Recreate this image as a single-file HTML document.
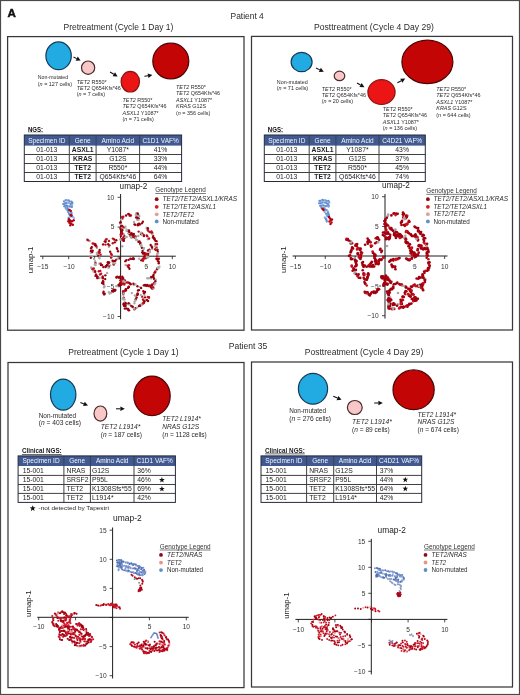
<!DOCTYPE html>
<html><head><meta charset="utf-8"><title>Figure</title>
<style>html,body{margin:0;padding:0;background:#fff;width:520px;height:695px;overflow:hidden;font-family:"Liberation Sans",sans-serif}svg{display:block;will-change:transform}</style>
</head><body>
<svg width="520" height="695" viewBox="0 0 520 695" font-family='&quot;Liberation Sans&quot;, sans-serif'><rect x="0.50" y="0.50" width="519.00" height="694.00" fill="none" stroke="#4a4a4a" stroke-width="1.20"/>
<text stroke="#111" stroke-width="0.45" x="7.60" y="17.10" font-size="11.60" fill="#111" font-weight="bold"><tspan >A</tspan></text>
<text x="230.50" y="18.60" font-size="8.50" fill="#2a2a2a" textLength="33.30" lengthAdjust="spacingAndGlyphs"><tspan >Patient 4</tspan></text>
<text x="228.80" y="349.20" font-size="8.50" fill="#2a2a2a" textLength="38.40" lengthAdjust="spacingAndGlyphs"><tspan >Patient 35</tspan></text>
<rect x="7.60" y="36.60" width="236.40" height="293.60" fill="none" stroke="#383838" stroke-width="1.25"/>
<rect x="251.50" y="36.40" width="261.00" height="293.60" fill="none" stroke="#383838" stroke-width="1.25"/>
<rect x="8.00" y="362.50" width="236.00" height="325.10" fill="none" stroke="#383838" stroke-width="1.25"/>
<rect x="251.50" y="362.00" width="261.00" height="325.00" fill="none" stroke="#383838" stroke-width="1.25"/>
<text x="63.50" y="29.80" font-size="8.60" fill="#2a2a2a" textLength="109.80" lengthAdjust="spacingAndGlyphs"><tspan >Pretreatment (Cycle 1 Day 1)</tspan></text>
<ellipse cx="58.60" cy="55.80" rx="12.70" ry="13.90" fill="#22aae2" stroke="#173b56" stroke-width="1.20"/>
<text x="37.80" y="79.30" font-size="5.45" fill="#2a2a2a" textLength="30.30" lengthAdjust="spacingAndGlyphs"><tspan >Non-mutated</tspan></text>
<text x="37.80" y="85.60" font-size="5.45" fill="#2a2a2a" textLength="34.30" lengthAdjust="spacingAndGlyphs"><tspan >(</tspan><tspan font-style="italic">n</tspan><tspan > = 127 cells)</tspan></text>
<line x1="73.50" y1="57.00" x2="76.68" y2="58.61" stroke="#111" stroke-width="1.05"/>
<polygon points="80.60,60.60 75.64,60.66 77.72,56.56" fill="#111"/>
<ellipse cx="88.10" cy="67.70" rx="6.60" ry="6.70" fill="#f8c8c8" stroke="#4a2a2a" stroke-width="1.20"/>
<text x="76.70" y="83.70" font-size="5.45" fill="#2a2a2a"><tspan font-style="italic">TET2</tspan><tspan > R550*</tspan></text>
<text x="76.70" y="90.00" font-size="5.45" fill="#2a2a2a"><tspan font-style="italic">TET2</tspan><tspan > Q654Kfs*46</tspan></text>
<text x="76.70" y="96.30" font-size="5.45" fill="#2a2a2a"><tspan >(</tspan><tspan font-style="italic">n</tspan><tspan > = 7 cells)</tspan></text>
<line x1="110.00" y1="72.00" x2="113.84" y2="74.32" stroke="#111" stroke-width="1.05"/>
<polygon points="117.60,76.60 112.64,76.29 115.03,72.35" fill="#111"/>
<ellipse cx="130.30" cy="81.70" rx="9.20" ry="10.30" fill="#eb1515" stroke="#8c1212" stroke-width="1.20"/>
<text x="122.50" y="102.10" font-size="5.45" fill="#2a2a2a"><tspan font-style="italic">TET2</tspan><tspan > R550*</tspan></text>
<text x="122.50" y="108.47" font-size="5.45" fill="#2a2a2a"><tspan font-style="italic">TET2</tspan><tspan > Q654Kfs*46</tspan></text>
<text x="122.50" y="114.84" font-size="5.45" fill="#2a2a2a"><tspan font-style="italic">ASXL1</tspan><tspan > Y1087*</tspan></text>
<text x="122.50" y="121.21" font-size="5.45" fill="#2a2a2a"><tspan >(</tspan><tspan font-style="italic">n</tspan><tspan > = 71 cells)</tspan></text>
<line x1="144.40" y1="76.30" x2="148.07" y2="75.66" stroke="#111" stroke-width="1.05"/>
<polygon points="152.40,74.90 148.46,77.92 147.67,73.39" fill="#111"/>
<ellipse cx="170.80" cy="61.10" rx="18.00" ry="17.90" fill="#c30505" stroke="#4d0505" stroke-width="1.20"/>
<text x="176.00" y="89.00" font-size="5.45" fill="#2a2a2a"><tspan font-style="italic">TET2</tspan><tspan > R550*</tspan></text>
<text x="176.00" y="95.40" font-size="5.45" fill="#2a2a2a"><tspan font-style="italic">TET2</tspan><tspan > Q654Kfs*46</tspan></text>
<text x="176.00" y="101.80" font-size="5.45" fill="#2a2a2a"><tspan font-style="italic">ASXL1</tspan><tspan > Y1087*</tspan></text>
<text x="176.00" y="108.20" font-size="5.45" fill="#2a2a2a"><tspan font-style="italic">KRAS</tspan><tspan > G12S</tspan></text>
<text x="176.00" y="114.60" font-size="5.45" fill="#2a2a2a"><tspan >(</tspan><tspan font-style="italic">n</tspan><tspan > = 356 cells)</tspan></text>
<text x="314.00" y="29.80" font-size="8.60" fill="#2a2a2a" textLength="119.80" lengthAdjust="spacingAndGlyphs"><tspan >Posttreatment (Cycle 4 Day 29)</tspan></text>
<ellipse cx="301.60" cy="62.00" rx="10.50" ry="9.70" fill="#22aae2" stroke="#173b56" stroke-width="1.20"/>
<text x="276.80" y="83.50" font-size="5.45" fill="#2a2a2a" textLength="31.00" lengthAdjust="spacingAndGlyphs"><tspan >Non-mutated</tspan></text>
<text x="276.80" y="90.00" font-size="5.45" fill="#2a2a2a" textLength="31.40" lengthAdjust="spacingAndGlyphs"><tspan >(</tspan><tspan font-style="italic">n</tspan><tspan > = 71 cells)</tspan></text>
<line x1="316.00" y1="68.00" x2="319.84" y2="69.87" stroke="#111" stroke-width="1.05"/>
<polygon points="323.80,71.80 318.84,71.94 320.85,67.81" fill="#111"/>
<ellipse cx="339.50" cy="75.90" rx="5.30" ry="4.70" fill="#f8c8c8" stroke="#4a2a2a" stroke-width="1.20"/>
<text x="321.80" y="90.70" font-size="5.45" fill="#2a2a2a"><tspan font-style="italic">TET2</tspan><tspan > R550*</tspan></text>
<text x="321.80" y="97.00" font-size="5.45" fill="#2a2a2a"><tspan font-style="italic">TET2</tspan><tspan > Q654Kfs*46</tspan></text>
<text x="321.80" y="103.30" font-size="5.45" fill="#2a2a2a"><tspan >(</tspan><tspan font-style="italic">n</tspan><tspan > = 20 cells)</tspan></text>
<line x1="357.00" y1="83.00" x2="360.57" y2="85.03" stroke="#111" stroke-width="1.05"/>
<polygon points="364.40,87.20 359.44,87.03 361.71,83.03" fill="#111"/>
<ellipse cx="381.50" cy="92.10" rx="13.60" ry="12.40" fill="#eb1515" stroke="#8c1212" stroke-width="1.20"/>
<text x="382.80" y="111.00" font-size="5.45" fill="#2a2a2a"><tspan font-style="italic">TET2</tspan><tspan > R550*</tspan></text>
<text x="382.80" y="117.40" font-size="5.45" fill="#2a2a2a"><tspan font-style="italic">TET2</tspan><tspan > Q654Kfs*46</tspan></text>
<text x="382.80" y="123.80" font-size="5.45" fill="#2a2a2a"><tspan font-style="italic">ASXL1</tspan><tspan > Y1087*</tspan></text>
<text x="382.80" y="130.20" font-size="5.45" fill="#2a2a2a"><tspan >(</tspan><tspan font-style="italic">n</tspan><tspan > = 136 cells)</tspan></text>
<line x1="397.40" y1="82.80" x2="401.33" y2="80.69" stroke="#111" stroke-width="1.05"/>
<polygon points="405.20,78.60 402.42,82.71 400.24,78.66" fill="#111"/>
<ellipse cx="427.40" cy="61.90" rx="25.50" ry="21.70" fill="#c30505" stroke="#4d0505" stroke-width="1.20"/>
<text x="436.30" y="90.60" font-size="5.45" fill="#2a2a2a"><tspan font-style="italic">TET2</tspan><tspan > R550*</tspan></text>
<text x="436.30" y="97.10" font-size="5.45" fill="#2a2a2a"><tspan font-style="italic">TET2</tspan><tspan > Q654Kfs*46</tspan></text>
<text x="436.30" y="103.60" font-size="5.45" fill="#2a2a2a"><tspan font-style="italic">ASXL1</tspan><tspan > Y1087*</tspan></text>
<text x="436.30" y="110.10" font-size="5.45" fill="#2a2a2a"><tspan font-style="italic">KRAS</tspan><tspan > G12S</tspan></text>
<text x="436.30" y="116.60" font-size="5.45" fill="#2a2a2a"><tspan >(</tspan><tspan font-style="italic">n</tspan><tspan > = 644 cells)</tspan></text>
<text x="27.90" y="131.80" font-size="6.40" fill="#0a0a0a" font-weight="bold" textLength="15.20" lengthAdjust="spacingAndGlyphs"><tspan >NGS:</tspan></text>
<line x1="27.90" y1="132.60" x2="43.10" y2="132.60" stroke="#b8b8c8" stroke-width="0.60"/>
<rect x="24.30" y="135.00" width="157.30" height="10.60" fill="#405991" stroke="none" stroke-width="1.00"/>
<text x="46.80" y="142.70" font-size="6.50" fill="#f4f6fb" text-anchor="middle"><tspan >Specimen ID</tspan></text>
<text x="82.70" y="142.70" font-size="6.50" fill="#f4f6fb" text-anchor="middle"><tspan >Gene</tspan></text>
<text x="117.85" y="142.70" font-size="6.50" fill="#f4f6fb" text-anchor="middle"><tspan >Amino Acid</tspan></text>
<text x="160.60" y="142.70" font-size="6.50" fill="#f4f6fb" text-anchor="middle"><tspan >C1D1 VAF%</tspan></text>
<text x="46.80" y="152.20" font-size="6.80" fill="#1e1e1e" text-anchor="middle"><tspan >01-013</tspan></text>
<text x="82.70" y="152.20" font-size="6.80" fill="#1e1e1e" text-anchor="middle"><tspan font-weight="bold">ASXL1</tspan></text>
<text x="117.85" y="152.20" font-size="6.80" fill="#1e1e1e" text-anchor="middle"><tspan >Y1087*</tspan></text>
<text x="160.60" y="152.20" font-size="6.80" fill="#1e1e1e" text-anchor="middle"><tspan >41%</tspan></text>
<text x="46.80" y="161.20" font-size="6.80" fill="#1e1e1e" text-anchor="middle"><tspan >01-013</tspan></text>
<text x="82.70" y="161.20" font-size="6.80" fill="#1e1e1e" text-anchor="middle"><tspan font-weight="bold">KRAS</tspan></text>
<text x="117.85" y="161.20" font-size="6.80" fill="#1e1e1e" text-anchor="middle"><tspan >G12S</tspan></text>
<text x="160.60" y="161.20" font-size="6.80" fill="#1e1e1e" text-anchor="middle"><tspan >33%</tspan></text>
<text x="46.80" y="170.20" font-size="6.80" fill="#1e1e1e" text-anchor="middle"><tspan >01-013</tspan></text>
<text x="82.70" y="170.20" font-size="6.80" fill="#1e1e1e" text-anchor="middle"><tspan font-weight="bold">TET2</tspan></text>
<text x="117.85" y="170.20" font-size="6.80" fill="#1e1e1e" text-anchor="middle"><tspan >R550*</tspan></text>
<text x="160.60" y="170.20" font-size="6.80" fill="#1e1e1e" text-anchor="middle"><tspan >44%</tspan></text>
<text x="46.80" y="179.20" font-size="6.80" fill="#1e1e1e" text-anchor="middle"><tspan >01-013</tspan></text>
<text x="82.70" y="179.20" font-size="6.80" fill="#1e1e1e" text-anchor="middle"><tspan font-weight="bold">TET2</tspan></text>
<text x="117.85" y="179.20" font-size="6.80" fill="#1e1e1e" text-anchor="middle"><tspan >Q654Kfs*46</tspan></text>
<text x="160.60" y="179.20" font-size="6.80" fill="#1e1e1e" text-anchor="middle"><tspan >64%</tspan></text>
<line x1="24.30" y1="154.50" x2="181.60" y2="154.50" stroke="#404040" stroke-width="1.00"/>
<line x1="24.30" y1="163.50" x2="181.60" y2="163.50" stroke="#404040" stroke-width="1.00"/>
<line x1="24.30" y1="172.50" x2="181.60" y2="172.50" stroke="#404040" stroke-width="1.00"/>
<line x1="69.30" y1="135.00" x2="69.30" y2="181.50" stroke="#404040" stroke-width="1.00"/>
<line x1="96.10" y1="135.00" x2="96.10" y2="181.50" stroke="#404040" stroke-width="1.00"/>
<line x1="139.60" y1="135.00" x2="139.60" y2="181.50" stroke="#404040" stroke-width="1.00"/>
<rect x="24.30" y="135.00" width="157.30" height="46.50" fill="none" stroke="#262a3a" stroke-width="1.00"/>
<text x="267.80" y="131.80" font-size="6.40" fill="#0a0a0a" font-weight="bold" textLength="15.20" lengthAdjust="spacingAndGlyphs"><tspan >NGS:</tspan></text>
<line x1="267.80" y1="132.60" x2="283.00" y2="132.60" stroke="#b8b8c8" stroke-width="0.60"/>
<rect x="264.30" y="135.00" width="161.00" height="10.60" fill="#405991" stroke="none" stroke-width="1.00"/>
<text x="286.75" y="142.70" font-size="6.50" fill="#f4f6fb" text-anchor="middle"><tspan >Specimen ID</tspan></text>
<text x="322.55" y="142.70" font-size="6.50" fill="#f4f6fb" text-anchor="middle"><tspan >Gene</tspan></text>
<text x="357.45" y="142.70" font-size="6.50" fill="#f4f6fb" text-anchor="middle"><tspan >Amino Acid</tspan></text>
<text x="402.15" y="142.70" font-size="6.50" fill="#f4f6fb" text-anchor="middle"><tspan >C4D21 VAF%</tspan></text>
<text x="286.75" y="152.20" font-size="6.80" fill="#1e1e1e" text-anchor="middle"><tspan >01-013</tspan></text>
<text x="322.55" y="152.20" font-size="6.80" fill="#1e1e1e" text-anchor="middle"><tspan font-weight="bold">ASXL1</tspan></text>
<text x="357.45" y="152.20" font-size="6.80" fill="#1e1e1e" text-anchor="middle"><tspan >Y1087*</tspan></text>
<text x="402.15" y="152.20" font-size="6.80" fill="#1e1e1e" text-anchor="middle"><tspan >43%</tspan></text>
<text x="286.75" y="161.20" font-size="6.80" fill="#1e1e1e" text-anchor="middle"><tspan >01-013</tspan></text>
<text x="322.55" y="161.20" font-size="6.80" fill="#1e1e1e" text-anchor="middle"><tspan font-weight="bold">KRAS</tspan></text>
<text x="357.45" y="161.20" font-size="6.80" fill="#1e1e1e" text-anchor="middle"><tspan >G12S</tspan></text>
<text x="402.15" y="161.20" font-size="6.80" fill="#1e1e1e" text-anchor="middle"><tspan >37%</tspan></text>
<text x="286.75" y="170.20" font-size="6.80" fill="#1e1e1e" text-anchor="middle"><tspan >01-013</tspan></text>
<text x="322.55" y="170.20" font-size="6.80" fill="#1e1e1e" text-anchor="middle"><tspan font-weight="bold">TET2</tspan></text>
<text x="357.45" y="170.20" font-size="6.80" fill="#1e1e1e" text-anchor="middle"><tspan >R550*</tspan></text>
<text x="402.15" y="170.20" font-size="6.80" fill="#1e1e1e" text-anchor="middle"><tspan >45%</tspan></text>
<text x="286.75" y="179.20" font-size="6.80" fill="#1e1e1e" text-anchor="middle"><tspan >01-013</tspan></text>
<text x="322.55" y="179.20" font-size="6.80" fill="#1e1e1e" text-anchor="middle"><tspan font-weight="bold">TET2</tspan></text>
<text x="357.45" y="179.20" font-size="6.80" fill="#1e1e1e" text-anchor="middle"><tspan >Q654Kfs*46</tspan></text>
<text x="402.15" y="179.20" font-size="6.80" fill="#1e1e1e" text-anchor="middle"><tspan >74%</tspan></text>
<line x1="264.30" y1="154.50" x2="425.30" y2="154.50" stroke="#404040" stroke-width="1.00"/>
<line x1="264.30" y1="163.50" x2="425.30" y2="163.50" stroke="#404040" stroke-width="1.00"/>
<line x1="264.30" y1="172.50" x2="425.30" y2="172.50" stroke="#404040" stroke-width="1.00"/>
<line x1="309.20" y1="135.00" x2="309.20" y2="181.50" stroke="#404040" stroke-width="1.00"/>
<line x1="335.90" y1="135.00" x2="335.90" y2="181.50" stroke="#404040" stroke-width="1.00"/>
<line x1="379.00" y1="135.00" x2="379.00" y2="181.50" stroke="#404040" stroke-width="1.00"/>
<rect x="264.30" y="135.00" width="161.00" height="46.50" fill="none" stroke="#262a3a" stroke-width="1.00"/>
<text x="68.30" y="355.20" font-size="8.60" fill="#2a2a2a" textLength="110.30" lengthAdjust="spacingAndGlyphs"><tspan >Pretreatment (Cycle 1 Day 1)</tspan></text>
<ellipse cx="63.20" cy="394.60" rx="12.70" ry="15.50" fill="#22aae2" stroke="#173b56" stroke-width="1.20"/>
<text x="38.70" y="418.00" font-size="6.40" fill="#2a2a2a" textLength="37.50" lengthAdjust="spacingAndGlyphs"><tspan >Non-mutated</tspan></text>
<text x="38.70" y="425.30" font-size="6.40" fill="#2a2a2a" textLength="42.30" lengthAdjust="spacingAndGlyphs"><tspan >(</tspan><tspan font-style="italic">n</tspan><tspan > = 403 cells)</tspan></text>
<line x1="80.40" y1="402.50" x2="83.93" y2="403.94" stroke="#111" stroke-width="1.05"/>
<polygon points="88.00,405.60 83.06,406.07 84.79,401.81" fill="#111"/>
<ellipse cx="100.40" cy="413.60" rx="6.40" ry="7.60" fill="#f8c8c8" stroke="#4a2a2a" stroke-width="1.20"/>
<text x="100.70" y="428.80" font-size="6.40" fill="#2a2a2a" textLength="39.70" lengthAdjust="spacingAndGlyphs"><tspan font-style="italic">TET2 L1914*</tspan></text>
<text x="100.70" y="437.20" font-size="6.55" fill="#2a2a2a"><tspan >(</tspan><tspan font-style="italic">n</tspan><tspan > = 187 cells)</tspan></text>
<line x1="116.00" y1="408.80" x2="120.40" y2="408.80" stroke="#111" stroke-width="1.05"/>
<polygon points="124.80,408.80 120.40,411.10 120.40,406.50" fill="#111"/>
<ellipse cx="152.00" cy="395.90" rx="18.20" ry="19.80" fill="#c30505" stroke="#4d0505" stroke-width="1.20"/>
<text x="162.30" y="420.80" font-size="6.55" fill="#2a2a2a"><tspan font-style="italic">TET2 L1914*</tspan></text>
<text x="162.30" y="428.65" font-size="6.55" fill="#2a2a2a"><tspan font-style="italic">NRAS G12S</tspan></text>
<text x="162.30" y="436.50" font-size="6.55" fill="#2a2a2a"><tspan >(</tspan><tspan font-style="italic">n</tspan><tspan > = 1128 cells)</tspan></text>
<text x="304.80" y="355.20" font-size="8.60" fill="#2a2a2a" textLength="118.50" lengthAdjust="spacingAndGlyphs"><tspan >Posttreatment (Cycle 4 Day 29)</tspan></text>
<ellipse cx="313.00" cy="388.80" rx="14.60" ry="15.40" fill="#22aae2" stroke="#173b56" stroke-width="1.20"/>
<text x="289.20" y="413.10" font-size="6.40" fill="#2a2a2a" textLength="37.00" lengthAdjust="spacingAndGlyphs"><tspan >Non-mutated</tspan></text>
<text x="289.20" y="421.00" font-size="6.40" fill="#2a2a2a" textLength="41.80" lengthAdjust="spacingAndGlyphs"><tspan >(</tspan><tspan font-style="italic">n</tspan><tspan > = 276 cells)</tspan></text>
<line x1="333.30" y1="396.20" x2="337.47" y2="398.03" stroke="#111" stroke-width="1.05"/>
<polygon points="341.50,399.80 336.55,400.14 338.40,395.93" fill="#111"/>
<ellipse cx="354.80" cy="407.50" rx="7.40" ry="7.00" fill="#f8c8c8" stroke="#4a2a2a" stroke-width="1.20"/>
<text x="352.10" y="423.80" font-size="6.40" fill="#2a2a2a" textLength="39.70" lengthAdjust="spacingAndGlyphs"><tspan font-style="italic">TET2 L1914*</tspan></text>
<text x="352.10" y="431.50" font-size="6.55" fill="#2a2a2a"><tspan >(</tspan><tspan font-style="italic">n</tspan><tspan > = 89 cells)</tspan></text>
<line x1="374.20" y1="403.00" x2="378.40" y2="403.00" stroke="#111" stroke-width="1.05"/>
<polygon points="382.80,403.00 378.40,405.30 378.40,400.70" fill="#111"/>
<ellipse cx="413.60" cy="389.80" rx="20.60" ry="19.90" fill="#c30505" stroke="#4d0505" stroke-width="1.20"/>
<text x="417.50" y="416.60" font-size="6.55" fill="#2a2a2a"><tspan font-style="italic">TET2 L1914*</tspan></text>
<text x="417.50" y="424.40" font-size="6.55" fill="#2a2a2a"><tspan font-style="italic">NRAS G12S</tspan></text>
<text x="417.50" y="432.20" font-size="6.55" fill="#2a2a2a"><tspan >(</tspan><tspan font-style="italic">n</tspan><tspan > = 674 cells)</tspan></text>
<text x="21.90" y="453.00" font-size="6.40" fill="#1a1a1a" font-weight="bold" textLength="39.80" lengthAdjust="spacingAndGlyphs" text-decoration="underline"><tspan >Clinical NGS:</tspan></text>
<rect x="18.10" y="455.90" width="157.30" height="10.10" fill="#405991" stroke="none" stroke-width="1.00"/>
<text x="41.00" y="463.10" font-size="6.50" fill="#f4f6fb" text-anchor="middle"><tspan >Specimen ID</tspan></text>
<text x="77.15" y="463.10" font-size="6.50" fill="#f4f6fb" text-anchor="middle"><tspan >Gene</tspan></text>
<text x="112.20" y="463.10" font-size="6.50" fill="#f4f6fb" text-anchor="middle"><tspan >Amino Acid</tspan></text>
<text x="154.70" y="463.10" font-size="6.50" fill="#f4f6fb" text-anchor="middle"><tspan >C1D1 VAF%</tspan></text>
<text x="22.70" y="473.10" font-size="6.80" fill="#1e1e1e"><tspan >15-001</tspan></text>
<text x="66.50" y="473.10" font-size="6.80" fill="#1e1e1e"><tspan >NRAS</tspan></text>
<text x="92.00" y="473.10" font-size="6.80" fill="#1e1e1e"><tspan >G12S</tspan></text>
<text x="137.30" y="473.10" font-size="6.80" fill="#1e1e1e"><tspan >36%</tspan></text>
<text x="22.70" y="482.20" font-size="6.80" fill="#1e1e1e"><tspan >15-001</tspan></text>
<text x="66.50" y="482.20" font-size="6.80" fill="#1e1e1e"><tspan >SRSF2</tspan></text>
<text x="92.00" y="482.20" font-size="6.80" fill="#1e1e1e"><tspan >P95L</tspan></text>
<text x="137.30" y="482.20" font-size="6.80" fill="#1e1e1e"><tspan >46%</tspan></text>
<text x="22.70" y="491.10" font-size="6.80" fill="#1e1e1e"><tspan >15-001</tspan></text>
<text x="66.50" y="491.10" font-size="6.80" fill="#1e1e1e"><tspan >TET2</tspan></text>
<text x="92.00" y="491.10" font-size="6.80" fill="#1e1e1e"><tspan >K1308Sfs*55</tspan></text>
<text x="137.30" y="491.10" font-size="6.80" fill="#1e1e1e"><tspan >69%</tspan></text>
<text x="22.70" y="500.10" font-size="6.80" fill="#1e1e1e"><tspan >15-001</tspan></text>
<text x="66.50" y="500.10" font-size="6.80" fill="#1e1e1e"><tspan >TET2</tspan></text>
<text x="92.00" y="500.10" font-size="6.80" fill="#1e1e1e"><tspan >L1914*</tspan></text>
<text x="137.30" y="500.10" font-size="6.80" fill="#1e1e1e"><tspan >42%</tspan></text>
<line x1="18.10" y1="475.40" x2="175.40" y2="475.40" stroke="#404040" stroke-width="1.00"/>
<line x1="18.10" y1="484.50" x2="175.40" y2="484.50" stroke="#404040" stroke-width="1.00"/>
<line x1="18.10" y1="493.40" x2="175.40" y2="493.40" stroke="#404040" stroke-width="1.00"/>
<line x1="63.90" y1="455.90" x2="63.90" y2="502.40" stroke="#404040" stroke-width="1.00"/>
<line x1="90.40" y1="455.90" x2="90.40" y2="502.40" stroke="#404040" stroke-width="1.00"/>
<line x1="134.00" y1="455.90" x2="134.00" y2="502.40" stroke="#404040" stroke-width="1.00"/>
<rect x="18.10" y="455.90" width="157.30" height="46.50" fill="none" stroke="#262a3a" stroke-width="1.00"/>
<text x="265.00" y="452.60" font-size="6.40" fill="#1a1a1a" font-weight="bold" textLength="39.80" lengthAdjust="spacingAndGlyphs" text-decoration="underline"><tspan >Clinical NGS:</tspan></text>
<rect x="261.00" y="455.90" width="160.70" height="10.10" fill="#405991" stroke="none" stroke-width="1.00"/>
<text x="283.80" y="463.10" font-size="6.50" fill="#f4f6fb" text-anchor="middle"><tspan >Specimen ID</tspan></text>
<text x="320.15" y="463.10" font-size="6.50" fill="#f4f6fb" text-anchor="middle"><tspan >Gene</tspan></text>
<text x="355.10" y="463.10" font-size="6.50" fill="#f4f6fb" text-anchor="middle"><tspan >Amino Acid</tspan></text>
<text x="399.10" y="463.10" font-size="6.50" fill="#f4f6fb" text-anchor="middle"><tspan >C4D21 VAF%</tspan></text>
<text x="265.60" y="473.10" font-size="6.80" fill="#1e1e1e"><tspan >15-001</tspan></text>
<text x="309.20" y="473.10" font-size="6.80" fill="#1e1e1e"><tspan >NRAS</tspan></text>
<text x="335.30" y="473.10" font-size="6.80" fill="#1e1e1e"><tspan >G12S</tspan></text>
<text x="379.80" y="473.10" font-size="6.80" fill="#1e1e1e"><tspan >37%</tspan></text>
<text x="265.60" y="482.20" font-size="6.80" fill="#1e1e1e"><tspan >15-001</tspan></text>
<text x="309.20" y="482.20" font-size="6.80" fill="#1e1e1e"><tspan >SRSF2</tspan></text>
<text x="335.30" y="482.20" font-size="6.80" fill="#1e1e1e"><tspan >P95L</tspan></text>
<text x="379.80" y="482.20" font-size="6.80" fill="#1e1e1e"><tspan >44%</tspan></text>
<text x="265.60" y="491.10" font-size="6.80" fill="#1e1e1e"><tspan >15-001</tspan></text>
<text x="309.20" y="491.10" font-size="6.80" fill="#1e1e1e"><tspan >TET2</tspan></text>
<text x="335.30" y="491.10" font-size="6.80" fill="#1e1e1e"><tspan >K1308Sfs*55</tspan></text>
<text x="379.80" y="491.10" font-size="6.80" fill="#1e1e1e"><tspan >64%</tspan></text>
<text x="265.60" y="500.10" font-size="6.80" fill="#1e1e1e"><tspan >15-001</tspan></text>
<text x="309.20" y="500.10" font-size="6.80" fill="#1e1e1e"><tspan >TET2</tspan></text>
<text x="335.30" y="500.10" font-size="6.80" fill="#1e1e1e"><tspan >L1914*</tspan></text>
<text x="379.80" y="500.10" font-size="6.80" fill="#1e1e1e"><tspan >42%</tspan></text>
<line x1="261.00" y1="475.40" x2="421.70" y2="475.40" stroke="#404040" stroke-width="1.00"/>
<line x1="261.00" y1="484.50" x2="421.70" y2="484.50" stroke="#404040" stroke-width="1.00"/>
<line x1="261.00" y1="493.40" x2="421.70" y2="493.40" stroke="#404040" stroke-width="1.00"/>
<line x1="306.60" y1="455.90" x2="306.60" y2="502.40" stroke="#404040" stroke-width="1.00"/>
<line x1="333.70" y1="455.90" x2="333.70" y2="502.40" stroke="#404040" stroke-width="1.00"/>
<line x1="376.50" y1="455.90" x2="376.50" y2="502.40" stroke="#404040" stroke-width="1.00"/>
<rect x="261.00" y="455.90" width="160.70" height="46.50" fill="none" stroke="#262a3a" stroke-width="1.00"/>
<polygon points="161.90,477.00 162.64,478.98 164.75,479.07 163.10,480.39 163.66,482.43 161.90,481.26 160.14,482.43 160.70,480.39 159.05,479.07 161.16,478.98" fill="#111"/>
<polygon points="161.90,485.90 162.64,487.88 164.75,487.97 163.10,489.29 163.66,491.33 161.90,490.16 160.14,491.33 160.70,489.29 159.05,487.97 161.16,487.88" fill="#111"/>
<polygon points="405.30,476.70 406.04,478.68 408.15,478.77 406.50,480.09 407.06,482.13 405.30,480.96 403.54,482.13 404.10,480.09 402.45,478.77 404.56,478.68" fill="#111"/>
<polygon points="405.30,485.70 406.04,487.68 408.15,487.77 406.50,489.09 407.06,491.13 405.30,489.96 403.54,491.13 404.10,489.09 402.45,487.77 404.56,487.68" fill="#111"/>
<polygon points="32.70,505.25 33.48,507.33 35.70,507.43 33.96,508.81 34.55,510.95 32.70,509.72 30.85,510.95 31.44,508.81 29.70,507.43 31.92,507.33" fill="#111"/>
<text x="38.50" y="510.20" font-size="6.10" fill="#2a2a2a" textLength="70.40" lengthAdjust="spacingAndGlyphs"><tspan >-not detected by Tapestri</tspan></text>
<line x1="120.60" y1="194.00" x2="120.60" y2="319.20" stroke="#1e1e1e" stroke-width="1.00"/>
<line x1="40.00" y1="256.20" x2="175.80" y2="256.20" stroke="#1e1e1e" stroke-width="1.00"/>
<line x1="42.80" y1="256.20" x2="42.80" y2="259.20" stroke="#1e1e1e" stroke-width="0.80"/>
<line x1="68.70" y1="256.20" x2="68.70" y2="259.20" stroke="#1e1e1e" stroke-width="0.80"/>
<line x1="94.60" y1="256.20" x2="94.60" y2="259.20" stroke="#1e1e1e" stroke-width="0.80"/>
<line x1="120.50" y1="256.20" x2="120.50" y2="259.20" stroke="#1e1e1e" stroke-width="0.80"/>
<line x1="146.40" y1="256.20" x2="146.40" y2="259.20" stroke="#1e1e1e" stroke-width="0.80"/>
<line x1="172.30" y1="256.20" x2="172.30" y2="259.20" stroke="#1e1e1e" stroke-width="0.80"/>
<line x1="117.60" y1="197.30" x2="120.60" y2="197.30" stroke="#1e1e1e" stroke-width="0.80"/>
<line x1="117.60" y1="227.10" x2="120.60" y2="227.10" stroke="#1e1e1e" stroke-width="0.80"/>
<line x1="117.60" y1="256.90" x2="120.60" y2="256.90" stroke="#1e1e1e" stroke-width="0.80"/>
<line x1="117.60" y1="286.70" x2="120.60" y2="286.70" stroke="#1e1e1e" stroke-width="0.80"/>
<line x1="117.60" y1="316.50" x2="120.60" y2="316.50" stroke="#1e1e1e" stroke-width="0.80"/>
<text x="42.80" y="268.80" font-size="6.60" fill="#333" text-anchor="middle"><tspan >−15</tspan></text>
<text x="69.00" y="268.80" font-size="6.60" fill="#333" text-anchor="middle"><tspan >−10</tspan></text>
<text x="146.30" y="268.80" font-size="6.60" fill="#333" text-anchor="middle"><tspan >5</tspan></text>
<text x="172.30" y="268.80" font-size="6.60" fill="#333" text-anchor="middle"><tspan >10</tspan></text>
<text x="114.30" y="199.70" font-size="6.60" fill="#333" text-anchor="end"><tspan >10</tspan></text>
<text x="114.30" y="229.40" font-size="6.60" fill="#333" text-anchor="end"><tspan >5</tspan></text>
<text x="114.30" y="288.90" font-size="6.60" fill="#333" text-anchor="end"><tspan >−5</tspan></text>
<text x="114.30" y="318.80" font-size="6.60" fill="#333" text-anchor="end"><tspan >−10</tspan></text>
<text x="119.60" y="188.70" font-size="8.20" fill="#222" textLength="27.70" lengthAdjust="spacingAndGlyphs"><tspan >umap-2</tspan></text>
<text transform="translate(31.40 259.90) rotate(-90)" x="0" y="2.05" font-size="7.90" text-anchor="middle" fill="#222">umap-1</text>
<line x1="385.00" y1="194.00" x2="385.00" y2="318.60" stroke="#1e1e1e" stroke-width="1.00"/>
<line x1="292.60" y1="256.00" x2="447.50" y2="256.00" stroke="#1e1e1e" stroke-width="1.00"/>
<line x1="295.40" y1="256.00" x2="295.40" y2="259.00" stroke="#1e1e1e" stroke-width="0.80"/>
<line x1="325.25" y1="256.00" x2="325.25" y2="259.00" stroke="#1e1e1e" stroke-width="0.80"/>
<line x1="355.10" y1="256.00" x2="355.10" y2="259.00" stroke="#1e1e1e" stroke-width="0.80"/>
<line x1="384.95" y1="256.00" x2="384.95" y2="259.00" stroke="#1e1e1e" stroke-width="0.80"/>
<line x1="414.80" y1="256.00" x2="414.80" y2="259.00" stroke="#1e1e1e" stroke-width="0.80"/>
<line x1="444.65" y1="256.00" x2="444.65" y2="259.00" stroke="#1e1e1e" stroke-width="0.80"/>
<line x1="382.00" y1="196.70" x2="385.00" y2="196.70" stroke="#1e1e1e" stroke-width="0.80"/>
<line x1="382.00" y1="226.45" x2="385.00" y2="226.45" stroke="#1e1e1e" stroke-width="0.80"/>
<line x1="382.00" y1="256.20" x2="385.00" y2="256.20" stroke="#1e1e1e" stroke-width="0.80"/>
<line x1="382.00" y1="285.95" x2="385.00" y2="285.95" stroke="#1e1e1e" stroke-width="0.80"/>
<line x1="382.00" y1="315.70" x2="385.00" y2="315.70" stroke="#1e1e1e" stroke-width="0.80"/>
<text x="295.60" y="268.50" font-size="6.60" fill="#333" text-anchor="middle"><tspan >−15</tspan></text>
<text x="325.60" y="268.50" font-size="6.60" fill="#333" text-anchor="middle"><tspan >−10</tspan></text>
<text x="414.90" y="268.50" font-size="6.60" fill="#333" text-anchor="middle"><tspan >5</tspan></text>
<text x="444.70" y="268.50" font-size="6.60" fill="#333" text-anchor="middle"><tspan >10</tspan></text>
<text x="378.60" y="199.10" font-size="6.60" fill="#333" text-anchor="end"><tspan >10</tspan></text>
<text x="378.60" y="228.90" font-size="6.60" fill="#333" text-anchor="end"><tspan >5</tspan></text>
<text x="378.60" y="288.60" font-size="6.60" fill="#333" text-anchor="end"><tspan >−5</tspan></text>
<text x="378.60" y="318.10" font-size="6.60" fill="#333" text-anchor="end"><tspan >−10</tspan></text>
<text x="382.10" y="188.30" font-size="8.20" fill="#222" textLength="27.70" lengthAdjust="spacingAndGlyphs"><tspan >umap-2</tspan></text>
<text transform="translate(283.60 259.70) rotate(-90)" x="0" y="2.05" font-size="7.90" text-anchor="middle" fill="#222">umap-1</text>
<line x1="112.60" y1="527.50" x2="112.60" y2="678.50" stroke="#1e1e1e" stroke-width="1.00"/>
<line x1="37.30" y1="617.30" x2="188.70" y2="617.30" stroke="#1e1e1e" stroke-width="1.00"/>
<line x1="38.70" y1="617.30" x2="38.70" y2="620.30" stroke="#1e1e1e" stroke-width="0.80"/>
<line x1="75.60" y1="617.30" x2="75.60" y2="620.30" stroke="#1e1e1e" stroke-width="0.80"/>
<line x1="112.50" y1="617.30" x2="112.50" y2="620.30" stroke="#1e1e1e" stroke-width="0.80"/>
<line x1="149.40" y1="617.30" x2="149.40" y2="620.30" stroke="#1e1e1e" stroke-width="0.80"/>
<line x1="186.30" y1="617.30" x2="186.30" y2="620.30" stroke="#1e1e1e" stroke-width="0.80"/>
<line x1="109.60" y1="530.20" x2="112.60" y2="530.20" stroke="#1e1e1e" stroke-width="0.80"/>
<line x1="109.60" y1="559.30" x2="112.60" y2="559.30" stroke="#1e1e1e" stroke-width="0.80"/>
<line x1="109.60" y1="588.40" x2="112.60" y2="588.40" stroke="#1e1e1e" stroke-width="0.80"/>
<line x1="109.60" y1="617.50" x2="112.60" y2="617.50" stroke="#1e1e1e" stroke-width="0.80"/>
<line x1="109.60" y1="646.60" x2="112.60" y2="646.60" stroke="#1e1e1e" stroke-width="0.80"/>
<line x1="109.60" y1="675.70" x2="112.60" y2="675.70" stroke="#1e1e1e" stroke-width="0.80"/>
<text x="38.90" y="629.40" font-size="6.60" fill="#333" text-anchor="middle"><tspan >−10</tspan></text>
<text x="149.60" y="629.40" font-size="6.60" fill="#333" text-anchor="middle"><tspan >5</tspan></text>
<text x="186.30" y="629.40" font-size="6.60" fill="#333" text-anchor="middle"><tspan >10</tspan></text>
<text x="106.60" y="532.60" font-size="6.60" fill="#333" text-anchor="end"><tspan >15</tspan></text>
<text x="106.60" y="561.60" font-size="6.60" fill="#333" text-anchor="end"><tspan >10</tspan></text>
<text x="106.60" y="590.70" font-size="6.60" fill="#333" text-anchor="end"><tspan >5</tspan></text>
<text x="106.60" y="648.70" font-size="6.60" fill="#333" text-anchor="end"><tspan >−5</tspan></text>
<text x="106.60" y="678.10" font-size="6.60" fill="#333" text-anchor="end"><tspan >−10</tspan></text>
<text x="113.10" y="521.40" font-size="8.20" fill="#222" textLength="28.70" lengthAdjust="spacingAndGlyphs"><tspan >umap-2</tspan></text>
<text transform="translate(28.60 603.60) rotate(-90)" x="0" y="2.04" font-size="7.85" text-anchor="middle" fill="#222">umap-1</text>
<line x1="371.30" y1="538.80" x2="371.30" y2="674.40" stroke="#1e1e1e" stroke-width="1.00"/>
<line x1="295.40" y1="619.40" x2="447.40" y2="619.40" stroke="#1e1e1e" stroke-width="1.00"/>
<line x1="298.30" y1="619.40" x2="298.30" y2="622.40" stroke="#1e1e1e" stroke-width="0.80"/>
<line x1="334.90" y1="619.40" x2="334.90" y2="622.40" stroke="#1e1e1e" stroke-width="0.80"/>
<line x1="371.50" y1="619.40" x2="371.50" y2="622.40" stroke="#1e1e1e" stroke-width="0.80"/>
<line x1="408.10" y1="619.40" x2="408.10" y2="622.40" stroke="#1e1e1e" stroke-width="0.80"/>
<line x1="444.70" y1="619.40" x2="444.70" y2="622.40" stroke="#1e1e1e" stroke-width="0.80"/>
<line x1="368.30" y1="541.30" x2="371.30" y2="541.30" stroke="#1e1e1e" stroke-width="0.80"/>
<line x1="368.30" y1="567.30" x2="371.30" y2="567.30" stroke="#1e1e1e" stroke-width="0.80"/>
<line x1="368.30" y1="593.30" x2="371.30" y2="593.30" stroke="#1e1e1e" stroke-width="0.80"/>
<line x1="368.30" y1="619.30" x2="371.30" y2="619.30" stroke="#1e1e1e" stroke-width="0.80"/>
<line x1="368.30" y1="645.30" x2="371.30" y2="645.30" stroke="#1e1e1e" stroke-width="0.80"/>
<line x1="368.30" y1="671.30" x2="371.30" y2="671.30" stroke="#1e1e1e" stroke-width="0.80"/>
<text x="298.50" y="631.50" font-size="6.60" fill="#333" text-anchor="middle"><tspan >−10</tspan></text>
<text x="408.20" y="631.50" font-size="6.60" fill="#333" text-anchor="middle"><tspan >5</tspan></text>
<text x="444.80" y="631.50" font-size="6.60" fill="#333" text-anchor="middle"><tspan >10</tspan></text>
<text x="365.30" y="543.70" font-size="6.60" fill="#333" text-anchor="end"><tspan >15</tspan></text>
<text x="365.30" y="569.80" font-size="6.60" fill="#333" text-anchor="end"><tspan >10</tspan></text>
<text x="365.30" y="595.80" font-size="6.60" fill="#333" text-anchor="end"><tspan >5</tspan></text>
<text x="365.30" y="648.30" font-size="6.60" fill="#333" text-anchor="end"><tspan >−5</tspan></text>
<text x="365.30" y="673.70" font-size="6.60" fill="#333" text-anchor="end"><tspan >−10</tspan></text>
<text x="377.60" y="532.80" font-size="8.20" fill="#222" textLength="28.30" lengthAdjust="spacingAndGlyphs"><tspan >umap-2</tspan></text>
<text transform="translate(286.50 605.60) rotate(-90)" x="0" y="2.03" font-size="7.80" text-anchor="middle" fill="#222">umap-1</text>
<text x="155.30" y="192.30" font-size="6.30" fill="#333" textLength="50.50" lengthAdjust="spacingAndGlyphs" text-decoration="underline"><tspan >Genotype Legend</tspan></text>
<circle cx="156.70" cy="199.20" r="1.9" fill="#8e0b14"/>
<text x="162.50" y="201.40" font-size="6.40" fill="#2a2a2a" textLength="74.60" lengthAdjust="spacingAndGlyphs"><tspan font-style="italic">TET2/TET2/ASXL1/KRAS</tspan></text>
<circle cx="156.70" cy="206.80" r="1.9" fill="#d11f22"/>
<text x="162.50" y="209.00" font-size="6.40" fill="#2a2a2a" textLength="53.50" lengthAdjust="spacingAndGlyphs"><tspan font-style="italic">TET2/TET2/ASXL1</tspan></text>
<circle cx="156.70" cy="214.30" r="1.9" fill="#dba39b"/>
<text x="162.50" y="216.50" font-size="6.40" fill="#2a2a2a" textLength="31.70" lengthAdjust="spacingAndGlyphs"><tspan font-style="italic">TET2/TET2</tspan></text>
<circle cx="156.70" cy="221.40" r="1.9" fill="#5d8fc9"/>
<text x="162.50" y="223.60" font-size="6.40" fill="#2a2a2a" textLength="36.30" lengthAdjust="spacingAndGlyphs"><tspan >Non-mutated</tspan></text>
<text x="426.30" y="192.90" font-size="6.30" fill="#333" textLength="50.50" lengthAdjust="spacingAndGlyphs" text-decoration="underline"><tspan >Genotype Legend</tspan></text>
<circle cx="427.90" cy="199.20" r="1.9" fill="#8e0b14"/>
<text x="433.50" y="201.40" font-size="6.40" fill="#2a2a2a" textLength="74.60" lengthAdjust="spacingAndGlyphs"><tspan font-style="italic">TET2/TET2/ASXL1/KRAS</tspan></text>
<circle cx="427.90" cy="206.80" r="1.9" fill="#d11f22"/>
<text x="433.50" y="209.00" font-size="6.40" fill="#2a2a2a" textLength="53.50" lengthAdjust="spacingAndGlyphs"><tspan font-style="italic">TET2/TET2/ASXL1</tspan></text>
<circle cx="427.90" cy="214.20" r="1.9" fill="#dba39b"/>
<text x="433.50" y="216.40" font-size="6.40" fill="#2a2a2a" textLength="31.70" lengthAdjust="spacingAndGlyphs"><tspan font-style="italic">TET2/TET2</tspan></text>
<circle cx="427.90" cy="221.40" r="1.9" fill="#5d8fc9"/>
<text x="433.50" y="223.60" font-size="6.40" fill="#2a2a2a" textLength="36.30" lengthAdjust="spacingAndGlyphs"><tspan >Non-mutated</tspan></text>
<text x="159.80" y="548.70" font-size="6.30" fill="#333" textLength="50.80" lengthAdjust="spacingAndGlyphs" text-decoration="underline"><tspan >Genotype Legend</tspan></text>
<circle cx="161.00" cy="554.90" r="1.9" fill="#8e0b14"/>
<text x="167.10" y="557.10" font-size="6.40" fill="#2a2a2a" textLength="35.30" lengthAdjust="spacingAndGlyphs"><tspan font-style="italic">TET2/NRAS</tspan></text>
<circle cx="161.00" cy="562.60" r="1.9" fill="#e5958e"/>
<text x="167.10" y="564.80" font-size="6.40" fill="#2a2a2a" textLength="14.50" lengthAdjust="spacingAndGlyphs"><tspan font-style="italic">TET2</tspan></text>
<circle cx="161.00" cy="570.10" r="1.9" fill="#5d8fc9"/>
<text x="167.10" y="572.30" font-size="6.40" fill="#2a2a2a" textLength="36.00" lengthAdjust="spacingAndGlyphs"><tspan >Non-mutated</tspan></text>
<text x="424.00" y="548.70" font-size="6.30" fill="#333" textLength="50.80" lengthAdjust="spacingAndGlyphs" text-decoration="underline"><tspan >Genotype Legend</tspan></text>
<circle cx="425.50" cy="554.90" r="1.9" fill="#8e0b14"/>
<text x="431.60" y="557.10" font-size="6.40" fill="#2a2a2a" textLength="35.30" lengthAdjust="spacingAndGlyphs"><tspan font-style="italic">TET2/NRAS</tspan></text>
<circle cx="425.50" cy="562.50" r="1.9" fill="#e5958e"/>
<text x="431.60" y="564.70" font-size="6.40" fill="#2a2a2a" textLength="14.50" lengthAdjust="spacingAndGlyphs"><tspan font-style="italic">TET2</tspan></text>
<circle cx="425.50" cy="570.00" r="1.9" fill="#5d8fc9"/>
<text x="431.60" y="572.20" font-size="6.40" fill="#2a2a2a" textLength="36.00" lengthAdjust="spacingAndGlyphs"><tspan >Non-mutated</tspan></text>
<circle cx="148.00" cy="256.28" r="1.18" fill="#98000f"/>
<circle cx="124.88" cy="302.80" r="1.18" fill="#98000f"/>
<circle cx="126.42" cy="308.46" r="1.18" fill="#98000f"/>
<circle cx="156.64" cy="249.68" r="1.18" fill="#98000f"/>
<circle cx="142.11" cy="233.37" r="1.18" fill="#98000f"/>
<circle cx="135.24" cy="224.85" r="1.18" fill="#98000f"/>
<circle cx="124.05" cy="303.14" r="1.18" fill="#98000f"/>
<circle cx="148.17" cy="254.00" r="1.18" fill="#98000f"/>
<circle cx="129.65" cy="234.36" r="1.18" fill="#98000f"/>
<circle cx="151.86" cy="288.24" r="1.18" fill="#98000f"/>
<circle cx="137.17" cy="219.81" r="1.18" fill="#adabab"/>
<circle cx="112.28" cy="290.83" r="1.18" fill="#98000f"/>
<circle cx="147.11" cy="284.85" r="1.18" fill="#98000f"/>
<circle cx="145.10" cy="253.39" r="1.18" fill="#98000f"/>
<circle cx="135.57" cy="236.48" r="1.18" fill="#98000f"/>
<circle cx="107.13" cy="273.03" r="1.18" fill="#adabab"/>
<circle cx="134.39" cy="309.27" r="1.18" fill="#98000f"/>
<circle cx="154.55" cy="284.51" r="1.18" fill="#adabab"/>
<circle cx="136.41" cy="213.30" r="1.18" fill="#adabab"/>
<circle cx="130.57" cy="234.55" r="1.18" fill="#98000f"/>
<circle cx="141.20" cy="246.81" r="1.18" fill="#adabab"/>
<circle cx="147.29" cy="278.28" r="1.18" fill="#adabab"/>
<circle cx="151.41" cy="232.47" r="1.18" fill="#98000f"/>
<circle cx="122.23" cy="225.88" r="1.18" fill="#98000f"/>
<circle cx="144.99" cy="297.34" r="1.18" fill="#98000f"/>
<circle cx="133.29" cy="258.17" r="1.18" fill="#98000f"/>
<circle cx="155.63" cy="240.88" r="1.18" fill="#98000f"/>
<circle cx="135.36" cy="308.29" r="1.18" fill="#98000f"/>
<circle cx="147.75" cy="255.32" r="1.18" fill="#98000f"/>
<circle cx="141.72" cy="303.62" r="1.18" fill="#adabab"/>
<circle cx="99.39" cy="263.76" r="1.18" fill="#adabab"/>
<circle cx="138.37" cy="214.70" r="1.18" fill="#adabab"/>
<circle cx="141.82" cy="223.36" r="1.18" fill="#98000f"/>
<circle cx="146.77" cy="235.42" r="1.18" fill="#98000f"/>
<circle cx="156.97" cy="267.92" r="1.18" fill="#adabab"/>
<circle cx="130.38" cy="258.78" r="1.18" fill="#98000f"/>
<circle cx="129.19" cy="304.60" r="1.18" fill="#adabab"/>
<circle cx="142.18" cy="296.69" r="1.18" fill="#c0101c"/>
<circle cx="146.15" cy="285.79" r="1.18" fill="#98000f"/>
<circle cx="125.55" cy="265.02" r="1.18" fill="#adabab"/>
<circle cx="116.20" cy="259.61" r="1.18" fill="#c0101c"/>
<circle cx="138.66" cy="218.31" r="1.18" fill="#98000f"/>
<circle cx="154.11" cy="279.05" r="1.18" fill="#98000f"/>
<circle cx="89.56" cy="241.01" r="1.18" fill="#adabab"/>
<circle cx="100.61" cy="254.68" r="1.18" fill="#c0101c"/>
<circle cx="150.97" cy="278.40" r="1.18" fill="#adabab"/>
<circle cx="128.67" cy="259.87" r="1.18" fill="#98000f"/>
<circle cx="122.32" cy="246.23" r="1.18" fill="#a9a7a7"/>
<circle cx="119.87" cy="284.28" r="1.18" fill="#98000f"/>
<circle cx="124.30" cy="235.92" r="1.18" fill="#98000f"/>
<circle cx="94.37" cy="271.97" r="1.18" fill="#adabab"/>
<circle cx="96.95" cy="254.02" r="1.18" fill="#adabab"/>
<circle cx="119.35" cy="258.39" r="1.18" fill="#98000f"/>
<circle cx="147.07" cy="254.80" r="1.18" fill="#98000f"/>
<circle cx="144.26" cy="256.43" r="1.18" fill="#98000f"/>
<circle cx="129.17" cy="232.60" r="1.18" fill="#adabab"/>
<circle cx="157.81" cy="251.64" r="1.18" fill="#98000f"/>
<circle cx="123.63" cy="238.18" r="1.18" fill="#98000f"/>
<circle cx="121.15" cy="239.38" r="1.18" fill="#adabab"/>
<circle cx="139.04" cy="290.06" r="1.18" fill="#98000f"/>
<circle cx="107.80" cy="262.22" r="1.18" fill="#98000f"/>
<circle cx="103.06" cy="278.94" r="1.18" fill="#98000f"/>
<circle cx="155.13" cy="272.22" r="1.18" fill="#c0101c"/>
<circle cx="140.42" cy="305.60" r="1.18" fill="#98000f"/>
<circle cx="149.88" cy="252.17" r="1.18" fill="#adabab"/>
<circle cx="122.45" cy="218.46" r="1.18" fill="#c0101c"/>
<circle cx="146.87" cy="253.66" r="1.18" fill="#c0101c"/>
<circle cx="135.74" cy="299.15" r="1.18" fill="#98000f"/>
<circle cx="129.03" cy="310.35" r="1.18" fill="#98000f"/>
<circle cx="122.29" cy="276.66" r="1.18" fill="#98000f"/>
<circle cx="137.98" cy="290.55" r="1.18" fill="#98000f"/>
<circle cx="123.67" cy="240.80" r="1.18" fill="#98000f"/>
<circle cx="113.91" cy="261.08" r="1.18" fill="#98000f"/>
<circle cx="128.57" cy="286.63" r="1.18" fill="#98000f"/>
<circle cx="129.37" cy="214.43" r="1.18" fill="#98000f"/>
<circle cx="128.05" cy="282.40" r="1.18" fill="#c0101c"/>
<circle cx="157.11" cy="256.29" r="1.18" fill="#c0101c"/>
<circle cx="145.87" cy="300.15" r="1.18" fill="#adabab"/>
<circle cx="141.52" cy="245.18" r="1.18" fill="#adabab"/>
<circle cx="142.09" cy="247.92" r="1.18" fill="#98000f"/>
<circle cx="149.57" cy="232.08" r="1.18" fill="#c0101c"/>
<circle cx="128.24" cy="213.89" r="1.18" fill="#98000f"/>
<circle cx="111.03" cy="253.80" r="1.18" fill="#c0101c"/>
<circle cx="136.14" cy="217.39" r="1.18" fill="#98000f"/>
<circle cx="94.50" cy="270.57" r="1.18" fill="#98000f"/>
<circle cx="140.00" cy="243.94" r="1.18" fill="#98000f"/>
<circle cx="146.99" cy="254.94" r="1.18" fill="#c0101c"/>
<circle cx="103.32" cy="282.05" r="1.18" fill="#98000f"/>
<circle cx="121.05" cy="284.91" r="1.18" fill="#c0101c"/>
<circle cx="95.50" cy="275.94" r="1.18" fill="#c0101c"/>
<circle cx="117.78" cy="258.70" r="1.18" fill="#adabab"/>
<circle cx="133.14" cy="236.16" r="1.18" fill="#c0101c"/>
<circle cx="130.66" cy="284.33" r="1.18" fill="#98000f"/>
<circle cx="114.82" cy="290.59" r="1.18" fill="#98000f"/>
<circle cx="124.84" cy="227.87" r="1.18" fill="#adabab"/>
<circle cx="133.58" cy="236.96" r="1.18" fill="#c0101c"/>
<circle cx="97.19" cy="253.78" r="1.18" fill="#adabab"/>
<circle cx="115.26" cy="260.84" r="1.18" fill="#98000f"/>
<circle cx="104.03" cy="287.20" r="1.18" fill="#adabab"/>
<circle cx="139.81" cy="224.54" r="1.18" fill="#98000f"/>
<circle cx="112.97" cy="262.44" r="1.18" fill="#adabab"/>
<circle cx="122.28" cy="278.97" r="1.18" fill="#98000f"/>
<circle cx="140.44" cy="243.04" r="1.18" fill="#98000f"/>
<circle cx="155.04" cy="246.27" r="1.18" fill="#adabab"/>
<circle cx="111.50" cy="256.08" r="1.18" fill="#adabab"/>
<circle cx="132.40" cy="235.34" r="1.18" fill="#98000f"/>
<circle cx="148.91" cy="297.12" r="1.18" fill="#c0101c"/>
<circle cx="120.90" cy="223.17" r="1.18" fill="#adabab"/>
<circle cx="139.49" cy="241.53" r="1.18" fill="#98000f"/>
<circle cx="124.16" cy="305.93" r="1.18" fill="#98000f"/>
<circle cx="143.92" cy="302.73" r="1.18" fill="#c0101c"/>
<circle cx="137.09" cy="307.60" r="1.18" fill="#adabab"/>
<circle cx="140.62" cy="244.99" r="1.18" fill="#adabab"/>
<circle cx="97.50" cy="277.18" r="1.18" fill="#98000f"/>
<circle cx="105.84" cy="239.59" r="1.18" fill="#c0101c"/>
<circle cx="142.68" cy="250.81" r="1.18" fill="#98000f"/>
<circle cx="124.86" cy="280.40" r="1.18" fill="#98000f"/>
<circle cx="140.73" cy="233.69" r="1.18" fill="#adabab"/>
<circle cx="138.99" cy="306.07" r="1.18" fill="#98000f"/>
<circle cx="141.38" cy="234.22" r="1.18" fill="#98000f"/>
<circle cx="100.03" cy="274.41" r="1.18" fill="#c0101c"/>
<circle cx="95.98" cy="274.48" r="1.18" fill="#c0101c"/>
<circle cx="114.21" cy="239.55" r="1.18" fill="#98000f"/>
<circle cx="156.57" cy="246.49" r="1.18" fill="#adabab"/>
<circle cx="124.85" cy="304.88" r="1.18" fill="#98000f"/>
<circle cx="99.05" cy="252.69" r="1.18" fill="#98000f"/>
<circle cx="123.35" cy="283.24" r="1.18" fill="#98000f"/>
<circle cx="144.07" cy="257.81" r="1.18" fill="#c0101c"/>
<circle cx="124.52" cy="238.03" r="1.18" fill="#98000f"/>
<circle cx="149.69" cy="285.40" r="1.18" fill="#c0101c"/>
<circle cx="111.08" cy="292.78" r="1.18" fill="#adabab"/>
<circle cx="123.80" cy="234.26" r="1.18" fill="#adabab"/>
<circle cx="126.70" cy="236.91" r="1.18" fill="#adabab"/>
<circle cx="116.25" cy="286.10" r="1.18" fill="#a9a7a7"/>
<circle cx="138.29" cy="235.97" r="1.18" fill="#a9a7a7"/>
<circle cx="157.09" cy="259.30" r="1.18" fill="#98000f"/>
<circle cx="91.12" cy="248.13" r="1.18" fill="#98000f"/>
<circle cx="112.06" cy="257.09" r="1.18" fill="#adabab"/>
<circle cx="153.57" cy="274.79" r="1.18" fill="#98000f"/>
<circle cx="114.59" cy="290.63" r="1.18" fill="#98000f"/>
<circle cx="136.13" cy="296.30" r="1.18" fill="#adabab"/>
<circle cx="141.19" cy="232.67" r="1.18" fill="#adabab"/>
<circle cx="153.43" cy="287.41" r="1.18" fill="#adabab"/>
<circle cx="123.55" cy="237.24" r="1.18" fill="#c0101c"/>
<circle cx="123.47" cy="278.24" r="1.18" fill="#adabab"/>
<circle cx="103.30" cy="267.10" r="1.18" fill="#98000f"/>
<circle cx="102.71" cy="276.34" r="1.18" fill="#c0101c"/>
<circle cx="91.78" cy="247.12" r="1.18" fill="#98000f"/>
<circle cx="106.98" cy="264.97" r="1.18" fill="#98000f"/>
<circle cx="138.41" cy="241.72" r="1.18" fill="#98000f"/>
<circle cx="116.83" cy="248.12" r="1.18" fill="#98000f"/>
<circle cx="90.98" cy="251.48" r="1.18" fill="#98000f"/>
<circle cx="149.08" cy="297.66" r="1.18" fill="#c0101c"/>
<circle cx="147.60" cy="257.86" r="1.18" fill="#adabab"/>
<circle cx="124.53" cy="283.14" r="1.18" fill="#c0101c"/>
<circle cx="146.83" cy="228.57" r="1.18" fill="#adabab"/>
<circle cx="123.07" cy="291.10" r="1.18" fill="#c0101c"/>
<circle cx="100.30" cy="270.91" r="1.18" fill="#c0101c"/>
<circle cx="121.30" cy="225.86" r="1.18" fill="#98000f"/>
<circle cx="98.96" cy="256.93" r="1.18" fill="#adabab"/>
<circle cx="125.45" cy="226.69" r="1.18" fill="#adabab"/>
<circle cx="120.88" cy="236.08" r="1.18" fill="#98000f"/>
<circle cx="108.82" cy="246.86" r="1.18" fill="#adabab"/>
<circle cx="127.21" cy="303.99" r="1.18" fill="#adabab"/>
<circle cx="152.93" cy="237.54" r="1.18" fill="#98000f"/>
<circle cx="119.25" cy="277.23" r="1.18" fill="#98000f"/>
<circle cx="96.97" cy="248.11" r="1.18" fill="#adabab"/>
<circle cx="93.90" cy="243.63" r="1.18" fill="#c0101c"/>
<circle cx="144.98" cy="255.96" r="1.18" fill="#98000f"/>
<circle cx="143.68" cy="234.84" r="1.18" fill="#c0101c"/>
<circle cx="99.67" cy="249.90" r="1.18" fill="#98000f"/>
<circle cx="99.62" cy="252.47" r="1.18" fill="#c0101c"/>
<circle cx="129.81" cy="303.93" r="1.18" fill="#adabab"/>
<circle cx="134.44" cy="284.41" r="1.18" fill="#adabab"/>
<circle cx="94.84" cy="264.46" r="1.18" fill="#adabab"/>
<circle cx="127.99" cy="287.89" r="1.18" fill="#98000f"/>
<circle cx="139.75" cy="287.10" r="1.18" fill="#adabab"/>
<circle cx="132.68" cy="306.70" r="1.18" fill="#c0101c"/>
<circle cx="110.12" cy="265.33" r="1.18" fill="#adabab"/>
<circle cx="142.97" cy="253.45" r="1.18" fill="#98000f"/>
<circle cx="148.05" cy="250.53" r="1.18" fill="#98000f"/>
<circle cx="157.84" cy="260.94" r="1.18" fill="#c0101c"/>
<circle cx="112.75" cy="243.26" r="1.18" fill="#c0101c"/>
<circle cx="120.69" cy="234.38" r="1.18" fill="#c0101c"/>
<circle cx="120.46" cy="227.79" r="1.18" fill="#98000f"/>
<circle cx="120.12" cy="276.63" r="1.18" fill="#98000f"/>
<circle cx="109.63" cy="293.48" r="1.18" fill="#adabab"/>
<circle cx="132.12" cy="237.09" r="1.18" fill="#98000f"/>
<circle cx="134.83" cy="295.43" r="1.18" fill="#adabab"/>
<circle cx="134.80" cy="237.51" r="1.18" fill="#98000f"/>
<circle cx="91.23" cy="267.54" r="1.18" fill="#adabab"/>
<circle cx="139.78" cy="305.46" r="1.18" fill="#98000f"/>
<circle cx="103.11" cy="244.40" r="1.18" fill="#98000f"/>
<circle cx="123.28" cy="292.61" r="1.18" fill="#98000f"/>
<circle cx="96.91" cy="252.81" r="1.18" fill="#adabab"/>
<circle cx="144.69" cy="285.30" r="1.18" fill="#98000f"/>
<circle cx="103.59" cy="291.78" r="1.18" fill="#98000f"/>
<circle cx="97.25" cy="276.49" r="1.18" fill="#98000f"/>
<circle cx="142.89" cy="221.78" r="1.18" fill="#98000f"/>
<circle cx="150.66" cy="244.89" r="1.18" fill="#98000f"/>
<circle cx="144.49" cy="301.41" r="1.18" fill="#98000f"/>
<circle cx="142.63" cy="259.40" r="1.18" fill="#c0101c"/>
<circle cx="123.33" cy="227.29" r="1.18" fill="#c0101c"/>
<circle cx="102.78" cy="278.01" r="1.18" fill="#98000f"/>
<circle cx="148.17" cy="256.93" r="1.18" fill="#adabab"/>
<circle cx="113.67" cy="264.53" r="1.18" fill="#98000f"/>
<circle cx="118.01" cy="251.20" r="1.18" fill="#98000f"/>
<circle cx="119.53" cy="285.09" r="1.18" fill="#98000f"/>
<circle cx="142.87" cy="258.66" r="1.18" fill="#c0101c"/>
<circle cx="131.37" cy="233.09" r="1.18" fill="#98000f"/>
<circle cx="145.95" cy="254.38" r="1.18" fill="#c0101c"/>
<circle cx="122.17" cy="233.07" r="1.18" fill="#c0101c"/>
<circle cx="152.26" cy="249.03" r="1.18" fill="#adabab"/>
<circle cx="104.81" cy="241.31" r="1.18" fill="#98000f"/>
<circle cx="123.16" cy="239.48" r="1.18" fill="#98000f"/>
<circle cx="125.11" cy="306.17" r="1.18" fill="#98000f"/>
<circle cx="112.20" cy="291.04" r="1.18" fill="#98000f"/>
<circle cx="113.85" cy="289.60" r="1.18" fill="#98000f"/>
<circle cx="121.64" cy="234.00" r="1.18" fill="#c0101c"/>
<circle cx="131.35" cy="237.75" r="1.18" fill="#adabab"/>
<circle cx="130.73" cy="236.25" r="1.18" fill="#98000f"/>
<circle cx="121.32" cy="283.13" r="1.18" fill="#c0101c"/>
<circle cx="91.87" cy="268.24" r="1.18" fill="#adabab"/>
<circle cx="102.17" cy="265.09" r="1.18" fill="#98000f"/>
<circle cx="104.70" cy="293.63" r="1.18" fill="#98000f"/>
<circle cx="130.99" cy="236.63" r="1.18" fill="#adabab"/>
<circle cx="92.68" cy="250.69" r="1.18" fill="#98000f"/>
<circle cx="134.69" cy="301.33" r="1.18" fill="#adabab"/>
<circle cx="91.85" cy="256.72" r="1.18" fill="#adabab"/>
<circle cx="92.68" cy="243.52" r="1.18" fill="#c0101c"/>
<circle cx="141.25" cy="260.31" r="1.18" fill="#98000f"/>
<circle cx="95.42" cy="263.04" r="1.18" fill="#98000f"/>
<circle cx="149.38" cy="249.70" r="1.18" fill="#98000f"/>
<circle cx="148.70" cy="278.29" r="1.18" fill="#adabab"/>
<circle cx="158.69" cy="261.77" r="1.18" fill="#98000f"/>
<circle cx="157.14" cy="254.21" r="1.18" fill="#adabab"/>
<circle cx="152.06" cy="285.07" r="1.18" fill="#98000f"/>
<circle cx="120.39" cy="280.32" r="1.18" fill="#98000f"/>
<circle cx="123.58" cy="297.78" r="1.18" fill="#98000f"/>
<circle cx="128.54" cy="267.19" r="1.18" fill="#98000f"/>
<circle cx="100.36" cy="263.69" r="1.18" fill="#adabab"/>
<circle cx="115.38" cy="289.95" r="1.18" fill="#98000f"/>
<circle cx="113.74" cy="263.31" r="1.18" fill="#adabab"/>
<circle cx="143.72" cy="300.57" r="1.18" fill="#98000f"/>
<circle cx="149.85" cy="250.92" r="1.18" fill="#adabab"/>
<circle cx="105.20" cy="279.10" r="1.18" fill="#98000f"/>
<circle cx="136.99" cy="216.05" r="1.18" fill="#98000f"/>
<circle cx="119.85" cy="284.57" r="1.18" fill="#98000f"/>
<circle cx="123.11" cy="299.37" r="1.18" fill="#adabab"/>
<circle cx="129.45" cy="268.75" r="1.18" fill="#98000f"/>
<circle cx="95.92" cy="245.82" r="1.18" fill="#c0101c"/>
<circle cx="128.38" cy="233.20" r="1.18" fill="#adabab"/>
<circle cx="130.30" cy="283.66" r="1.18" fill="#98000f"/>
<circle cx="126.09" cy="215.55" r="1.18" fill="#98000f"/>
<circle cx="109.18" cy="262.46" r="1.18" fill="#98000f"/>
<circle cx="109.19" cy="267.10" r="1.18" fill="#adabab"/>
<circle cx="121.19" cy="219.61" r="1.18" fill="#adabab"/>
<circle cx="105.51" cy="266.96" r="1.18" fill="#98000f"/>
<circle cx="99.20" cy="251.64" r="1.18" fill="#98000f"/>
<circle cx="155.73" cy="279.62" r="1.18" fill="#a9a7a7"/>
<circle cx="125.47" cy="237.35" r="1.18" fill="#adabab"/>
<circle cx="152.22" cy="233.05" r="1.18" fill="#98000f"/>
<circle cx="144.37" cy="254.03" r="1.18" fill="#98000f"/>
<circle cx="133.77" cy="259.03" r="1.18" fill="#98000f"/>
<circle cx="117.25" cy="248.98" r="1.18" fill="#98000f"/>
<circle cx="147.92" cy="239.16" r="1.18" fill="#a9a7a7"/>
<circle cx="96.47" cy="246.53" r="1.18" fill="#c0101c"/>
<circle cx="137.45" cy="218.02" r="1.18" fill="#98000f"/>
<circle cx="143.96" cy="236.00" r="1.18" fill="#98000f"/>
<circle cx="128.37" cy="310.10" r="1.18" fill="#98000f"/>
<circle cx="108.89" cy="292.13" r="1.18" fill="#adabab"/>
<circle cx="106.68" cy="239.11" r="1.18" fill="#c0101c"/>
<circle cx="102.93" cy="279.92" r="1.18" fill="#adabab"/>
<circle cx="154.59" cy="272.59" r="1.18" fill="#98000f"/>
<circle cx="95.15" cy="264.23" r="1.18" fill="#adabab"/>
<circle cx="90.76" cy="253.01" r="1.18" fill="#adabab"/>
<circle cx="154.86" cy="239.83" r="1.18" fill="#98000f"/>
<circle cx="93.51" cy="271.50" r="1.18" fill="#adabab"/>
<circle cx="141.77" cy="304.90" r="1.18" fill="#adabab"/>
<circle cx="147.74" cy="229.88" r="1.18" fill="#c0101c"/>
<circle cx="153.49" cy="277.22" r="1.18" fill="#98000f"/>
<circle cx="147.27" cy="236.21" r="1.18" fill="#c0101c"/>
<circle cx="138.94" cy="223.61" r="1.18" fill="#98000f"/>
<circle cx="151.68" cy="246.37" r="1.18" fill="#98000f"/>
<circle cx="147.84" cy="297.02" r="1.18" fill="#c0101c"/>
<circle cx="123.31" cy="294.70" r="1.18" fill="#adabab"/>
<circle cx="134.01" cy="222.03" r="1.18" fill="#adabab"/>
<circle cx="103.33" cy="293.12" r="1.18" fill="#98000f"/>
<circle cx="145.66" cy="265.97" r="1.18" fill="#a9a7a7"/>
<circle cx="123.48" cy="239.46" r="1.18" fill="#98000f"/>
<circle cx="104.16" cy="294.44" r="1.18" fill="#98000f"/>
<circle cx="148.41" cy="230.94" r="1.18" fill="#c0101c"/>
<circle cx="123.12" cy="238.41" r="1.18" fill="#c0101c"/>
<circle cx="128.07" cy="230.93" r="1.18" fill="#98000f"/>
<circle cx="105.34" cy="275.31" r="1.18" fill="#98000f"/>
<circle cx="102.63" cy="277.74" r="1.18" fill="#98000f"/>
<circle cx="152.46" cy="277.11" r="1.18" fill="#98000f"/>
<circle cx="144.47" cy="294.97" r="1.18" fill="#adabab"/>
<circle cx="98.73" cy="251.82" r="1.18" fill="#c0101c"/>
<circle cx="125.88" cy="290.26" r="1.18" fill="#98000f"/>
<circle cx="151.40" cy="231.37" r="1.18" fill="#c0101c"/>
<circle cx="91.09" cy="250.71" r="1.18" fill="#98000f"/>
<circle cx="143.87" cy="247.93" r="1.18" fill="#adabab"/>
<circle cx="127.31" cy="230.27" r="1.18" fill="#adabab"/>
<circle cx="123.43" cy="280.21" r="1.18" fill="#98000f"/>
<circle cx="124.35" cy="281.75" r="1.18" fill="#adabab"/>
<circle cx="128.99" cy="230.46" r="1.18" fill="#98000f"/>
<circle cx="139.18" cy="258.71" r="1.18" fill="#adabab"/>
<circle cx="133.83" cy="285.08" r="1.18" fill="#adabab"/>
<circle cx="144.17" cy="252.91" r="1.18" fill="#98000f"/>
<circle cx="144.00" cy="292.67" r="1.18" fill="#adabab"/>
<circle cx="117.33" cy="276.57" r="1.18" fill="#98000f"/>
<circle cx="135.96" cy="239.75" r="1.18" fill="#adabab"/>
<circle cx="87.45" cy="239.72" r="1.18" fill="#98000f"/>
<circle cx="112.88" cy="238.61" r="1.18" fill="#c0101c"/>
<circle cx="108.67" cy="266.54" r="1.18" fill="#98000f"/>
<circle cx="152.21" cy="284.31" r="1.18" fill="#98000f"/>
<circle cx="102.99" cy="281.25" r="1.18" fill="#98000f"/>
<circle cx="130.96" cy="215.47" r="1.18" fill="#c0101c"/>
<circle cx="121.59" cy="228.38" r="1.18" fill="#adabab"/>
<circle cx="143.33" cy="291.27" r="1.18" fill="#98000f"/>
<circle cx="144.49" cy="258.65" r="1.18" fill="#c0101c"/>
<circle cx="90.69" cy="256.15" r="1.18" fill="#adabab"/>
<circle cx="139.43" cy="305.89" r="1.18" fill="#98000f"/>
<circle cx="159.42" cy="266.69" r="1.18" fill="#adabab"/>
<circle cx="114.00" cy="261.05" r="1.18" fill="#98000f"/>
<circle cx="145.02" cy="284.95" r="1.18" fill="#98000f"/>
<circle cx="95.36" cy="244.28" r="1.18" fill="#98000f"/>
<circle cx="122.46" cy="230.04" r="1.18" fill="#98000f"/>
<circle cx="92.55" cy="269.25" r="1.18" fill="#c0101c"/>
<circle cx="153.15" cy="276.03" r="1.18" fill="#98000f"/>
<circle cx="150.84" cy="287.08" r="1.18" fill="#98000f"/>
<circle cx="138.64" cy="231.56" r="1.18" fill="#c0101c"/>
<circle cx="118.73" cy="277.67" r="1.18" fill="#98000f"/>
<circle cx="150.56" cy="277.61" r="1.18" fill="#adabab"/>
<circle cx="152.52" cy="288.57" r="1.18" fill="#c0101c"/>
<circle cx="101.11" cy="273.66" r="1.18" fill="#c0101c"/>
<circle cx="156.52" cy="247.82" r="1.18" fill="#c0101c"/>
<circle cx="124.62" cy="299.48" r="1.18" fill="#adabab"/>
<circle cx="136.62" cy="297.57" r="1.18" fill="#98000f"/>
<circle cx="143.65" cy="302.77" r="1.18" fill="#98000f"/>
<circle cx="94.04" cy="258.89" r="1.18" fill="#a9a7a7"/>
<circle cx="134.40" cy="308.84" r="1.18" fill="#adabab"/>
<circle cx="128.14" cy="308.97" r="1.18" fill="#98000f"/>
<circle cx="137.30" cy="294.89" r="1.18" fill="#98000f"/>
<circle cx="137.81" cy="224.50" r="1.18" fill="#98000f"/>
<circle cx="149.08" cy="238.52" r="1.18" fill="#c0101c"/>
<circle cx="154.16" cy="238.80" r="1.18" fill="#98000f"/>
<circle cx="158.53" cy="267.15" r="1.18" fill="#adabab"/>
<circle cx="122.20" cy="217.03" r="1.18" fill="#c0101c"/>
<circle cx="143.01" cy="299.44" r="1.18" fill="#c0101c"/>
<circle cx="149.16" cy="286.17" r="1.18" fill="#c0101c"/>
<circle cx="100.76" cy="263.59" r="1.18" fill="#c0101c"/>
<circle cx="153.71" cy="288.37" r="1.18" fill="#adabab"/>
<circle cx="155.99" cy="250.09" r="1.18" fill="#c0101c"/>
<circle cx="125.81" cy="303.17" r="1.18" fill="#98000f"/>
<circle cx="109.41" cy="245.36" r="1.18" fill="#c0101c"/>
<circle cx="137.72" cy="214.49" r="1.18" fill="#98000f"/>
<circle cx="125.95" cy="289.37" r="1.18" fill="#98000f"/>
<circle cx="120.69" cy="222.24" r="1.18" fill="#98000f"/>
<circle cx="144.90" cy="257.88" r="1.18" fill="#c0101c"/>
<circle cx="124.33" cy="284.47" r="1.18" fill="#c0101c"/>
<circle cx="129.01" cy="265.13" r="1.18" fill="#c0101c"/>
<circle cx="137.27" cy="215.47" r="1.18" fill="#adabab"/>
<circle cx="142.26" cy="252.34" r="1.18" fill="#98000f"/>
<circle cx="104.52" cy="286.20" r="1.18" fill="#adabab"/>
<circle cx="122.95" cy="278.05" r="1.18" fill="#98000f"/>
<circle cx="132.16" cy="258.91" r="1.18" fill="#98000f"/>
<circle cx="128.96" cy="287.04" r="1.18" fill="#98000f"/>
<circle cx="116.32" cy="240.26" r="1.18" fill="#98000f"/>
<circle cx="129.74" cy="215.69" r="1.18" fill="#98000f"/>
<circle cx="123.49" cy="280.92" r="1.18" fill="#adabab"/>
<circle cx="95.23" cy="271.80" r="1.18" fill="#98000f"/>
<circle cx="122.05" cy="233.61" r="1.18" fill="#98000f"/>
<circle cx="108.24" cy="244.24" r="1.18" fill="#98000f"/>
<circle cx="146.90" cy="300.00" r="1.18" fill="#98000f"/>
<circle cx="93.76" cy="268.37" r="1.18" fill="#c0101c"/>
<circle cx="123.38" cy="293.60" r="1.18" fill="#98000f"/>
<circle cx="120.61" cy="224.06" r="1.18" fill="#adabab"/>
<circle cx="108.33" cy="263.58" r="1.18" fill="#98000f"/>
<circle cx="143.06" cy="260.71" r="1.18" fill="#c0101c"/>
<circle cx="95.09" cy="245.18" r="1.18" fill="#98000f"/>
<circle cx="120.59" cy="277.96" r="1.18" fill="#98000f"/>
<circle cx="105.62" cy="241.71" r="1.18" fill="#98000f"/>
<circle cx="118.49" cy="285.04" r="1.18" fill="#98000f"/>
<circle cx="137.60" cy="293.42" r="1.18" fill="#98000f"/>
<circle cx="98.35" cy="255.63" r="1.18" fill="#98000f"/>
<circle cx="120.18" cy="222.56" r="1.18" fill="#98000f"/>
<circle cx="129.36" cy="231.94" r="1.18" fill="#98000f"/>
<circle cx="155.27" cy="271.37" r="1.18" fill="#c0101c"/>
<circle cx="147.91" cy="285.79" r="1.18" fill="#98000f"/>
<circle cx="137.57" cy="213.49" r="1.18" fill="#98000f"/>
<circle cx="123.80" cy="302.90" r="1.18" fill="#adabab"/>
<circle cx="137.41" cy="286.23" r="1.18" fill="#98000f"/>
<circle cx="111.81" cy="254.70" r="1.18" fill="#c0101c"/>
<circle cx="88.12" cy="240.37" r="1.18" fill="#c0101c"/>
<circle cx="131.87" cy="293.08" r="1.18" fill="#a9a7a7"/>
<circle cx="105.49" cy="244.60" r="1.18" fill="#c0101c"/>
<circle cx="153.00" cy="287.19" r="1.18" fill="#c0101c"/>
<circle cx="121.04" cy="281.22" r="1.18" fill="#c0101c"/>
<circle cx="108.36" cy="262.62" r="1.18" fill="#98000f"/>
<circle cx="135.40" cy="300.47" r="1.18" fill="#adabab"/>
<circle cx="95.61" cy="265.08" r="1.18" fill="#adabab"/>
<circle cx="125.28" cy="290.64" r="1.18" fill="#98000f"/>
<circle cx="146.69" cy="227.73" r="1.18" fill="#adabab"/>
<circle cx="126.50" cy="230.71" r="1.18" fill="#adabab"/>
<circle cx="140.78" cy="294.94" r="1.18" fill="#adabab"/>
<circle cx="105.82" cy="266.19" r="1.18" fill="#98000f"/>
<circle cx="157.07" cy="248.99" r="1.18" fill="#adabab"/>
<circle cx="145.50" cy="254.65" r="1.18" fill="#c0101c"/>
<circle cx="113.21" cy="290.69" r="1.18" fill="#98000f"/>
<circle cx="134.59" cy="224.37" r="1.18" fill="#98000f"/>
<circle cx="154.08" cy="282.90" r="1.18" fill="#c0101c"/>
<circle cx="123.46" cy="304.39" r="1.18" fill="#98000f"/>
<circle cx="137.15" cy="239.96" r="1.18" fill="#adabab"/>
<circle cx="125.37" cy="261.17" r="1.18" fill="#98000f"/>
<circle cx="121.78" cy="239.27" r="1.18" fill="#c0101c"/>
<circle cx="152.08" cy="247.62" r="1.18" fill="#98000f"/>
<circle cx="147.87" cy="228.21" r="1.18" fill="#98000f"/>
<circle cx="99.58" cy="277.96" r="1.18" fill="#adabab"/>
<circle cx="143.83" cy="285.31" r="1.18" fill="#98000f"/>
<circle cx="116.68" cy="277.12" r="1.18" fill="#c0101c"/>
<circle cx="133.69" cy="234.90" r="1.18" fill="#98000f"/>
<circle cx="121.75" cy="283.76" r="1.18" fill="#c0101c"/>
<circle cx="146.42" cy="255.42" r="1.18" fill="#c0101c"/>
<circle cx="99.48" cy="258.23" r="1.18" fill="#adabab"/>
<circle cx="157.00" cy="269.37" r="1.18" fill="#98000f"/>
<circle cx="156.52" cy="241.13" r="1.18" fill="#98000f"/>
<circle cx="113.23" cy="291.45" r="1.18" fill="#98000f"/>
<circle cx="122.45" cy="284.14" r="1.18" fill="#c0101c"/>
<circle cx="98.79" cy="271.28" r="1.18" fill="#c0101c"/>
<circle cx="127.56" cy="265.77" r="1.18" fill="#c0101c"/>
<circle cx="120.09" cy="283.13" r="1.18" fill="#98000f"/>
<circle cx="116.42" cy="277.54" r="1.18" fill="#98000f"/>
<circle cx="125.51" cy="305.50" r="1.18" fill="#98000f"/>
<circle cx="122.87" cy="298.25" r="1.18" fill="#adabab"/>
<circle cx="155.24" cy="283.32" r="1.18" fill="#adabab"/>
<circle cx="141.11" cy="288.05" r="1.18" fill="#98000f"/>
<circle cx="128.60" cy="303.19" r="1.18" fill="#98000f"/>
<circle cx="114.85" cy="242.36" r="1.18" fill="#98000f"/>
<circle cx="123.94" cy="303.72" r="1.18" fill="#98000f"/>
<circle cx="124.22" cy="291.26" r="1.18" fill="#c0101c"/>
<circle cx="133.61" cy="307.97" r="1.18" fill="#adabab"/>
<circle cx="95.08" cy="261.13" r="1.18" fill="#adabab"/>
<circle cx="139.24" cy="215.94" r="1.18" fill="#a9a7a7"/>
<circle cx="148.06" cy="301.04" r="1.18" fill="#98000f"/>
<circle cx="121.39" cy="233.62" r="1.18" fill="#98000f"/>
<circle cx="143.60" cy="249.03" r="1.18" fill="#adabab"/>
<circle cx="124.80" cy="308.59" r="1.18" fill="#98000f"/>
<circle cx="120.63" cy="229.09" r="1.18" fill="#98000f"/>
<circle cx="146.79" cy="256.78" r="1.18" fill="#adabab"/>
<circle cx="157.98" cy="253.36" r="1.18" fill="#adabab"/>
<circle cx="135.50" cy="284.43" r="1.18" fill="#adabab"/>
<circle cx="157.32" cy="258.95" r="1.18" fill="#98000f"/>
<circle cx="90.81" cy="257.75" r="1.18" fill="#98000f"/>
<circle cx="157.53" cy="249.84" r="1.18" fill="#98000f"/>
<circle cx="108.99" cy="240.89" r="1.18" fill="#c0101c"/>
<circle cx="155.17" cy="249.27" r="1.18" fill="#c0101c"/>
<circle cx="155.56" cy="244.06" r="1.18" fill="#c0101c"/>
<circle cx="123.31" cy="216.71" r="1.18" fill="#c0101c"/>
<circle cx="101.02" cy="265.12" r="1.18" fill="#98000f"/>
<circle cx="137.75" cy="294.29" r="1.18" fill="#98000f"/>
<circle cx="158.84" cy="258.75" r="1.18" fill="#98000f"/>
<circle cx="158.74" cy="263.24" r="1.18" fill="#98000f"/>
<circle cx="120.29" cy="285.17" r="1.18" fill="#98000f"/>
<circle cx="154.33" cy="238.26" r="1.18" fill="#98000f"/>
<circle cx="125.78" cy="289.14" r="1.18" fill="#98000f"/>
<circle cx="97.46" cy="278.17" r="1.18" fill="#98000f"/>
<circle cx="123.63" cy="240.69" r="1.18" fill="#98000f"/>
<circle cx="92.25" cy="252.09" r="1.18" fill="#98000f"/>
<circle cx="132.27" cy="233.97" r="1.18" fill="#98000f"/>
<circle cx="153.17" cy="236.03" r="1.18" fill="#98000f"/>
<circle cx="112.53" cy="260.75" r="1.18" fill="#98000f"/>
<circle cx="157.11" cy="243.95" r="1.18" fill="#c0101c"/>
<circle cx="155.35" cy="281.19" r="1.18" fill="#98000f"/>
<circle cx="143.20" cy="303.46" r="1.18" fill="#c0101c"/>
<circle cx="132.57" cy="306.87" r="1.18" fill="#98000f"/>
<circle cx="102.11" cy="283.00" r="1.18" fill="#98000f"/>
<circle cx="156.46" cy="258.68" r="1.18" fill="#98000f"/>
<circle cx="145.03" cy="292.05" r="1.18" fill="#98000f"/>
<circle cx="151.22" cy="276.96" r="1.18" fill="#98000f"/>
<circle cx="133.41" cy="283.78" r="1.18" fill="#98000f"/>
<circle cx="111.03" cy="257.64" r="1.18" fill="#c0101c"/>
<circle cx="133.74" cy="233.86" r="1.18" fill="#98000f"/>
<circle cx="141.98" cy="234.99" r="1.18" fill="#adabab"/>
<circle cx="126.37" cy="260.06" r="1.18" fill="#98000f"/>
<circle cx="135.78" cy="237.65" r="1.18" fill="#adabab"/>
<circle cx="134.40" cy="303.20" r="1.18" fill="#adabab"/>
<circle cx="123.73" cy="293.38" r="1.18" fill="#adabab"/>
<circle cx="120.26" cy="239.53" r="1.18" fill="#adabab"/>
<circle cx="108.38" cy="267.74" r="1.18" fill="#adabab"/>
<circle cx="135.80" cy="214.72" r="1.18" fill="#adabab"/>
<circle cx="126.91" cy="282.49" r="1.18" fill="#c0101c"/>
<circle cx="121.88" cy="234.15" r="1.18" fill="#c0101c"/>
<circle cx="115.15" cy="263.06" r="1.18" fill="#adabab"/>
<circle cx="126.79" cy="229.69" r="1.18" fill="#adabab"/>
<circle cx="103.52" cy="284.11" r="1.18" fill="#98000f"/>
<circle cx="151.32" cy="285.40" r="1.18" fill="#98000f"/>
<circle cx="96.20" cy="275.49" r="1.18" fill="#98000f"/>
<circle cx="131.23" cy="305.83" r="1.18" fill="#98000f"/>
<circle cx="138.57" cy="219.86" r="1.18" fill="#adabab"/>
<circle cx="137.87" cy="225.33" r="1.18" fill="#98000f"/>
<circle cx="121.60" cy="231.29" r="1.18" fill="#98000f"/>
<circle cx="129.29" cy="282.92" r="1.18" fill="#98000f"/>
<circle cx="152.33" cy="234.39" r="1.18" fill="#adabab"/>
<circle cx="110.17" cy="251.77" r="1.18" fill="#98000f"/>
<circle cx="158.30" cy="268.34" r="1.18" fill="#adabab"/>
<circle cx="144.06" cy="293.16" r="1.18" fill="#98000f"/>
<circle cx="64.05" cy="201.50" r="1.15" fill="#6590cf"/>
<circle cx="64.95" cy="200.58" r="1.15" fill="#8fb0dd"/>
<circle cx="66.18" cy="200.24" r="1.15" fill="#6590cf"/>
<circle cx="67.36" cy="200.69" r="1.15" fill="#8fb0dd"/>
<circle cx="68.61" cy="200.29" r="1.15" fill="#6590cf"/>
<circle cx="69.52" cy="201.28" r="1.15" fill="#6590cf"/>
<circle cx="71.33" cy="201.68" r="1.15" fill="#6590cf"/>
<circle cx="72.09" cy="202.49" r="1.15" fill="#6590cf"/>
<circle cx="72.35" cy="203.26" r="1.15" fill="#6590cf"/>
<circle cx="63.26" cy="204.11" r="1.15" fill="#6590cf"/>
<circle cx="64.60" cy="203.85" r="1.15" fill="#6590cf"/>
<circle cx="65.50" cy="203.23" r="1.15" fill="#6590cf"/>
<circle cx="66.57" cy="203.25" r="1.15" fill="#6590cf"/>
<circle cx="68.40" cy="202.74" r="1.15" fill="#8fb0dd"/>
<circle cx="69.68" cy="203.21" r="1.15" fill="#8fb0dd"/>
<circle cx="70.78" cy="204.25" r="1.15" fill="#6590cf"/>
<circle cx="71.32" cy="204.70" r="1.15" fill="#6590cf"/>
<circle cx="72.16" cy="205.50" r="1.15" fill="#8fb0dd"/>
<circle cx="64.21" cy="206.35" r="1.15" fill="#6590cf"/>
<circle cx="65.10" cy="205.88" r="1.15" fill="#6590cf"/>
<circle cx="66.18" cy="205.73" r="1.15" fill="#6590cf"/>
<circle cx="67.35" cy="205.90" r="1.15" fill="#6590cf"/>
<circle cx="69.27" cy="206.28" r="1.15" fill="#6590cf"/>
<circle cx="70.20" cy="206.56" r="1.15" fill="#6590cf"/>
<circle cx="71.88" cy="207.06" r="1.15" fill="#6590cf"/>
<circle cx="65.62" cy="208.07" r="1.15" fill="#6590cf"/>
<circle cx="66.46" cy="209.21" r="1.15" fill="#8fb0dd"/>
<circle cx="67.05" cy="209.89" r="1.15" fill="#8fb0dd"/>
<circle cx="67.89" cy="210.85" r="1.15" fill="#6590cf"/>
<circle cx="68.22" cy="212.07" r="1.15" fill="#6590cf"/>
<circle cx="69.02" cy="213.77" r="1.15" fill="#6590cf"/>
<circle cx="69.70" cy="215.05" r="1.15" fill="#6590cf"/>
<circle cx="70.40" cy="215.80" r="1.15" fill="#6590cf"/>
<circle cx="70.42" cy="216.81" r="1.15" fill="#8fb0dd"/>
<circle cx="67.49" cy="208.01" r="1.15" fill="#6590cf"/>
<circle cx="67.93" cy="209.26" r="1.15" fill="#6590cf"/>
<circle cx="68.70" cy="209.80" r="1.15" fill="#6590cf"/>
<circle cx="70.00" cy="210.53" r="1.15" fill="#6590cf"/>
<circle cx="70.82" cy="211.44" r="1.15" fill="#6590cf"/>
<circle cx="71.28" cy="212.30" r="1.15" fill="#6590cf"/>
<circle cx="71.55" cy="213.46" r="1.15" fill="#6590cf"/>
<circle cx="71.70" cy="215.06" r="1.15" fill="#6590cf"/>
<circle cx="72.31" cy="216.62" r="1.15" fill="#6590cf"/>
<circle cx="68.59" cy="217.68" r="1.15" fill="#8fb0dd"/>
<circle cx="68.70" cy="218.67" r="1.15" fill="#6590cf"/>
<circle cx="69.65" cy="219.83" r="1.15" fill="#6590cf"/>
<circle cx="69.76" cy="221.13" r="1.15" fill="#6590cf"/>
<circle cx="70.46" cy="221.98" r="1.15" fill="#6590cf"/>
<circle cx="69.39" cy="209.86" r="1.20" fill="#b5000e"/>
<circle cx="70.70" cy="210.85" r="1.20" fill="#b5000e"/>
<circle cx="70.70" cy="214.84" r="1.20" fill="#b5000e"/>
<circle cx="71.56" cy="215.84" r="1.20" fill="#b5000e"/>
<circle cx="68.96" cy="219.32" r="1.20" fill="#b5000e"/>
<circle cx="70.26" cy="220.82" r="1.20" fill="#b5000e"/>
<circle cx="72.00" cy="221.32" r="1.20" fill="#b5000e"/>
<circle cx="69.39" cy="222.81" r="1.20" fill="#b5000e"/>
<circle cx="71.13" cy="223.81" r="1.20" fill="#b5000e"/>
<circle cx="72.86" cy="224.81" r="1.20" fill="#b5000e"/>
<circle cx="70.26" cy="225.30" r="1.20" fill="#b5000e"/>
<circle cx="73.73" cy="220.32" r="1.20" fill="#b5000e"/>
<circle cx="68.35" cy="221.32" r="1.20" fill="#b5000e"/>
<circle cx="73.30" cy="217.13" r="1.10" fill="#9fb8dd"/>
<circle cx="74.17" cy="218.33" r="1.10" fill="#9fb8dd"/>
<circle cx="394.20" cy="303.97" r="1.30" fill="#a3000f"/>
<circle cx="412.17" cy="254.79" r="1.30" fill="#a3000f"/>
<circle cx="413.53" cy="253.80" r="1.30" fill="#c8101c"/>
<circle cx="428.40" cy="259.28" r="1.30" fill="#c8101c"/>
<circle cx="346.39" cy="239.71" r="1.30" fill="#a3000f"/>
<circle cx="426.87" cy="255.25" r="1.30" fill="#c8101c"/>
<circle cx="380.01" cy="249.73" r="1.30" fill="#a3000f"/>
<circle cx="424.96" cy="281.97" r="1.30" fill="#a3000f"/>
<circle cx="387.73" cy="292.76" r="1.30" fill="#a3000f"/>
<circle cx="399.21" cy="236.78" r="1.30" fill="#c8101c"/>
<circle cx="388.38" cy="307.07" r="1.30" fill="#a3000f"/>
<circle cx="376.55" cy="262.79" r="1.30" fill="#a3000f"/>
<circle cx="403.05" cy="299.96" r="1.30" fill="#c8101c"/>
<circle cx="396.43" cy="236.64" r="1.30" fill="#a3000f"/>
<circle cx="418.13" cy="231.15" r="1.30" fill="#c8101c"/>
<circle cx="386.87" cy="237.70" r="1.30" fill="#a3000f"/>
<circle cx="414.64" cy="256.06" r="1.30" fill="#a3000f"/>
<circle cx="389.78" cy="308.58" r="1.30" fill="#a3000f"/>
<circle cx="351.00" cy="251.69" r="1.30" fill="#a3000f"/>
<circle cx="376.38" cy="263.41" r="1.30" fill="#a3000f"/>
<circle cx="367.83" cy="274.34" r="1.30" fill="#a3000f"/>
<circle cx="360.62" cy="248.50" r="1.30" fill="#a3000f"/>
<circle cx="400.89" cy="307.02" r="1.30" fill="#a3000f"/>
<circle cx="353.06" cy="248.45" r="1.30" fill="#a3000f"/>
<circle cx="393.82" cy="231.17" r="1.30" fill="#a3000f"/>
<circle cx="378.33" cy="264.14" r="1.30" fill="#a3000f"/>
<circle cx="394.87" cy="234.72" r="1.30" fill="#a3000f"/>
<circle cx="417.65" cy="285.65" r="1.30" fill="#a3000f"/>
<circle cx="396.12" cy="213.64" r="1.30" fill="#a3000f"/>
<circle cx="381.56" cy="259.38" r="1.30" fill="#a3000f"/>
<circle cx="404.02" cy="214.20" r="1.30" fill="#a3000f"/>
<circle cx="394.09" cy="303.77" r="1.30" fill="#a3000f"/>
<circle cx="383.04" cy="232.51" r="1.30" fill="#a3000f"/>
<circle cx="407.22" cy="243.28" r="1.30" fill="#a3000f"/>
<circle cx="414.58" cy="226.62" r="1.30" fill="#a3000f"/>
<circle cx="395.02" cy="284.04" r="1.30" fill="#a3000f"/>
<circle cx="389.68" cy="238.16" r="1.30" fill="#a3000f"/>
<circle cx="410.92" cy="234.27" r="1.30" fill="#a3000f"/>
<circle cx="350.77" cy="243.51" r="1.30" fill="#a3000f"/>
<circle cx="370.25" cy="266.32" r="1.30" fill="#a3000f"/>
<circle cx="413.73" cy="236.05" r="1.30" fill="#a3000f"/>
<circle cx="418.05" cy="239.45" r="1.30" fill="#a3000f"/>
<circle cx="418.50" cy="286.79" r="1.30" fill="#a3000f"/>
<circle cx="391.45" cy="288.58" r="1.30" fill="#a3000f"/>
<circle cx="403.18" cy="214.66" r="1.30" fill="#a3000f"/>
<circle cx="427.78" cy="270.22" r="1.30" fill="#a3000f"/>
<circle cx="387.71" cy="293.47" r="1.30" fill="#a3000f"/>
<circle cx="354.52" cy="270.24" r="1.30" fill="#a3000f"/>
<circle cx="358.75" cy="277.73" r="1.30" fill="#a3000f"/>
<circle cx="377.52" cy="290.17" r="1.30" fill="#a3000f"/>
<circle cx="421.00" cy="286.44" r="1.30" fill="#a3000f"/>
<circle cx="403.11" cy="306.90" r="1.30" fill="#a3000f"/>
<circle cx="402.08" cy="285.76" r="1.30" fill="#a9a3a3"/>
<circle cx="376.58" cy="242.28" r="1.30" fill="#a3000f"/>
<circle cx="394.24" cy="308.89" r="1.30" fill="#a3000f"/>
<circle cx="420.60" cy="277.49" r="1.30" fill="#a3000f"/>
<circle cx="387.92" cy="232.40" r="1.30" fill="#a3000f"/>
<circle cx="427.46" cy="247.94" r="1.30" fill="#a3000f"/>
<circle cx="381.88" cy="250.86" r="1.30" fill="#a3000f"/>
<circle cx="407.23" cy="215.80" r="1.30" fill="#a3000f"/>
<circle cx="413.90" cy="265.80" r="1.30" fill="#a9a7a7"/>
<circle cx="403.22" cy="217.41" r="1.30" fill="#a3000f"/>
<circle cx="360.65" cy="255.91" r="1.30" fill="#a3000f"/>
<circle cx="426.67" cy="245.27" r="1.30" fill="#a3000f"/>
<circle cx="388.76" cy="295.17" r="1.30" fill="#a3000f"/>
<circle cx="414.64" cy="284.46" r="1.30" fill="#a3000f"/>
<circle cx="392.28" cy="229.92" r="1.30" fill="#a3000f"/>
<circle cx="413.80" cy="285.48" r="1.30" fill="#a3000f"/>
<circle cx="385.97" cy="278.25" r="1.30" fill="#a3000f"/>
<circle cx="426.67" cy="257.70" r="1.30" fill="#a3000f"/>
<circle cx="422.46" cy="288.84" r="1.30" fill="#a3000f"/>
<circle cx="375.17" cy="243.31" r="1.30" fill="#a3000f"/>
<circle cx="352.13" cy="243.29" r="1.30" fill="#a3000f"/>
<circle cx="415.76" cy="236.89" r="1.30" fill="#a3000f"/>
<circle cx="391.57" cy="264.53" r="1.30" fill="#a3000f"/>
<circle cx="364.40" cy="282.11" r="1.30" fill="#a3000f"/>
<circle cx="397.70" cy="304.21" r="1.30" fill="#a9a3a3"/>
<circle cx="423.57" cy="277.64" r="1.30" fill="#a3000f"/>
<circle cx="425.76" cy="249.21" r="1.30" fill="#a3000f"/>
<circle cx="420.38" cy="245.69" r="1.30" fill="#a3000f"/>
<circle cx="400.54" cy="299.69" r="1.30" fill="#a3000f"/>
<circle cx="422.00" cy="248.81" r="1.30" fill="#c8101c"/>
<circle cx="419.07" cy="231.40" r="1.30" fill="#c8101c"/>
<circle cx="406.49" cy="291.25" r="1.30" fill="#c8101c"/>
<circle cx="370.97" cy="263.15" r="1.30" fill="#a3000f"/>
<circle cx="391.31" cy="227.95" r="1.30" fill="#a3000f"/>
<circle cx="371.80" cy="292.27" r="1.30" fill="#a3000f"/>
<circle cx="378.72" cy="263.18" r="1.30" fill="#a3000f"/>
<circle cx="423.89" cy="237.81" r="1.30" fill="#a3000f"/>
<circle cx="391.39" cy="281.87" r="1.30" fill="#a3000f"/>
<circle cx="370.81" cy="245.56" r="1.30" fill="#c8101c"/>
<circle cx="393.50" cy="213.64" r="1.30" fill="#c8101c"/>
<circle cx="397.11" cy="305.77" r="1.30" fill="#a3000f"/>
<circle cx="389.37" cy="261.66" r="1.30" fill="#a3000f"/>
<circle cx="398.66" cy="233.88" r="1.30" fill="#a3000f"/>
<circle cx="394.15" cy="213.29" r="1.30" fill="#a3000f"/>
<circle cx="367.97" cy="242.15" r="1.30" fill="#c8101c"/>
<circle cx="424.74" cy="279.13" r="1.30" fill="#a3000f"/>
<circle cx="371.05" cy="246.72" r="1.30" fill="#a3000f"/>
<circle cx="389.80" cy="280.68" r="1.30" fill="#a3000f"/>
<circle cx="390.07" cy="260.96" r="1.30" fill="#a3000f"/>
<circle cx="421.42" cy="245.51" r="1.30" fill="#a3000f"/>
<circle cx="417.91" cy="298.79" r="1.30" fill="#a3000f"/>
<circle cx="355.75" cy="273.78" r="1.30" fill="#a3000f"/>
<circle cx="393.22" cy="259.51" r="1.30" fill="#a3000f"/>
<circle cx="371.24" cy="266.22" r="1.30" fill="#a3000f"/>
<circle cx="417.55" cy="250.29" r="1.30" fill="#a3000f"/>
<circle cx="362.90" cy="265.40" r="1.30" fill="#a3000f"/>
<circle cx="351.08" cy="242.47" r="1.30" fill="#a9a3a3"/>
<circle cx="393.19" cy="286.55" r="1.30" fill="#a3000f"/>
<circle cx="409.60" cy="260.15" r="1.30" fill="#a3000f"/>
<circle cx="419.18" cy="246.21" r="1.30" fill="#a3000f"/>
<circle cx="406.50" cy="215.60" r="1.30" fill="#a9a7a7"/>
<circle cx="411.35" cy="290.83" r="1.30" fill="#a3000f"/>
<circle cx="428.00" cy="268.15" r="1.30" fill="#a3000f"/>
<circle cx="364.35" cy="273.73" r="1.30" fill="#c8101c"/>
<circle cx="357.17" cy="244.00" r="1.30" fill="#a3000f"/>
<circle cx="354.40" cy="258.70" r="1.30" fill="#a9a7a7"/>
<circle cx="409.71" cy="248.17" r="1.30" fill="#a3000f"/>
<circle cx="385.80" cy="237.43" r="1.30" fill="#a3000f"/>
<circle cx="384.21" cy="282.71" r="1.30" fill="#a3000f"/>
<circle cx="390.23" cy="234.86" r="1.30" fill="#a3000f"/>
<circle cx="376.70" cy="292.03" r="1.30" fill="#a3000f"/>
<circle cx="402.06" cy="220.83" r="1.30" fill="#a3000f"/>
<circle cx="368.17" cy="266.32" r="1.30" fill="#a3000f"/>
<circle cx="409.11" cy="304.47" r="1.30" fill="#a3000f"/>
<circle cx="369.11" cy="294.23" r="1.30" fill="#a3000f"/>
<circle cx="357.76" cy="275.11" r="1.30" fill="#a3000f"/>
<circle cx="382.00" cy="278.13" r="1.30" fill="#a3000f"/>
<circle cx="405.85" cy="287.57" r="1.30" fill="#a3000f"/>
<circle cx="428.34" cy="262.55" r="1.30" fill="#a3000f"/>
<circle cx="388.93" cy="280.27" r="1.30" fill="#a3000f"/>
<circle cx="351.17" cy="259.18" r="1.30" fill="#a3000f"/>
<circle cx="420.65" cy="233.94" r="1.30" fill="#a3000f"/>
<circle cx="403.70" cy="225.02" r="1.30" fill="#a3000f"/>
<circle cx="422.72" cy="275.80" r="1.30" fill="#a3000f"/>
<circle cx="405.49" cy="239.52" r="1.30" fill="#a3000f"/>
<circle cx="395.67" cy="232.16" r="1.30" fill="#a3000f"/>
<circle cx="352.16" cy="247.21" r="1.30" fill="#a3000f"/>
<circle cx="394.40" cy="232.67" r="1.30" fill="#a3000f"/>
<circle cx="405.32" cy="291.90" r="1.30" fill="#c8101c"/>
<circle cx="371.45" cy="266.16" r="1.30" fill="#a3000f"/>
<circle cx="390.72" cy="283.01" r="1.30" fill="#a3000f"/>
<circle cx="351.72" cy="265.43" r="1.30" fill="#c8101c"/>
<circle cx="374.18" cy="266.57" r="1.30" fill="#a3000f"/>
<circle cx="365.23" cy="279.47" r="1.30" fill="#a3000f"/>
<circle cx="400.47" cy="236.13" r="1.30" fill="#a3000f"/>
<circle cx="408.90" cy="295.63" r="1.30" fill="#a3000f"/>
<circle cx="366.72" cy="285.50" r="1.30" fill="#c8101c"/>
<circle cx="416.17" cy="236.00" r="1.30" fill="#a3000f"/>
<circle cx="382.86" cy="276.82" r="1.30" fill="#a3000f"/>
<circle cx="365.10" cy="244.75" r="1.30" fill="#a3000f"/>
<circle cx="425.50" cy="279.50" r="1.30" fill="#a9a7a7"/>
<circle cx="392.85" cy="304.93" r="1.30" fill="#a3000f"/>
<circle cx="355.90" cy="262.95" r="1.30" fill="#a3000f"/>
<circle cx="392.19" cy="307.79" r="1.30" fill="#a9a3a3"/>
<circle cx="355.75" cy="244.64" r="1.30" fill="#a3000f"/>
<circle cx="423.08" cy="235.07" r="1.30" fill="#a3000f"/>
<circle cx="362.73" cy="270.32" r="1.30" fill="#a3000f"/>
<circle cx="428.32" cy="251.00" r="1.30" fill="#a3000f"/>
<circle cx="400.93" cy="304.31" r="1.30" fill="#c8101c"/>
<circle cx="417.16" cy="237.31" r="1.30" fill="#a3000f"/>
<circle cx="352.62" cy="248.16" r="1.30" fill="#a3000f"/>
<circle cx="354.89" cy="259.99" r="1.30" fill="#a3000f"/>
<circle cx="388.58" cy="305.34" r="1.30" fill="#a9a3a3"/>
<circle cx="424.79" cy="248.06" r="1.30" fill="#a3000f"/>
<circle cx="353.83" cy="269.25" r="1.30" fill="#a3000f"/>
<circle cx="408.34" cy="260.27" r="1.30" fill="#a9a3a3"/>
<circle cx="408.16" cy="293.99" r="1.30" fill="#c8101c"/>
<circle cx="417.27" cy="254.43" r="1.30" fill="#a3000f"/>
<circle cx="415.56" cy="255.95" r="1.30" fill="#a3000f"/>
<circle cx="406.65" cy="217.24" r="1.30" fill="#a3000f"/>
<circle cx="402.39" cy="299.50" r="1.30" fill="#c8101c"/>
<circle cx="365.52" cy="292.78" r="1.30" fill="#c8101c"/>
<circle cx="406.47" cy="216.05" r="1.30" fill="#a3000f"/>
<circle cx="423.56" cy="239.41" r="1.30" fill="#a3000f"/>
<circle cx="368.56" cy="241.34" r="1.30" fill="#c8101c"/>
<circle cx="405.75" cy="218.36" r="1.30" fill="#c8101c"/>
<circle cx="412.89" cy="255.76" r="1.30" fill="#a3000f"/>
<circle cx="409.32" cy="303.85" r="1.30" fill="#a3000f"/>
<circle cx="403.80" cy="297.06" r="1.30" fill="#a3000f"/>
<circle cx="423.92" cy="242.29" r="1.30" fill="#c8101c"/>
<circle cx="389.94" cy="290.11" r="1.30" fill="#a3000f"/>
<circle cx="386.41" cy="232.61" r="1.30" fill="#a3000f"/>
<circle cx="353.50" cy="268.29" r="1.30" fill="#a3000f"/>
<circle cx="370.06" cy="241.93" r="1.30" fill="#a3000f"/>
<circle cx="419.09" cy="244.97" r="1.30" fill="#a3000f"/>
<circle cx="364.58" cy="279.17" r="1.30" fill="#a3000f"/>
<circle cx="415.51" cy="297.24" r="1.30" fill="#a3000f"/>
<circle cx="360.45" cy="249.73" r="1.30" fill="#a3000f"/>
<circle cx="388.65" cy="308.43" r="1.30" fill="#a3000f"/>
<circle cx="393.98" cy="235.04" r="1.30" fill="#a3000f"/>
<circle cx="347.93" cy="240.11" r="1.30" fill="#a3000f"/>
<circle cx="410.67" cy="296.20" r="1.30" fill="#a3000f"/>
<circle cx="380.46" cy="248.68" r="1.30" fill="#a3000f"/>
<circle cx="371.81" cy="261.89" r="1.30" fill="#a3000f"/>
<circle cx="375.43" cy="292.97" r="1.30" fill="#a3000f"/>
<circle cx="420.04" cy="284.84" r="1.30" fill="#a3000f"/>
<circle cx="408.26" cy="288.87" r="1.30" fill="#a3000f"/>
<circle cx="411.01" cy="249.72" r="1.30" fill="#a3000f"/>
<circle cx="414.66" cy="255.87" r="1.30" fill="#a3000f"/>
<circle cx="367.52" cy="276.84" r="1.30" fill="#a3000f"/>
<circle cx="427.20" cy="254.37" r="1.30" fill="#c8101c"/>
<circle cx="364.05" cy="275.21" r="1.30" fill="#a3000f"/>
<circle cx="410.46" cy="253.34" r="1.30" fill="#c8101c"/>
<circle cx="392.37" cy="267.12" r="1.30" fill="#a3000f"/>
<circle cx="389.47" cy="301.99" r="1.30" fill="#a3000f"/>
<circle cx="407.16" cy="259.17" r="1.30" fill="#a3000f"/>
<circle cx="356.50" cy="264.42" r="1.30" fill="#a3000f"/>
<circle cx="426.76" cy="248.42" r="1.30" fill="#a3000f"/>
<circle cx="378.09" cy="237.88" r="1.30" fill="#a3000f"/>
<circle cx="411.18" cy="292.49" r="1.30" fill="#a3000f"/>
<circle cx="412.44" cy="251.98" r="1.30" fill="#c8101c"/>
<circle cx="386.01" cy="239.32" r="1.30" fill="#a3000f"/>
<circle cx="387.06" cy="278.17" r="1.30" fill="#a9a3a3"/>
<circle cx="384.41" cy="223.95" r="1.30" fill="#a3000f"/>
<circle cx="354.53" cy="273.22" r="1.30" fill="#a9a3a3"/>
<circle cx="363.62" cy="266.75" r="1.30" fill="#a3000f"/>
<circle cx="388.96" cy="239.23" r="1.30" fill="#a3000f"/>
<circle cx="408.19" cy="259.60" r="1.30" fill="#a3000f"/>
<circle cx="393.22" cy="266.37" r="1.30" fill="#a3000f"/>
<circle cx="424.10" cy="240.82" r="1.30" fill="#a3000f"/>
<circle cx="412.35" cy="252.08" r="1.30" fill="#a3000f"/>
<circle cx="410.39" cy="303.95" r="1.30" fill="#a3000f"/>
<circle cx="370.48" cy="265.85" r="1.30" fill="#a3000f"/>
<circle cx="407.47" cy="306.67" r="1.30" fill="#a3000f"/>
<circle cx="388.78" cy="239.06" r="1.30" fill="#a3000f"/>
<circle cx="408.84" cy="220.87" r="1.30" fill="#c8101c"/>
<circle cx="408.40" cy="246.31" r="1.30" fill="#a3000f"/>
<circle cx="366.61" cy="292.26" r="1.30" fill="#a3000f"/>
<circle cx="359.62" cy="256.91" r="1.30" fill="#a3000f"/>
<circle cx="374.96" cy="261.40" r="1.30" fill="#a3000f"/>
<circle cx="368.16" cy="273.41" r="1.30" fill="#a3000f"/>
<circle cx="422.35" cy="285.94" r="1.30" fill="#a3000f"/>
<circle cx="413.29" cy="301.09" r="1.30" fill="#a3000f"/>
<circle cx="428.02" cy="249.51" r="1.30" fill="#a3000f"/>
<circle cx="388.79" cy="237.18" r="1.30" fill="#a3000f"/>
<circle cx="414.42" cy="255.02" r="1.30" fill="#a3000f"/>
<circle cx="350.79" cy="258.00" r="1.30" fill="#a3000f"/>
<circle cx="404.44" cy="219.12" r="1.30" fill="#a9a3a3"/>
<circle cx="409.20" cy="246.07" r="1.30" fill="#a3000f"/>
<circle cx="403.67" cy="213.88" r="1.30" fill="#a3000f"/>
<circle cx="376.65" cy="262.41" r="1.30" fill="#a3000f"/>
<circle cx="411.93" cy="251.51" r="1.30" fill="#a3000f"/>
<circle cx="373.59" cy="291.45" r="1.30" fill="#a3000f"/>
<circle cx="412.69" cy="298.87" r="1.30" fill="#a3000f"/>
<circle cx="415.13" cy="256.57" r="1.30" fill="#a3000f"/>
<circle cx="414.32" cy="252.60" r="1.30" fill="#a3000f"/>
<circle cx="418.38" cy="230.51" r="1.30" fill="#a3000f"/>
<circle cx="429.27" cy="267.81" r="1.30" fill="#a3000f"/>
<circle cx="418.37" cy="231.26" r="1.30" fill="#a3000f"/>
<circle cx="361.26" cy="254.58" r="1.30" fill="#a3000f"/>
<circle cx="387.20" cy="277.11" r="1.30" fill="#a3000f"/>
<circle cx="420.55" cy="286.56" r="1.30" fill="#a3000f"/>
<circle cx="381.35" cy="252.09" r="1.30" fill="#a3000f"/>
<circle cx="406.06" cy="241.44" r="1.30" fill="#a3000f"/>
<circle cx="359.09" cy="257.32" r="1.30" fill="#a3000f"/>
<circle cx="389.36" cy="305.10" r="1.30" fill="#c8101c"/>
<circle cx="414.41" cy="253.41" r="1.30" fill="#a3000f"/>
<circle cx="356.79" cy="246.14" r="1.30" fill="#a3000f"/>
<circle cx="411.85" cy="253.69" r="1.30" fill="#c8101c"/>
<circle cx="411.96" cy="286.87" r="1.30" fill="#a3000f"/>
<circle cx="363.55" cy="273.42" r="1.30" fill="#a3000f"/>
<circle cx="384.19" cy="235.79" r="1.30" fill="#a3000f"/>
<circle cx="370.73" cy="242.34" r="1.30" fill="#c8101c"/>
<circle cx="393.43" cy="303.20" r="1.30" fill="#a3000f"/>
<circle cx="410.78" cy="248.15" r="1.30" fill="#a3000f"/>
<circle cx="377.32" cy="237.33" r="1.30" fill="#a3000f"/>
<circle cx="393.33" cy="287.92" r="1.30" fill="#a3000f"/>
<circle cx="378.80" cy="261.90" r="1.30" fill="#c8101c"/>
<circle cx="390.07" cy="236.85" r="1.30" fill="#a3000f"/>
<circle cx="416.75" cy="298.78" r="1.30" fill="#a3000f"/>
<circle cx="393.32" cy="260.59" r="1.30" fill="#a3000f"/>
<circle cx="400.91" cy="222.86" r="1.30" fill="#a3000f"/>
<circle cx="373.71" cy="292.87" r="1.30" fill="#a3000f"/>
<circle cx="375.08" cy="258.60" r="1.30" fill="#a3000f"/>
<circle cx="400.52" cy="307.59" r="1.30" fill="#a3000f"/>
<circle cx="389.09" cy="279.10" r="1.30" fill="#a3000f"/>
<circle cx="386.99" cy="291.50" r="1.30" fill="#a3000f"/>
<circle cx="426.78" cy="253.47" r="1.30" fill="#a3000f"/>
<circle cx="379.08" cy="289.25" r="1.30" fill="#a3000f"/>
<circle cx="383.37" cy="284.58" r="1.30" fill="#a3000f"/>
<circle cx="356.24" cy="265.34" r="1.30" fill="#a3000f"/>
<circle cx="408.80" cy="288.97" r="1.30" fill="#a3000f"/>
<circle cx="406.31" cy="242.90" r="1.30" fill="#a3000f"/>
<circle cx="385.50" cy="226.07" r="1.30" fill="#a3000f"/>
<circle cx="358.16" cy="254.31" r="1.30" fill="#a3000f"/>
<circle cx="401.42" cy="237.26" r="1.30" fill="#a3000f"/>
<circle cx="409.03" cy="260.03" r="1.30" fill="#a3000f"/>
<circle cx="375.64" cy="264.09" r="1.30" fill="#a3000f"/>
<circle cx="367.68" cy="292.23" r="1.30" fill="#a3000f"/>
<circle cx="351.13" cy="250.78" r="1.30" fill="#a3000f"/>
<circle cx="388.71" cy="301.66" r="1.30" fill="#a3000f"/>
<circle cx="363.64" cy="274.37" r="1.30" fill="#a3000f"/>
<circle cx="423.75" cy="235.32" r="1.30" fill="#a3000f"/>
<circle cx="347.46" cy="239.51" r="1.30" fill="#c8101c"/>
<circle cx="398.00" cy="293.00" r="1.30" fill="#a9a7a7"/>
<circle cx="415.46" cy="234.32" r="1.30" fill="#a3000f"/>
<circle cx="388.97" cy="292.70" r="1.30" fill="#a3000f"/>
<circle cx="411.03" cy="286.56" r="1.30" fill="#a3000f"/>
<circle cx="404.27" cy="217.73" r="1.30" fill="#a9a3a3"/>
<circle cx="389.62" cy="301.78" r="1.30" fill="#a9a3a3"/>
<circle cx="350.59" cy="252.53" r="1.30" fill="#a3000f"/>
<circle cx="401.34" cy="302.53" r="1.30" fill="#a3000f"/>
<circle cx="372.95" cy="252.90" r="1.30" fill="#a3000f"/>
<circle cx="388.61" cy="297.18" r="1.30" fill="#a9a3a3"/>
<circle cx="399.62" cy="234.29" r="1.30" fill="#a3000f"/>
<circle cx="387.83" cy="238.44" r="1.30" fill="#a3000f"/>
<circle cx="402.96" cy="296.46" r="1.30" fill="#a3000f"/>
<circle cx="388.75" cy="306.03" r="1.30" fill="#a3000f"/>
<circle cx="364.28" cy="274.54" r="1.30" fill="#c8101c"/>
<circle cx="359.21" cy="257.48" r="1.30" fill="#c8101c"/>
<circle cx="381.17" cy="259.94" r="1.30" fill="#a3000f"/>
<circle cx="419.06" cy="286.10" r="1.30" fill="#a9a3a3"/>
<circle cx="405.40" cy="235.70" r="1.30" fill="#a9a7a7"/>
<circle cx="391.34" cy="229.39" r="1.30" fill="#a3000f"/>
<circle cx="405.68" cy="286.53" r="1.30" fill="#a3000f"/>
<circle cx="418.15" cy="228.12" r="1.30" fill="#a3000f"/>
<circle cx="421.10" cy="232.11" r="1.30" fill="#a3000f"/>
<circle cx="389.48" cy="227.63" r="1.30" fill="#c8101c"/>
<circle cx="387.23" cy="279.72" r="1.30" fill="#a3000f"/>
<circle cx="347.72" cy="238.97" r="1.30" fill="#a3000f"/>
<circle cx="420.82" cy="247.06" r="1.30" fill="#a3000f"/>
<circle cx="402.94" cy="214.30" r="1.30" fill="#a3000f"/>
<circle cx="392.14" cy="309.22" r="1.30" fill="#c8101c"/>
<circle cx="411.48" cy="235.56" r="1.30" fill="#a3000f"/>
<circle cx="375.36" cy="254.85" r="1.30" fill="#a3000f"/>
<circle cx="382.06" cy="277.39" r="1.30" fill="#a3000f"/>
<circle cx="428.51" cy="252.12" r="1.30" fill="#a3000f"/>
<circle cx="359.30" cy="248.59" r="1.30" fill="#a3000f"/>
<circle cx="362.12" cy="252.85" r="1.30" fill="#c8101c"/>
<circle cx="372.60" cy="251.51" r="1.30" fill="#c8101c"/>
<circle cx="389.72" cy="306.26" r="1.30" fill="#a3000f"/>
<circle cx="409.73" cy="295.48" r="1.30" fill="#a3000f"/>
<circle cx="385.30" cy="282.03" r="1.30" fill="#a3000f"/>
<circle cx="391.26" cy="300.01" r="1.30" fill="#a3000f"/>
<circle cx="418.29" cy="278.79" r="1.30" fill="#a3000f"/>
<circle cx="398.87" cy="236.10" r="1.30" fill="#a3000f"/>
<circle cx="388.21" cy="214.65" r="1.30" fill="#a9a3a3"/>
<circle cx="382.65" cy="277.83" r="1.30" fill="#a3000f"/>
<circle cx="352.63" cy="270.68" r="1.30" fill="#a3000f"/>
<circle cx="364.47" cy="265.70" r="1.30" fill="#a3000f"/>
<circle cx="386.34" cy="229.91" r="1.30" fill="#a3000f"/>
<circle cx="355.94" cy="269.92" r="1.30" fill="#a3000f"/>
<circle cx="384.21" cy="277.58" r="1.30" fill="#a3000f"/>
<circle cx="384.03" cy="283.73" r="1.30" fill="#a3000f"/>
<circle cx="411.34" cy="250.89" r="1.30" fill="#a3000f"/>
<circle cx="396.96" cy="232.19" r="1.30" fill="#a3000f"/>
<circle cx="375.12" cy="291.75" r="1.30" fill="#a3000f"/>
<circle cx="405.84" cy="231.97" r="1.30" fill="#c8101c"/>
<circle cx="395.16" cy="266.51" r="1.30" fill="#a3000f"/>
<circle cx="408.28" cy="305.22" r="1.30" fill="#a3000f"/>
<circle cx="390.53" cy="282.54" r="1.30" fill="#a3000f"/>
<circle cx="425.17" cy="238.19" r="1.30" fill="#a3000f"/>
<circle cx="356.23" cy="265.91" r="1.30" fill="#a3000f"/>
<circle cx="374.39" cy="258.09" r="1.30" fill="#a3000f"/>
<circle cx="367.31" cy="277.27" r="1.30" fill="#a3000f"/>
<circle cx="390.04" cy="297.18" r="1.30" fill="#a9a3a3"/>
<circle cx="380.00" cy="286.00" r="1.30" fill="#a9a7a7"/>
<circle cx="390.18" cy="301.15" r="1.30" fill="#a9a3a3"/>
<circle cx="415.81" cy="237.15" r="1.30" fill="#a3000f"/>
<circle cx="411.84" cy="258.70" r="1.30" fill="#a3000f"/>
<circle cx="375.73" cy="238.19" r="1.30" fill="#c8101c"/>
<circle cx="407.67" cy="232.48" r="1.30" fill="#c8101c"/>
<circle cx="417.91" cy="240.43" r="1.30" fill="#a3000f"/>
<circle cx="360.29" cy="277.89" r="1.30" fill="#a3000f"/>
<circle cx="391.38" cy="215.42" r="1.30" fill="#a3000f"/>
<circle cx="415.43" cy="300.60" r="1.30" fill="#a3000f"/>
<circle cx="385.98" cy="276.95" r="1.30" fill="#a3000f"/>
<circle cx="408.49" cy="222.01" r="1.30" fill="#c8101c"/>
<circle cx="405.82" cy="242.24" r="1.30" fill="#a3000f"/>
<circle cx="390.68" cy="299.40" r="1.30" fill="#a3000f"/>
<circle cx="423.27" cy="249.38" r="1.30" fill="#a3000f"/>
<circle cx="385.53" cy="233.38" r="1.30" fill="#a3000f"/>
<circle cx="417.02" cy="228.11" r="1.30" fill="#a3000f"/>
<circle cx="406.09" cy="215.91" r="1.30" fill="#a3000f"/>
<circle cx="360.38" cy="258.91" r="1.30" fill="#a3000f"/>
<circle cx="370.34" cy="263.69" r="1.30" fill="#a3000f"/>
<circle cx="400.78" cy="236.47" r="1.30" fill="#a3000f"/>
<circle cx="384.30" cy="284.29" r="1.30" fill="#a3000f"/>
<circle cx="415.45" cy="227.36" r="1.30" fill="#a3000f"/>
<circle cx="426.90" cy="252.36" r="1.30" fill="#a3000f"/>
<circle cx="400.22" cy="284.65" r="1.30" fill="#a3000f"/>
<circle cx="388.80" cy="291.15" r="1.30" fill="#a3000f"/>
<circle cx="356.52" cy="261.15" r="1.30" fill="#a3000f"/>
<circle cx="418.48" cy="245.79" r="1.30" fill="#a3000f"/>
<circle cx="421.97" cy="287.65" r="1.30" fill="#a3000f"/>
<circle cx="417.75" cy="249.05" r="1.30" fill="#a3000f"/>
<circle cx="385.40" cy="222.47" r="1.30" fill="#a3000f"/>
<circle cx="412.17" cy="256.97" r="1.30" fill="#a9a3a3"/>
<circle cx="357.79" cy="253.18" r="1.30" fill="#a3000f"/>
<circle cx="369.14" cy="240.46" r="1.30" fill="#a3000f"/>
<circle cx="386.03" cy="279.32" r="1.30" fill="#a3000f"/>
<circle cx="388.53" cy="292.93" r="1.30" fill="#a3000f"/>
<circle cx="409.95" cy="244.23" r="1.30" fill="#a3000f"/>
<circle cx="428.44" cy="269.65" r="1.30" fill="#a3000f"/>
<circle cx="391.80" cy="265.79" r="1.30" fill="#a3000f"/>
<circle cx="388.38" cy="299.10" r="1.30" fill="#a3000f"/>
<circle cx="372.08" cy="245.71" r="1.30" fill="#c8101c"/>
<circle cx="422.85" cy="275.35" r="1.30" fill="#a3000f"/>
<circle cx="378.11" cy="289.51" r="1.30" fill="#a3000f"/>
<circle cx="411.43" cy="303.55" r="1.30" fill="#a3000f"/>
<circle cx="411.96" cy="247.67" r="1.30" fill="#c8101c"/>
<circle cx="414.58" cy="256.25" r="1.30" fill="#a3000f"/>
<circle cx="401.32" cy="235.82" r="1.30" fill="#a3000f"/>
<circle cx="410.57" cy="290.46" r="1.30" fill="#c8101c"/>
<circle cx="349.00" cy="255.85" r="1.30" fill="#a3000f"/>
<circle cx="400.35" cy="234.98" r="1.30" fill="#a3000f"/>
<circle cx="419.91" cy="245.64" r="1.30" fill="#a3000f"/>
<circle cx="372.81" cy="266.61" r="1.30" fill="#a3000f"/>
<circle cx="406.37" cy="287.35" r="1.30" fill="#a3000f"/>
<circle cx="422.35" cy="236.05" r="1.30" fill="#a3000f"/>
<circle cx="387.69" cy="215.96" r="1.30" fill="#a9a3a3"/>
<circle cx="363.61" cy="277.82" r="1.30" fill="#a3000f"/>
<circle cx="388.92" cy="291.66" r="1.30" fill="#a3000f"/>
<circle cx="364.72" cy="265.62" r="1.30" fill="#a3000f"/>
<circle cx="427.76" cy="255.71" r="1.30" fill="#a3000f"/>
<circle cx="422.42" cy="277.57" r="1.30" fill="#a3000f"/>
<circle cx="375.46" cy="255.88" r="1.30" fill="#a3000f"/>
<circle cx="363.04" cy="262.02" r="1.30" fill="#a3000f"/>
<circle cx="386.53" cy="224.36" r="1.30" fill="#a3000f"/>
<circle cx="408.87" cy="294.77" r="1.30" fill="#c8101c"/>
<circle cx="406.12" cy="239.18" r="1.30" fill="#c8101c"/>
<circle cx="355.34" cy="261.60" r="1.30" fill="#a3000f"/>
<circle cx="359.54" cy="255.87" r="1.30" fill="#a3000f"/>
<circle cx="379.09" cy="259.97" r="1.30" fill="#a3000f"/>
<circle cx="421.51" cy="284.64" r="1.30" fill="#a3000f"/>
<circle cx="366.58" cy="279.75" r="1.30" fill="#a3000f"/>
<circle cx="407.44" cy="242.32" r="1.30" fill="#a3000f"/>
<circle cx="401.48" cy="224.91" r="1.30" fill="#a3000f"/>
<circle cx="372.67" cy="266.12" r="1.30" fill="#a3000f"/>
<circle cx="413.51" cy="299.89" r="1.30" fill="#a3000f"/>
<circle cx="390.00" cy="300.67" r="1.30" fill="#a3000f"/>
<circle cx="365.15" cy="292.62" r="1.30" fill="#a3000f"/>
<circle cx="389.66" cy="292.65" r="1.30" fill="#a3000f"/>
<circle cx="406.21" cy="258.60" r="1.30" fill="#a3000f"/>
<circle cx="362.05" cy="262.70" r="1.30" fill="#a3000f"/>
<circle cx="367.61" cy="238.50" r="1.30" fill="#a3000f"/>
<circle cx="385.35" cy="219.27" r="1.30" fill="#a3000f"/>
<circle cx="403.23" cy="307.78" r="1.30" fill="#a3000f"/>
<circle cx="386.05" cy="238.77" r="1.30" fill="#a3000f"/>
<circle cx="360.89" cy="257.42" r="1.30" fill="#a3000f"/>
<circle cx="351.15" cy="241.37" r="1.30" fill="#a9a3a3"/>
<circle cx="422.35" cy="247.63" r="1.30" fill="#c8101c"/>
<circle cx="377.14" cy="290.56" r="1.30" fill="#a3000f"/>
<circle cx="390.56" cy="303.80" r="1.30" fill="#a3000f"/>
<circle cx="382.86" cy="234.91" r="1.30" fill="#a3000f"/>
<circle cx="389.87" cy="305.13" r="1.30" fill="#a3000f"/>
<circle cx="406.20" cy="231.02" r="1.30" fill="#c8101c"/>
<circle cx="387.37" cy="284.75" r="1.30" fill="#a3000f"/>
<circle cx="411.23" cy="252.64" r="1.30" fill="#a3000f"/>
<circle cx="387.00" cy="246.00" r="1.30" fill="#a9a7a7"/>
<circle cx="356.39" cy="274.31" r="1.30" fill="#a3000f"/>
<circle cx="361.30" cy="253.11" r="1.30" fill="#c8101c"/>
<circle cx="388.75" cy="298.29" r="1.30" fill="#a3000f"/>
<circle cx="368.72" cy="294.47" r="1.30" fill="#a3000f"/>
<circle cx="383.22" cy="257.03" r="1.30" fill="#c8101c"/>
<circle cx="410.12" cy="288.69" r="1.30" fill="#a3000f"/>
<circle cx="387.69" cy="283.73" r="1.30" fill="#a3000f"/>
<circle cx="350.88" cy="251.79" r="1.30" fill="#a3000f"/>
<circle cx="395.43" cy="229.46" r="1.30" fill="#a9a3a3"/>
<circle cx="420.98" cy="287.83" r="1.30" fill="#c8101c"/>
<circle cx="364.75" cy="291.86" r="1.30" fill="#a3000f"/>
<circle cx="360.99" cy="252.19" r="1.30" fill="#a3000f"/>
<circle cx="413.67" cy="301.01" r="1.30" fill="#c8101c"/>
<circle cx="416.44" cy="300.56" r="1.30" fill="#a3000f"/>
<circle cx="429.52" cy="262.35" r="1.30" fill="#a3000f"/>
<circle cx="404.93" cy="226.07" r="1.30" fill="#c8101c"/>
<circle cx="395.58" cy="215.08" r="1.30" fill="#c8101c"/>
<circle cx="406.84" cy="305.50" r="1.30" fill="#a3000f"/>
<circle cx="416.50" cy="238.90" r="1.30" fill="#a9a7a7"/>
<circle cx="414.50" cy="254.47" r="1.30" fill="#a3000f"/>
<circle cx="346.51" cy="238.88" r="1.30" fill="#c8101c"/>
<circle cx="423.82" cy="248.71" r="1.30" fill="#a3000f"/>
<circle cx="412.07" cy="236.12" r="1.30" fill="#a3000f"/>
<circle cx="385.33" cy="284.32" r="1.30" fill="#a3000f"/>
<circle cx="374.09" cy="256.10" r="1.30" fill="#a3000f"/>
<circle cx="407.44" cy="231.35" r="1.30" fill="#c8101c"/>
<circle cx="368.81" cy="265.03" r="1.30" fill="#c8101c"/>
<circle cx="384.58" cy="279.95" r="1.30" fill="#a3000f"/>
<circle cx="383.39" cy="278.21" r="1.30" fill="#a3000f"/>
<circle cx="401.83" cy="221.69" r="1.30" fill="#a3000f"/>
<circle cx="399.29" cy="284.07" r="1.30" fill="#a3000f"/>
<circle cx="403.51" cy="285.81" r="1.30" fill="#a9a3a3"/>
<circle cx="386.82" cy="217.80" r="1.30" fill="#a3000f"/>
<circle cx="412.01" cy="294.20" r="1.30" fill="#a3000f"/>
<circle cx="412.94" cy="294.32" r="1.30" fill="#a3000f"/>
<circle cx="415.25" cy="298.02" r="1.30" fill="#a3000f"/>
<circle cx="347.78" cy="239.82" r="1.30" fill="#a3000f"/>
<circle cx="388.52" cy="300.76" r="1.30" fill="#a3000f"/>
<circle cx="410.29" cy="259.00" r="1.30" fill="#c8101c"/>
<circle cx="359.81" cy="249.96" r="1.30" fill="#a3000f"/>
<circle cx="357.64" cy="276.26" r="1.30" fill="#c8101c"/>
<circle cx="378.70" cy="261.29" r="1.30" fill="#a3000f"/>
<circle cx="384.63" cy="232.51" r="1.30" fill="#a3000f"/>
<circle cx="365.17" cy="283.76" r="1.30" fill="#a3000f"/>
<circle cx="398.50" cy="258.24" r="1.30" fill="#a3000f"/>
<circle cx="352.26" cy="259.00" r="1.30" fill="#a3000f"/>
<circle cx="390.58" cy="289.40" r="1.30" fill="#a3000f"/>
<circle cx="394.69" cy="304.74" r="1.30" fill="#a3000f"/>
<circle cx="357.66" cy="253.66" r="1.30" fill="#a3000f"/>
<circle cx="378.16" cy="242.20" r="1.30" fill="#a9a3a3"/>
<circle cx="407.51" cy="223.66" r="1.30" fill="#c8101c"/>
<circle cx="383.64" cy="285.72" r="1.30" fill="#a3000f"/>
<circle cx="397.38" cy="259.26" r="1.30" fill="#a3000f"/>
<circle cx="382.91" cy="278.10" r="1.30" fill="#a3000f"/>
<circle cx="367.50" cy="241.84" r="1.30" fill="#a3000f"/>
<circle cx="410.26" cy="250.76" r="1.30" fill="#a3000f"/>
<circle cx="383.39" cy="257.86" r="1.30" fill="#c8101c"/>
<circle cx="386.54" cy="225.35" r="1.30" fill="#a3000f"/>
<circle cx="405.74" cy="241.59" r="1.30" fill="#a3000f"/>
<circle cx="368.31" cy="239.95" r="1.30" fill="#a3000f"/>
<circle cx="381.55" cy="276.21" r="1.30" fill="#a3000f"/>
<circle cx="401.54" cy="300.85" r="1.30" fill="#a3000f"/>
<circle cx="388.33" cy="278.25" r="1.30" fill="#a9a3a3"/>
<circle cx="372.91" cy="265.02" r="1.30" fill="#a3000f"/>
<circle cx="414.85" cy="300.64" r="1.30" fill="#a3000f"/>
<circle cx="408.37" cy="243.35" r="1.30" fill="#a3000f"/>
<circle cx="355.89" cy="260.48" r="1.30" fill="#a3000f"/>
<circle cx="421.31" cy="285.24" r="1.30" fill="#a3000f"/>
<circle cx="377.37" cy="238.77" r="1.30" fill="#a3000f"/>
<circle cx="374.14" cy="253.87" r="1.30" fill="#a3000f"/>
<circle cx="386.78" cy="233.98" r="1.30" fill="#c8101c"/>
<circle cx="422.55" cy="283.63" r="1.30" fill="#a3000f"/>
<circle cx="385.65" cy="277.16" r="1.30" fill="#a3000f"/>
<circle cx="387.55" cy="299.99" r="1.30" fill="#a3000f"/>
<circle cx="423.04" cy="284.52" r="1.30" fill="#a3000f"/>
<circle cx="405.01" cy="224.81" r="1.30" fill="#a3000f"/>
<circle cx="413.45" cy="285.30" r="1.30" fill="#c8101c"/>
<circle cx="395.06" cy="230.89" r="1.30" fill="#a9a3a3"/>
<circle cx="367.77" cy="243.74" r="1.30" fill="#a3000f"/>
<circle cx="397.47" cy="235.68" r="1.30" fill="#a3000f"/>
<circle cx="416.07" cy="299.40" r="1.30" fill="#a3000f"/>
<circle cx="420.05" cy="233.32" r="1.30" fill="#a3000f"/>
<circle cx="389.18" cy="238.09" r="1.30" fill="#a3000f"/>
<circle cx="414.44" cy="297.24" r="1.30" fill="#a3000f"/>
<circle cx="367.52" cy="278.06" r="1.30" fill="#a3000f"/>
<circle cx="385.32" cy="220.53" r="1.30" fill="#a3000f"/>
<circle cx="399.58" cy="307.75" r="1.30" fill="#c8101c"/>
<circle cx="405.26" cy="294.28" r="1.30" fill="#c8101c"/>
<circle cx="412.09" cy="257.53" r="1.30" fill="#a3000f"/>
<circle cx="388.64" cy="233.80" r="1.30" fill="#a3000f"/>
<circle cx="368.51" cy="274.09" r="1.30" fill="#a3000f"/>
<circle cx="349.35" cy="240.70" r="1.30" fill="#a3000f"/>
<circle cx="413.68" cy="294.77" r="1.30" fill="#c8101c"/>
<circle cx="405.79" cy="306.39" r="1.30" fill="#c8101c"/>
<circle cx="425.62" cy="270.92" r="1.30" fill="#c8101c"/>
<circle cx="392.10" cy="289.23" r="1.30" fill="#a3000f"/>
<circle cx="403.04" cy="212.62" r="1.30" fill="#a3000f"/>
<circle cx="402.01" cy="236.42" r="1.30" fill="#a3000f"/>
<circle cx="422.55" cy="277.24" r="1.30" fill="#a3000f"/>
<circle cx="390.30" cy="228.84" r="1.30" fill="#a3000f"/>
<circle cx="355.39" cy="245.74" r="1.30" fill="#a3000f"/>
<circle cx="415.84" cy="299.26" r="1.30" fill="#a3000f"/>
<circle cx="424.66" cy="243.56" r="1.30" fill="#c8101c"/>
<circle cx="394.58" cy="235.02" r="1.30" fill="#a3000f"/>
<circle cx="386.22" cy="233.13" r="1.30" fill="#a3000f"/>
<circle cx="394.81" cy="267.23" r="1.30" fill="#a3000f"/>
<circle cx="429.63" cy="265.45" r="1.30" fill="#a3000f"/>
<circle cx="386.96" cy="238.32" r="1.30" fill="#a3000f"/>
<circle cx="366.52" cy="266.69" r="1.30" fill="#a3000f"/>
<circle cx="358.59" cy="274.40" r="1.30" fill="#a3000f"/>
<circle cx="362.63" cy="264.40" r="1.30" fill="#a3000f"/>
<circle cx="427.08" cy="243.86" r="1.30" fill="#a3000f"/>
<circle cx="366.93" cy="279.58" r="1.30" fill="#a3000f"/>
<circle cx="375.26" cy="259.73" r="1.30" fill="#a3000f"/>
<circle cx="365.15" cy="283.19" r="1.30" fill="#a3000f"/>
<circle cx="393.76" cy="284.26" r="1.30" fill="#a3000f"/>
<circle cx="394.02" cy="234.06" r="1.30" fill="#a3000f"/>
<circle cx="387.54" cy="277.67" r="1.30" fill="#c8101c"/>
<circle cx="406.38" cy="223.97" r="1.30" fill="#c8101c"/>
<circle cx="369.74" cy="266.35" r="1.30" fill="#a3000f"/>
<circle cx="414.99" cy="255.25" r="1.30" fill="#a3000f"/>
<circle cx="410.04" cy="290.49" r="1.30" fill="#a3000f"/>
<circle cx="395.44" cy="269.30" r="1.30" fill="#a3000f"/>
<circle cx="352.07" cy="248.20" r="1.30" fill="#a3000f"/>
<circle cx="386.71" cy="283.87" r="1.30" fill="#a3000f"/>
<circle cx="376.33" cy="260.21" r="1.30" fill="#a3000f"/>
<circle cx="384.30" cy="221.09" r="1.30" fill="#a3000f"/>
<circle cx="396.10" cy="258.92" r="1.30" fill="#c8101c"/>
<circle cx="368.35" cy="275.50" r="1.30" fill="#a3000f"/>
<circle cx="419.06" cy="277.07" r="1.30" fill="#a3000f"/>
<circle cx="428.56" cy="263.61" r="1.30" fill="#a3000f"/>
<circle cx="351.29" cy="250.35" r="1.30" fill="#a3000f"/>
<circle cx="424.87" cy="280.14" r="1.30" fill="#a3000f"/>
<circle cx="382.86" cy="276.41" r="1.30" fill="#a3000f"/>
<circle cx="397.73" cy="234.54" r="1.30" fill="#a3000f"/>
<circle cx="368.37" cy="241.63" r="1.30" fill="#a3000f"/>
<circle cx="397.67" cy="213.86" r="1.30" fill="#a3000f"/>
<circle cx="393.50" cy="259.06" r="1.30" fill="#a3000f"/>
<circle cx="374.77" cy="255.79" r="1.30" fill="#a3000f"/>
<circle cx="404.72" cy="292.74" r="1.30" fill="#a3000f"/>
<circle cx="410.42" cy="296.71" r="1.30" fill="#a3000f"/>
<circle cx="429.59" cy="265.74" r="1.30" fill="#a3000f"/>
<circle cx="400.77" cy="301.96" r="1.30" fill="#a3000f"/>
<circle cx="377.94" cy="289.12" r="1.30" fill="#a3000f"/>
<circle cx="369.83" cy="295.50" r="1.30" fill="#a3000f"/>
<circle cx="424.16" cy="271.50" r="1.30" fill="#a3000f"/>
<circle cx="418.07" cy="255.15" r="1.30" fill="#a3000f"/>
<circle cx="395.93" cy="237.89" r="1.30" fill="#a3000f"/>
<circle cx="400.41" cy="234.56" r="1.30" fill="#a3000f"/>
<circle cx="395.28" cy="235.92" r="1.30" fill="#a3000f"/>
<circle cx="370.83" cy="293.63" r="1.30" fill="#a3000f"/>
<circle cx="388.66" cy="301.51" r="1.30" fill="#a3000f"/>
<circle cx="411.33" cy="248.33" r="1.30" fill="#c8101c"/>
<circle cx="385.59" cy="227.82" r="1.30" fill="#a3000f"/>
<circle cx="414.46" cy="255.03" r="1.30" fill="#a3000f"/>
<circle cx="414.78" cy="235.37" r="1.30" fill="#a3000f"/>
<circle cx="359.43" cy="256.16" r="1.30" fill="#c8101c"/>
<circle cx="410.47" cy="291.37" r="1.30" fill="#a3000f"/>
<circle cx="395.82" cy="232.01" r="1.30" fill="#a3000f"/>
<circle cx="423.13" cy="290.15" r="1.30" fill="#a3000f"/>
<circle cx="409.50" cy="221.78" r="1.30" fill="#a3000f"/>
<circle cx="426.96" cy="245.97" r="1.30" fill="#a9a3a3"/>
<circle cx="406.91" cy="224.62" r="1.30" fill="#c8101c"/>
<circle cx="386.13" cy="231.29" r="1.30" fill="#c8101c"/>
<circle cx="403.87" cy="306.89" r="1.30" fill="#a3000f"/>
<circle cx="391.12" cy="259.90" r="1.30" fill="#a3000f"/>
<circle cx="404.09" cy="237.86" r="1.30" fill="#a9a3a3"/>
<circle cx="393.20" cy="308.86" r="1.30" fill="#a9a3a3"/>
<circle cx="423.58" cy="283.01" r="1.30" fill="#c8101c"/>
<circle cx="402.44" cy="296.74" r="1.30" fill="#a3000f"/>
<circle cx="408.39" cy="232.81" r="1.30" fill="#a3000f"/>
<circle cx="379.15" cy="239.87" r="1.30" fill="#a3000f"/>
<circle cx="390.44" cy="260.64" r="1.30" fill="#a3000f"/>
<circle cx="388.40" cy="294.34" r="1.30" fill="#a3000f"/>
<circle cx="418.73" cy="252.63" r="1.30" fill="#a3000f"/>
<circle cx="427.21" cy="270.80" r="1.30" fill="#a3000f"/>
<circle cx="401.90" cy="303.88" r="1.30" fill="#a3000f"/>
<circle cx="388.06" cy="225.46" r="1.30" fill="#a3000f"/>
<circle cx="395.80" cy="259.87" r="1.30" fill="#c8101c"/>
<circle cx="399.85" cy="238.06" r="1.30" fill="#c8101c"/>
<circle cx="422.49" cy="274.42" r="1.30" fill="#a3000f"/>
<circle cx="350.07" cy="255.30" r="1.30" fill="#a3000f"/>
<circle cx="424.41" cy="272.97" r="1.30" fill="#a3000f"/>
<circle cx="411.81" cy="298.98" r="1.30" fill="#a3000f"/>
<circle cx="351.78" cy="266.60" r="1.30" fill="#c8101c"/>
<circle cx="415.55" cy="254.57" r="1.30" fill="#a3000f"/>
<circle cx="395.83" cy="234.87" r="1.30" fill="#a3000f"/>
<circle cx="405.77" cy="238.44" r="1.30" fill="#a3000f"/>
<circle cx="355.08" cy="266.52" r="1.30" fill="#a3000f"/>
<circle cx="405.71" cy="290.97" r="1.30" fill="#a3000f"/>
<circle cx="400.93" cy="303.31" r="1.30" fill="#c8101c"/>
<circle cx="379.74" cy="259.23" r="1.30" fill="#a3000f"/>
<circle cx="397.33" cy="282.55" r="1.30" fill="#a3000f"/>
<circle cx="417.28" cy="237.04" r="1.30" fill="#c8101c"/>
<circle cx="392.98" cy="230.72" r="1.30" fill="#a3000f"/>
<circle cx="355.03" cy="272.10" r="1.30" fill="#a9a3a3"/>
<circle cx="357.02" cy="249.42" r="1.30" fill="#c8101c"/>
<circle cx="399.16" cy="308.48" r="1.30" fill="#c8101c"/>
<circle cx="396.60" cy="283.38" r="1.30" fill="#a3000f"/>
<circle cx="387.94" cy="279.17" r="1.30" fill="#a3000f"/>
<circle cx="381.54" cy="277.15" r="1.30" fill="#a3000f"/>
<circle cx="357.86" cy="248.16" r="1.30" fill="#c8101c"/>
<circle cx="422.96" cy="234.79" r="1.30" fill="#a3000f"/>
<circle cx="387.64" cy="278.20" r="1.30" fill="#a3000f"/>
<circle cx="401.63" cy="222.05" r="1.30" fill="#a3000f"/>
<circle cx="418.11" cy="230.43" r="1.30" fill="#a3000f"/>
<circle cx="416.03" cy="256.46" r="1.30" fill="#a3000f"/>
<circle cx="414.62" cy="254.77" r="1.30" fill="#a3000f"/>
<circle cx="420.89" cy="248.42" r="1.30" fill="#a3000f"/>
<circle cx="363.69" cy="266.41" r="1.30" fill="#a3000f"/>
<circle cx="366.38" cy="293.20" r="1.30" fill="#c8101c"/>
<circle cx="399.57" cy="258.10" r="1.30" fill="#a3000f"/>
<circle cx="416.00" cy="286.15" r="1.30" fill="#c8101c"/>
<circle cx="401.64" cy="284.19" r="1.30" fill="#c8101c"/>
<circle cx="419.57" cy="277.99" r="1.30" fill="#a3000f"/>
<circle cx="385.85" cy="275.62" r="1.30" fill="#a3000f"/>
<circle cx="409.23" cy="233.55" r="1.30" fill="#a3000f"/>
<circle cx="388.55" cy="304.16" r="1.30" fill="#a9a3a3"/>
<circle cx="410.71" cy="234.77" r="1.30" fill="#a3000f"/>
<circle cx="376.71" cy="238.09" r="1.30" fill="#a3000f"/>
<circle cx="411.56" cy="290.55" r="1.30" fill="#c8101c"/>
<circle cx="415.92" cy="256.27" r="1.30" fill="#a3000f"/>
<circle cx="416.61" cy="278.43" r="1.30" fill="#a3000f"/>
<circle cx="319.51" cy="200.91" r="1.15" fill="#6590cf"/>
<circle cx="320.63" cy="200.89" r="1.15" fill="#6590cf"/>
<circle cx="322.36" cy="199.86" r="1.15" fill="#6590cf"/>
<circle cx="323.60" cy="200.46" r="1.15" fill="#6590cf"/>
<circle cx="325.13" cy="200.10" r="1.15" fill="#8fb0dd"/>
<circle cx="326.39" cy="200.88" r="1.15" fill="#6590cf"/>
<circle cx="328.25" cy="200.96" r="1.15" fill="#6590cf"/>
<circle cx="328.89" cy="201.60" r="1.15" fill="#6590cf"/>
<circle cx="329.35" cy="202.66" r="1.15" fill="#8fb0dd"/>
<circle cx="319.09" cy="203.37" r="1.15" fill="#6590cf"/>
<circle cx="320.51" cy="203.28" r="1.15" fill="#6590cf"/>
<circle cx="321.26" cy="203.30" r="1.15" fill="#6590cf"/>
<circle cx="322.68" cy="202.46" r="1.15" fill="#6590cf"/>
<circle cx="324.78" cy="202.55" r="1.15" fill="#6590cf"/>
<circle cx="326.39" cy="203.23" r="1.15" fill="#6590cf"/>
<circle cx="327.57" cy="203.64" r="1.15" fill="#6590cf"/>
<circle cx="328.12" cy="204.32" r="1.15" fill="#6590cf"/>
<circle cx="328.87" cy="205.88" r="1.15" fill="#6590cf"/>
<circle cx="320.16" cy="205.82" r="1.15" fill="#6590cf"/>
<circle cx="321.11" cy="205.93" r="1.15" fill="#6590cf"/>
<circle cx="322.86" cy="205.36" r="1.15" fill="#6590cf"/>
<circle cx="323.83" cy="205.66" r="1.15" fill="#6590cf"/>
<circle cx="325.60" cy="206.16" r="1.15" fill="#6590cf"/>
<circle cx="327.03" cy="206.10" r="1.15" fill="#6590cf"/>
<circle cx="328.54" cy="206.79" r="1.15" fill="#8fb0dd"/>
<circle cx="321.37" cy="207.66" r="1.15" fill="#6590cf"/>
<circle cx="322.40" cy="208.58" r="1.15" fill="#8fb0dd"/>
<circle cx="323.56" cy="209.24" r="1.15" fill="#6590cf"/>
<circle cx="324.48" cy="210.75" r="1.15" fill="#8fb0dd"/>
<circle cx="324.64" cy="212.04" r="1.15" fill="#8fb0dd"/>
<circle cx="325.96" cy="213.57" r="1.15" fill="#6590cf"/>
<circle cx="326.78" cy="214.25" r="1.15" fill="#6590cf"/>
<circle cx="326.90" cy="215.30" r="1.15" fill="#8fb0dd"/>
<circle cx="327.45" cy="216.38" r="1.15" fill="#6590cf"/>
<circle cx="323.70" cy="208.02" r="1.15" fill="#8fb0dd"/>
<circle cx="324.45" cy="208.43" r="1.15" fill="#6590cf"/>
<circle cx="325.19" cy="209.57" r="1.15" fill="#6590cf"/>
<circle cx="326.54" cy="210.11" r="1.15" fill="#6590cf"/>
<circle cx="327.48" cy="211.00" r="1.15" fill="#8fb0dd"/>
<circle cx="328.10" cy="212.34" r="1.15" fill="#6590cf"/>
<circle cx="328.31" cy="213.69" r="1.15" fill="#6590cf"/>
<circle cx="329.02" cy="214.79" r="1.15" fill="#6590cf"/>
<circle cx="329.13" cy="216.27" r="1.15" fill="#6590cf"/>
<circle cx="324.84" cy="217.57" r="1.15" fill="#6590cf"/>
<circle cx="325.20" cy="218.11" r="1.15" fill="#8fb0dd"/>
<circle cx="326.07" cy="219.16" r="1.15" fill="#6590cf"/>
<circle cx="326.56" cy="220.27" r="1.15" fill="#6590cf"/>
<circle cx="326.78" cy="221.62" r="1.15" fill="#6590cf"/>
<circle cx="322.50" cy="208.80" r="1.20" fill="#b5000e"/>
<circle cx="323.50" cy="210.00" r="1.20" fill="#b5000e"/>
<circle cx="329.00" cy="217.00" r="1.20" fill="#b5000e"/>
<circle cx="330.00" cy="218.50" r="1.20" fill="#b5000e"/>
<circle cx="331.00" cy="220.00" r="1.20" fill="#b5000e"/>
<circle cx="329.50" cy="221.50" r="1.20" fill="#b5000e"/>
<circle cx="331.50" cy="222.50" r="1.20" fill="#b5000e"/>
<circle cx="330.50" cy="224.00" r="1.20" fill="#b5000e"/>
<circle cx="332.00" cy="219.50" r="1.20" fill="#b5000e"/>
<circle cx="71.78" cy="614.79" r="1.05" fill="#e8969b"/>
<circle cx="80.10" cy="640.52" r="1.05" fill="#d0172c"/>
<circle cx="85.31" cy="641.44" r="1.05" fill="#a0000f"/>
<circle cx="143.57" cy="651.31" r="1.05" fill="#a0000f"/>
<circle cx="151.09" cy="647.08" r="1.05" fill="#a0000f"/>
<circle cx="52.29" cy="616.01" r="1.05" fill="#d0172c"/>
<circle cx="138.60" cy="642.50" r="1.05" fill="#a0000f"/>
<circle cx="70.28" cy="618.88" r="1.05" fill="#d0172c"/>
<circle cx="86.11" cy="629.09" r="1.05" fill="#a0000f"/>
<circle cx="164.33" cy="650.65" r="1.05" fill="#d0172c"/>
<circle cx="93.21" cy="639.32" r="1.05" fill="#d0172c"/>
<circle cx="84.53" cy="645.38" r="1.05" fill="#e8969b"/>
<circle cx="60.35" cy="612.94" r="1.05" fill="#a0000f"/>
<circle cx="68.57" cy="631.55" r="1.05" fill="#a0000f"/>
<circle cx="59.59" cy="627.95" r="1.05" fill="#d0172c"/>
<circle cx="162.91" cy="639.76" r="1.05" fill="#e8969b"/>
<circle cx="73.03" cy="626.84" r="1.05" fill="#d0172c"/>
<circle cx="147.35" cy="644.70" r="1.05" fill="#d0172c"/>
<circle cx="74.97" cy="642.83" r="1.05" fill="#a0000f"/>
<circle cx="167.23" cy="650.30" r="1.05" fill="#d0172c"/>
<circle cx="52.22" cy="622.05" r="1.05" fill="#a0000f"/>
<circle cx="65.64" cy="620.52" r="1.05" fill="#a0000f"/>
<circle cx="156.88" cy="647.76" r="1.05" fill="#a0000f"/>
<circle cx="64.84" cy="612.45" r="1.05" fill="#a0000f"/>
<circle cx="118.21" cy="607.21" r="1.05" fill="#a0000f"/>
<circle cx="63.16" cy="630.88" r="1.05" fill="#a0000f"/>
<circle cx="72.91" cy="626.59" r="1.05" fill="#a0000f"/>
<circle cx="87.61" cy="634.93" r="1.05" fill="#d0172c"/>
<circle cx="80.40" cy="639.74" r="1.05" fill="#a0000f"/>
<circle cx="71.86" cy="614.92" r="1.05" fill="#a0000f"/>
<circle cx="57.51" cy="626.04" r="1.05" fill="#a0000f"/>
<circle cx="59.36" cy="628.06" r="1.05" fill="#a0000f"/>
<circle cx="72.95" cy="632.92" r="1.05" fill="#a0000f"/>
<circle cx="85.09" cy="635.84" r="1.05" fill="#a0000f"/>
<circle cx="58.70" cy="636.68" r="1.05" fill="#e8969b"/>
<circle cx="79.29" cy="643.22" r="1.05" fill="#d0172c"/>
<circle cx="143.59" cy="646.82" r="1.05" fill="#a0000f"/>
<circle cx="91.08" cy="641.54" r="1.05" fill="#a0000f"/>
<circle cx="147.34" cy="648.70" r="1.05" fill="#a0000f"/>
<circle cx="78.25" cy="623.89" r="1.05" fill="#a0000f"/>
<circle cx="106.57" cy="604.82" r="1.05" fill="#a0000f"/>
<circle cx="164.38" cy="644.72" r="1.05" fill="#e8969b"/>
<circle cx="79.64" cy="638.38" r="1.05" fill="#a0000f"/>
<circle cx="76.53" cy="613.80" r="1.05" fill="#a0000f"/>
<circle cx="83.64" cy="645.82" r="1.05" fill="#a0000f"/>
<circle cx="167.92" cy="647.35" r="1.05" fill="#e8969b"/>
<circle cx="148.92" cy="652.90" r="1.05" fill="#a0000f"/>
<circle cx="60.91" cy="620.56" r="1.05" fill="#a0000f"/>
<circle cx="67.04" cy="615.82" r="1.05" fill="#a0000f"/>
<circle cx="61.07" cy="635.44" r="1.05" fill="#d0172c"/>
<circle cx="64.70" cy="624.01" r="1.05" fill="#d0172c"/>
<circle cx="155.30" cy="648.30" r="1.05" fill="#a0000f"/>
<circle cx="105.65" cy="604.76" r="1.05" fill="#d0172c"/>
<circle cx="74.72" cy="629.26" r="1.05" fill="#a0000f"/>
<circle cx="76.98" cy="629.85" r="1.05" fill="#d0172c"/>
<circle cx="165.46" cy="636.31" r="1.05" fill="#e8969b"/>
<circle cx="64.67" cy="631.19" r="1.05" fill="#a0000f"/>
<circle cx="142.50" cy="645.77" r="1.05" fill="#d0172c"/>
<circle cx="89.12" cy="636.00" r="1.05" fill="#a0000f"/>
<circle cx="83.41" cy="628.17" r="1.05" fill="#d0172c"/>
<circle cx="164.58" cy="635.28" r="1.05" fill="#d0172c"/>
<circle cx="141.80" cy="644.54" r="1.05" fill="#a0000f"/>
<circle cx="69.57" cy="620.02" r="1.05" fill="#d0172c"/>
<circle cx="166.75" cy="639.15" r="1.05" fill="#d0172c"/>
<circle cx="64.30" cy="620.41" r="1.05" fill="#d0172c"/>
<circle cx="159.84" cy="644.04" r="1.05" fill="#d0172c"/>
<circle cx="67.70" cy="627.60" r="1.05" fill="#a0000f"/>
<circle cx="73.72" cy="634.12" r="1.05" fill="#a0000f"/>
<circle cx="70.51" cy="637.66" r="1.05" fill="#a0000f"/>
<circle cx="56.37" cy="625.99" r="1.05" fill="#d0172c"/>
<circle cx="88.12" cy="633.07" r="1.05" fill="#a0000f"/>
<circle cx="57.50" cy="617.41" r="1.05" fill="#a0000f"/>
<circle cx="166.41" cy="648.32" r="1.05" fill="#e8969b"/>
<circle cx="62.93" cy="622.04" r="1.05" fill="#d0172c"/>
<circle cx="83.86" cy="636.16" r="1.05" fill="#d0172c"/>
<circle cx="65.40" cy="631.78" r="1.05" fill="#d0172c"/>
<circle cx="165.36" cy="649.45" r="1.05" fill="#d0172c"/>
<circle cx="74.19" cy="629.58" r="1.05" fill="#a0000f"/>
<circle cx="81.56" cy="634.04" r="1.05" fill="#d0172c"/>
<circle cx="65.14" cy="626.45" r="1.05" fill="#a0000f"/>
<circle cx="69.98" cy="636.96" r="1.05" fill="#a0000f"/>
<circle cx="153.77" cy="647.36" r="1.05" fill="#d0172c"/>
<circle cx="141.05" cy="647.94" r="1.05" fill="#a0000f"/>
<circle cx="143.74" cy="641.79" r="1.05" fill="#a0000f"/>
<circle cx="63.43" cy="617.70" r="1.05" fill="#a0000f"/>
<circle cx="59.35" cy="634.37" r="1.05" fill="#a0000f"/>
<circle cx="75.73" cy="635.91" r="1.05" fill="#a0000f"/>
<circle cx="62.11" cy="621.24" r="1.05" fill="#a0000f"/>
<circle cx="60.87" cy="630.96" r="1.05" fill="#a0000f"/>
<circle cx="67.30" cy="622.91" r="1.05" fill="#d0172c"/>
<circle cx="168.59" cy="645.21" r="1.05" fill="#d0172c"/>
<circle cx="149.97" cy="644.57" r="1.05" fill="#d0172c"/>
<circle cx="155.81" cy="649.64" r="1.05" fill="#d0172c"/>
<circle cx="163.91" cy="649.14" r="1.05" fill="#d0172c"/>
<circle cx="60.03" cy="613.23" r="1.05" fill="#a0000f"/>
<circle cx="61.30" cy="639.94" r="1.05" fill="#d0172c"/>
<circle cx="65.41" cy="626.02" r="1.05" fill="#d0172c"/>
<circle cx="145.03" cy="651.74" r="1.05" fill="#d0172c"/>
<circle cx="69.11" cy="640.06" r="1.05" fill="#a0000f"/>
<circle cx="153.46" cy="648.87" r="1.05" fill="#a0000f"/>
<circle cx="83.59" cy="637.90" r="1.05" fill="#a0000f"/>
<circle cx="90.06" cy="639.84" r="1.05" fill="#a0000f"/>
<circle cx="82.27" cy="639.35" r="1.05" fill="#a0000f"/>
<circle cx="147.51" cy="653.07" r="1.05" fill="#d0172c"/>
<circle cx="80.34" cy="638.72" r="1.05" fill="#d0172c"/>
<circle cx="73.53" cy="613.55" r="1.05" fill="#d0172c"/>
<circle cx="139.83" cy="646.11" r="1.05" fill="#a0000f"/>
<circle cx="163.81" cy="648.25" r="1.05" fill="#d0172c"/>
<circle cx="74.82" cy="632.52" r="1.05" fill="#d0172c"/>
<circle cx="141.20" cy="645.25" r="1.05" fill="#a0000f"/>
<circle cx="79.02" cy="624.74" r="1.05" fill="#d0172c"/>
<circle cx="119.56" cy="607.36" r="1.05" fill="#a0000f"/>
<circle cx="137.84" cy="646.11" r="1.05" fill="#e8969b"/>
<circle cx="58.12" cy="612.60" r="1.05" fill="#a0000f"/>
<circle cx="74.38" cy="641.78" r="1.05" fill="#d0172c"/>
<circle cx="149.47" cy="651.11" r="1.05" fill="#d0172c"/>
<circle cx="147.48" cy="645.32" r="1.05" fill="#e8969b"/>
<circle cx="91.30" cy="636.42" r="1.05" fill="#e8969b"/>
<circle cx="58.78" cy="636.44" r="1.05" fill="#d0172c"/>
<circle cx="53.55" cy="624.03" r="1.05" fill="#a0000f"/>
<circle cx="142.17" cy="649.61" r="1.05" fill="#a0000f"/>
<circle cx="61.03" cy="628.24" r="1.05" fill="#d0172c"/>
<circle cx="65.96" cy="632.39" r="1.05" fill="#d0172c"/>
<circle cx="146.38" cy="652.47" r="1.05" fill="#a0000f"/>
<circle cx="108.26" cy="603.94" r="1.05" fill="#d0172c"/>
<circle cx="69.66" cy="629.63" r="1.05" fill="#a0000f"/>
<circle cx="65.75" cy="613.45" r="1.05" fill="#a0000f"/>
<circle cx="61.63" cy="634.90" r="1.05" fill="#a0000f"/>
<circle cx="81.01" cy="635.33" r="1.05" fill="#e8969b"/>
<circle cx="81.61" cy="626.91" r="1.05" fill="#a0000f"/>
<circle cx="161.38" cy="647.51" r="1.05" fill="#a0000f"/>
<circle cx="58.78" cy="617.78" r="1.05" fill="#d0172c"/>
<circle cx="160.58" cy="634.95" r="1.05" fill="#a0000f"/>
<circle cx="148.99" cy="645.26" r="1.05" fill="#a0000f"/>
<circle cx="113.90" cy="604.46" r="1.05" fill="#d0172c"/>
<circle cx="85.00" cy="638.89" r="1.05" fill="#d0172c"/>
<circle cx="69.70" cy="626.79" r="1.05" fill="#d0172c"/>
<circle cx="54.84" cy="626.20" r="1.05" fill="#d0172c"/>
<circle cx="148.06" cy="641.80" r="1.05" fill="#a0000f"/>
<circle cx="136.96" cy="646.02" r="1.05" fill="#a0000f"/>
<circle cx="86.35" cy="630.97" r="1.05" fill="#d0172c"/>
<circle cx="164.31" cy="647.52" r="1.05" fill="#e8969b"/>
<circle cx="68.71" cy="627.19" r="1.05" fill="#a0000f"/>
<circle cx="60.15" cy="627.46" r="1.05" fill="#a0000f"/>
<circle cx="142.02" cy="646.94" r="1.05" fill="#d0172c"/>
<circle cx="86.18" cy="642.09" r="1.05" fill="#e8969b"/>
<circle cx="60.70" cy="618.61" r="1.05" fill="#a0000f"/>
<circle cx="72.28" cy="642.83" r="1.05" fill="#e8969b"/>
<circle cx="163.03" cy="642.46" r="1.05" fill="#a0000f"/>
<circle cx="87.12" cy="643.56" r="1.05" fill="#a0000f"/>
<circle cx="73.03" cy="641.79" r="1.05" fill="#d0172c"/>
<circle cx="130.33" cy="644.15" r="1.05" fill="#d0172c"/>
<circle cx="158.84" cy="650.03" r="1.05" fill="#a0000f"/>
<circle cx="91.73" cy="639.88" r="1.05" fill="#d0172c"/>
<circle cx="64.95" cy="617.23" r="1.05" fill="#d0172c"/>
<circle cx="57.73" cy="626.53" r="1.05" fill="#a0000f"/>
<circle cx="65.01" cy="617.87" r="1.05" fill="#a0000f"/>
<circle cx="91.88" cy="636.99" r="1.05" fill="#a0000f"/>
<circle cx="134.23" cy="647.06" r="1.05" fill="#e8969b"/>
<circle cx="115.27" cy="606.97" r="1.05" fill="#d0172c"/>
<circle cx="163.59" cy="633.58" r="1.05" fill="#d0172c"/>
<circle cx="67.78" cy="633.60" r="1.05" fill="#d0172c"/>
<circle cx="76.46" cy="636.67" r="1.05" fill="#d0172c"/>
<circle cx="75.95" cy="642.65" r="1.05" fill="#d0172c"/>
<circle cx="162.55" cy="639.06" r="1.05" fill="#d0172c"/>
<circle cx="68.83" cy="626.27" r="1.05" fill="#a0000f"/>
<circle cx="59.92" cy="618.48" r="1.05" fill="#d0172c"/>
<circle cx="68.35" cy="629.43" r="1.05" fill="#d0172c"/>
<circle cx="139.79" cy="646.26" r="1.05" fill="#a0000f"/>
<circle cx="87.32" cy="633.34" r="1.05" fill="#a0000f"/>
<circle cx="70.19" cy="622.38" r="1.05" fill="#e8969b"/>
<circle cx="166.02" cy="637.43" r="1.05" fill="#a0000f"/>
<circle cx="164.00" cy="642.89" r="1.05" fill="#d0172c"/>
<circle cx="73.08" cy="627.86" r="1.05" fill="#d0172c"/>
<circle cx="113.08" cy="605.19" r="1.05" fill="#e8969b"/>
<circle cx="70.45" cy="623.32" r="1.05" fill="#d0172c"/>
<circle cx="110.68" cy="605.31" r="1.05" fill="#d0172c"/>
<circle cx="59.89" cy="635.33" r="1.05" fill="#d0172c"/>
<circle cx="109.40" cy="605.15" r="1.05" fill="#d0172c"/>
<circle cx="70.95" cy="616.48" r="1.05" fill="#a0000f"/>
<circle cx="57.83" cy="613.16" r="1.05" fill="#e8969b"/>
<circle cx="63.99" cy="630.66" r="1.05" fill="#a0000f"/>
<circle cx="136.94" cy="644.34" r="1.05" fill="#d0172c"/>
<circle cx="76.78" cy="643.10" r="1.05" fill="#a0000f"/>
<circle cx="74.05" cy="613.87" r="1.05" fill="#a0000f"/>
<circle cx="62.74" cy="612.00" r="1.05" fill="#d0172c"/>
<circle cx="151.26" cy="651.84" r="1.05" fill="#d0172c"/>
<circle cx="167.14" cy="649.15" r="1.05" fill="#d0172c"/>
<circle cx="52.59" cy="623.11" r="1.05" fill="#a0000f"/>
<circle cx="155.13" cy="645.20" r="1.05" fill="#d0172c"/>
<circle cx="161.93" cy="647.00" r="1.05" fill="#a0000f"/>
<circle cx="87.22" cy="641.59" r="1.05" fill="#a0000f"/>
<circle cx="70.41" cy="636.98" r="1.05" fill="#a0000f"/>
<circle cx="74.08" cy="637.91" r="1.05" fill="#d0172c"/>
<circle cx="89.81" cy="638.94" r="1.05" fill="#a0000f"/>
<circle cx="131.46" cy="645.02" r="1.05" fill="#d0172c"/>
<circle cx="61.47" cy="621.07" r="1.05" fill="#a0000f"/>
<circle cx="64.38" cy="627.10" r="1.05" fill="#d0172c"/>
<circle cx="65.59" cy="619.76" r="1.05" fill="#d0172c"/>
<circle cx="73.29" cy="627.87" r="1.05" fill="#d0172c"/>
<circle cx="68.13" cy="616.64" r="1.05" fill="#e8969b"/>
<circle cx="147.70" cy="648.18" r="1.05" fill="#a0000f"/>
<circle cx="79.78" cy="646.42" r="1.05" fill="#e8969b"/>
<circle cx="161.81" cy="636.47" r="1.05" fill="#d0172c"/>
<circle cx="78.01" cy="636.86" r="1.05" fill="#a0000f"/>
<circle cx="70.03" cy="616.10" r="1.05" fill="#d0172c"/>
<circle cx="71.71" cy="614.71" r="1.05" fill="#d0172c"/>
<circle cx="116.44" cy="604.54" r="1.05" fill="#d0172c"/>
<circle cx="147.77" cy="641.12" r="1.05" fill="#e8969b"/>
<circle cx="57.57" cy="617.97" r="1.05" fill="#a0000f"/>
<circle cx="63.18" cy="621.16" r="1.05" fill="#a0000f"/>
<circle cx="160.75" cy="641.64" r="1.05" fill="#d0172c"/>
<circle cx="111.83" cy="604.85" r="1.05" fill="#d0172c"/>
<circle cx="70.73" cy="634.80" r="1.05" fill="#d0172c"/>
<circle cx="161.43" cy="650.92" r="1.05" fill="#d0172c"/>
<circle cx="84.27" cy="641.28" r="1.05" fill="#d0172c"/>
<circle cx="57.60" cy="626.78" r="1.05" fill="#d0172c"/>
<circle cx="144.81" cy="652.92" r="1.05" fill="#a0000f"/>
<circle cx="152.99" cy="648.88" r="1.05" fill="#d0172c"/>
<circle cx="113.55" cy="605.67" r="1.05" fill="#a0000f"/>
<circle cx="79.95" cy="632.41" r="1.05" fill="#a0000f"/>
<circle cx="66.84" cy="635.09" r="1.05" fill="#a0000f"/>
<circle cx="64.80" cy="635.78" r="1.05" fill="#d0172c"/>
<circle cx="145.82" cy="644.31" r="1.05" fill="#a0000f"/>
<circle cx="147.77" cy="652.85" r="1.05" fill="#a0000f"/>
<circle cx="57.05" cy="624.98" r="1.05" fill="#a0000f"/>
<circle cx="86.91" cy="632.86" r="1.05" fill="#d0172c"/>
<circle cx="79.38" cy="634.86" r="1.05" fill="#d0172c"/>
<circle cx="61.72" cy="626.54" r="1.05" fill="#a0000f"/>
<circle cx="53.18" cy="624.14" r="1.05" fill="#d0172c"/>
<circle cx="74.88" cy="645.17" r="1.05" fill="#a0000f"/>
<circle cx="85.49" cy="634.90" r="1.05" fill="#a0000f"/>
<circle cx="53.29" cy="620.35" r="1.05" fill="#a0000f"/>
<circle cx="133.68" cy="642.87" r="1.05" fill="#d0172c"/>
<circle cx="86.93" cy="633.42" r="1.05" fill="#d0172c"/>
<circle cx="57.64" cy="625.80" r="1.05" fill="#a0000f"/>
<circle cx="59.35" cy="628.26" r="1.05" fill="#d0172c"/>
<circle cx="57.48" cy="613.94" r="1.05" fill="#e8969b"/>
<circle cx="68.42" cy="617.23" r="1.05" fill="#a0000f"/>
<circle cx="77.50" cy="639.95" r="1.05" fill="#a0000f"/>
<circle cx="168.09" cy="639.60" r="1.05" fill="#a0000f"/>
<circle cx="161.53" cy="641.77" r="1.05" fill="#a0000f"/>
<circle cx="69.09" cy="629.31" r="1.05" fill="#a0000f"/>
<circle cx="86.73" cy="634.56" r="1.05" fill="#a0000f"/>
<circle cx="81.25" cy="633.43" r="1.05" fill="#a0000f"/>
<circle cx="151.99" cy="648.44" r="1.05" fill="#a0000f"/>
<circle cx="59.43" cy="630.38" r="1.05" fill="#a0000f"/>
<circle cx="73.60" cy="614.31" r="1.05" fill="#e8969b"/>
<circle cx="161.58" cy="637.77" r="1.05" fill="#a0000f"/>
<circle cx="67.34" cy="626.70" r="1.05" fill="#a0000f"/>
<circle cx="65.98" cy="633.37" r="1.05" fill="#a0000f"/>
<circle cx="159.67" cy="632.54" r="1.05" fill="#d0172c"/>
<circle cx="103.79" cy="604.10" r="1.05" fill="#a0000f"/>
<circle cx="164.23" cy="640.97" r="1.05" fill="#a0000f"/>
<circle cx="66.15" cy="615.75" r="1.05" fill="#d0172c"/>
<circle cx="139.67" cy="648.62" r="1.05" fill="#d0172c"/>
<circle cx="81.79" cy="645.65" r="1.05" fill="#d0172c"/>
<circle cx="77.58" cy="646.06" r="1.05" fill="#a0000f"/>
<circle cx="63.08" cy="636.85" r="1.05" fill="#d0172c"/>
<circle cx="75.24" cy="631.20" r="1.05" fill="#a0000f"/>
<circle cx="71.29" cy="640.08" r="1.05" fill="#d0172c"/>
<circle cx="98.12" cy="605.59" r="1.05" fill="#a0000f"/>
<circle cx="65.88" cy="625.67" r="1.05" fill="#d0172c"/>
<circle cx="168.46" cy="645.74" r="1.05" fill="#d0172c"/>
<circle cx="74.99" cy="629.68" r="1.05" fill="#a0000f"/>
<circle cx="137.35" cy="643.74" r="1.05" fill="#a0000f"/>
<circle cx="82.12" cy="636.57" r="1.05" fill="#a0000f"/>
<circle cx="68.65" cy="624.55" r="1.05" fill="#e8969b"/>
<circle cx="143.18" cy="644.86" r="1.05" fill="#a0000f"/>
<circle cx="149.80" cy="648.35" r="1.05" fill="#d0172c"/>
<circle cx="67.15" cy="623.01" r="1.05" fill="#d0172c"/>
<circle cx="77.23" cy="630.37" r="1.05" fill="#a0000f"/>
<circle cx="74.74" cy="628.52" r="1.05" fill="#d0172c"/>
<circle cx="88.92" cy="634.54" r="1.05" fill="#a0000f"/>
<circle cx="82.85" cy="626.35" r="1.05" fill="#a0000f"/>
<circle cx="74.64" cy="634.45" r="1.05" fill="#d0172c"/>
<circle cx="142.97" cy="644.39" r="1.05" fill="#e8969b"/>
<circle cx="144.17" cy="653.19" r="1.05" fill="#a0000f"/>
<circle cx="84.82" cy="639.05" r="1.05" fill="#d0172c"/>
<circle cx="164.96" cy="644.46" r="1.05" fill="#d0172c"/>
<circle cx="75.92" cy="645.16" r="1.05" fill="#a0000f"/>
<circle cx="55.65" cy="614.39" r="1.05" fill="#d0172c"/>
<circle cx="161.46" cy="644.50" r="1.05" fill="#e8969b"/>
<circle cx="84.44" cy="636.36" r="1.05" fill="#a0000f"/>
<circle cx="65.72" cy="635.46" r="1.05" fill="#d0172c"/>
<circle cx="146.06" cy="640.64" r="1.05" fill="#d0172c"/>
<circle cx="71.57" cy="637.83" r="1.05" fill="#d0172c"/>
<circle cx="83.71" cy="644.89" r="1.05" fill="#d0172c"/>
<circle cx="82.08" cy="625.65" r="1.05" fill="#a0000f"/>
<circle cx="79.19" cy="638.51" r="1.05" fill="#d0172c"/>
<circle cx="116.40" cy="608.10" r="1.05" fill="#a0000f"/>
<circle cx="136.30" cy="644.75" r="1.05" fill="#e8969b"/>
<circle cx="79.25" cy="632.01" r="1.05" fill="#d0172c"/>
<circle cx="102.16" cy="605.04" r="1.05" fill="#d0172c"/>
<circle cx="83.81" cy="629.92" r="1.05" fill="#a0000f"/>
<circle cx="71.78" cy="629.81" r="1.05" fill="#a0000f"/>
<circle cx="70.10" cy="639.73" r="1.05" fill="#a0000f"/>
<circle cx="63.81" cy="634.79" r="1.05" fill="#a0000f"/>
<circle cx="76.45" cy="629.62" r="1.05" fill="#a0000f"/>
<circle cx="64.11" cy="614.05" r="1.05" fill="#a0000f"/>
<circle cx="65.81" cy="626.71" r="1.05" fill="#a0000f"/>
<circle cx="66.75" cy="633.26" r="1.05" fill="#d0172c"/>
<circle cx="56.45" cy="615.64" r="1.05" fill="#d0172c"/>
<circle cx="61.53" cy="621.40" r="1.05" fill="#d0172c"/>
<circle cx="61.26" cy="612.00" r="1.05" fill="#d0172c"/>
<circle cx="78.14" cy="646.36" r="1.05" fill="#e8969b"/>
<circle cx="144.52" cy="643.16" r="1.05" fill="#a0000f"/>
<circle cx="68.63" cy="616.43" r="1.05" fill="#d0172c"/>
<circle cx="134.08" cy="646.55" r="1.05" fill="#a0000f"/>
<circle cx="132.63" cy="642.22" r="1.05" fill="#d0172c"/>
<circle cx="68.90" cy="622.37" r="1.05" fill="#d0172c"/>
<circle cx="166.25" cy="637.26" r="1.05" fill="#a0000f"/>
<circle cx="114.11" cy="607.43" r="1.05" fill="#d0172c"/>
<circle cx="79.45" cy="626.07" r="1.05" fill="#d0172c"/>
<circle cx="75.93" cy="624.07" r="1.05" fill="#e8969b"/>
<circle cx="90.57" cy="641.92" r="1.05" fill="#d0172c"/>
<circle cx="168.75" cy="640.85" r="1.05" fill="#a0000f"/>
<circle cx="167.36" cy="647.68" r="1.05" fill="#d0172c"/>
<circle cx="96.33" cy="604.97" r="1.05" fill="#a0000f"/>
<circle cx="86.19" cy="644.06" r="1.05" fill="#a0000f"/>
<circle cx="86.64" cy="633.22" r="1.05" fill="#d0172c"/>
<circle cx="68.17" cy="625.23" r="1.05" fill="#d0172c"/>
<circle cx="62.42" cy="625.39" r="1.05" fill="#e8969b"/>
<circle cx="99.98" cy="605.88" r="1.05" fill="#e8969b"/>
<circle cx="80.48" cy="641.64" r="1.05" fill="#d0172c"/>
<circle cx="53.26" cy="618.68" r="1.05" fill="#d0172c"/>
<circle cx="67.55" cy="616.64" r="1.05" fill="#d0172c"/>
<circle cx="56.16" cy="624.17" r="1.05" fill="#a0000f"/>
<circle cx="73.81" cy="628.38" r="1.05" fill="#d0172c"/>
<circle cx="159.50" cy="641.36" r="1.05" fill="#d0172c"/>
<circle cx="116.13" cy="605.46" r="1.05" fill="#a0000f"/>
<circle cx="154.66" cy="641.73" r="1.05" fill="#a0000f"/>
<circle cx="82.37" cy="629.19" r="1.05" fill="#d0172c"/>
<circle cx="62.24" cy="611.32" r="1.05" fill="#a0000f"/>
<circle cx="159.82" cy="650.21" r="1.05" fill="#a0000f"/>
<circle cx="162.69" cy="651.15" r="1.05" fill="#a0000f"/>
<circle cx="145.77" cy="648.09" r="1.05" fill="#a0000f"/>
<circle cx="154.39" cy="650.95" r="1.05" fill="#a0000f"/>
<circle cx="66.21" cy="618.23" r="1.05" fill="#d0172c"/>
<circle cx="68.18" cy="625.81" r="1.05" fill="#d0172c"/>
<circle cx="56.98" cy="626.47" r="1.05" fill="#a0000f"/>
<circle cx="76.34" cy="624.04" r="1.05" fill="#a0000f"/>
<circle cx="64.22" cy="635.83" r="1.05" fill="#a0000f"/>
<circle cx="80.16" cy="645.82" r="1.05" fill="#d0172c"/>
<circle cx="82.96" cy="627.54" r="1.05" fill="#a0000f"/>
<circle cx="83.59" cy="629.49" r="1.05" fill="#d0172c"/>
<circle cx="136.69" cy="647.70" r="1.05" fill="#d0172c"/>
<circle cx="58.27" cy="620.79" r="1.05" fill="#d0172c"/>
<circle cx="76.77" cy="638.53" r="1.05" fill="#d0172c"/>
<circle cx="137.92" cy="646.45" r="1.05" fill="#d0172c"/>
<circle cx="113.40" cy="604.75" r="1.05" fill="#d0172c"/>
<circle cx="115.88" cy="606.69" r="1.05" fill="#d0172c"/>
<circle cx="59.95" cy="639.35" r="1.05" fill="#a0000f"/>
<circle cx="169.49" cy="644.16" r="1.05" fill="#e8969b"/>
<circle cx="61.50" cy="620.63" r="1.05" fill="#a0000f"/>
<circle cx="113.12" cy="606.62" r="1.05" fill="#a0000f"/>
<circle cx="72.19" cy="637.57" r="1.05" fill="#a0000f"/>
<circle cx="79.21" cy="623.16" r="1.05" fill="#d0172c"/>
<circle cx="72.81" cy="634.29" r="1.05" fill="#d0172c"/>
<circle cx="63.71" cy="622.85" r="1.05" fill="#d0172c"/>
<circle cx="160.85" cy="651.08" r="1.05" fill="#d0172c"/>
<circle cx="161.37" cy="644.99" r="1.05" fill="#e8969b"/>
<circle cx="135.41" cy="647.15" r="1.05" fill="#d0172c"/>
<circle cx="133.54" cy="642.53" r="1.05" fill="#d0172c"/>
<circle cx="80.95" cy="625.10" r="1.05" fill="#a0000f"/>
<circle cx="156.16" cy="647.56" r="1.05" fill="#a0000f"/>
<circle cx="159.35" cy="648.03" r="1.05" fill="#d0172c"/>
<circle cx="159.01" cy="646.98" r="1.05" fill="#a0000f"/>
<circle cx="60.72" cy="620.57" r="1.05" fill="#a0000f"/>
<circle cx="59.97" cy="630.96" r="1.05" fill="#d0172c"/>
<circle cx="143.56" cy="651.79" r="1.05" fill="#a0000f"/>
<circle cx="144.59" cy="653.03" r="1.05" fill="#d0172c"/>
<circle cx="157.21" cy="643.43" r="1.05" fill="#a0000f"/>
<circle cx="158.24" cy="643.79" r="1.05" fill="#e8969b"/>
<circle cx="86.65" cy="632.86" r="1.05" fill="#a0000f"/>
<circle cx="83.40" cy="638.98" r="1.05" fill="#d0172c"/>
<circle cx="59.59" cy="637.79" r="1.05" fill="#d0172c"/>
<circle cx="144.39" cy="647.54" r="1.05" fill="#e8969b"/>
<circle cx="161.27" cy="632.27" r="1.05" fill="#a0000f"/>
<circle cx="85.34" cy="645.52" r="1.05" fill="#a0000f"/>
<circle cx="79.10" cy="631.75" r="1.05" fill="#a0000f"/>
<circle cx="162.47" cy="649.73" r="1.05" fill="#d0172c"/>
<circle cx="162.19" cy="632.71" r="1.05" fill="#a0000f"/>
<circle cx="67.63" cy="632.21" r="1.05" fill="#d0172c"/>
<circle cx="54.91" cy="613.56" r="1.05" fill="#a0000f"/>
<circle cx="149.77" cy="646.05" r="1.05" fill="#a0000f"/>
<circle cx="156.50" cy="643.85" r="1.05" fill="#a0000f"/>
<circle cx="71.44" cy="632.03" r="1.05" fill="#d0172c"/>
<circle cx="74.76" cy="613.14" r="1.05" fill="#a0000f"/>
<circle cx="164.32" cy="649.96" r="1.05" fill="#a0000f"/>
<circle cx="110.60" cy="604.16" r="1.05" fill="#d0172c"/>
<circle cx="132.04" cy="646.04" r="1.05" fill="#a0000f"/>
<circle cx="164.51" cy="648.71" r="1.05" fill="#a0000f"/>
<circle cx="62.56" cy="634.12" r="1.05" fill="#a0000f"/>
<circle cx="77.45" cy="625.41" r="1.05" fill="#d0172c"/>
<circle cx="115.49" cy="604.56" r="1.05" fill="#a0000f"/>
<circle cx="66.04" cy="619.11" r="1.05" fill="#d0172c"/>
<circle cx="111.67" cy="603.63" r="1.05" fill="#d0172c"/>
<circle cx="53.24" cy="618.93" r="1.05" fill="#d0172c"/>
<circle cx="78.42" cy="631.06" r="1.05" fill="#d0172c"/>
<circle cx="100.83" cy="605.55" r="1.05" fill="#d0172c"/>
<circle cx="88.47" cy="640.66" r="1.05" fill="#a0000f"/>
<circle cx="71.47" cy="634.27" r="1.05" fill="#d0172c"/>
<circle cx="80.54" cy="624.30" r="1.05" fill="#a0000f"/>
<circle cx="160.15" cy="647.86" r="1.05" fill="#d0172c"/>
<circle cx="61.11" cy="635.11" r="1.05" fill="#d0172c"/>
<circle cx="85.12" cy="630.79" r="1.05" fill="#e8969b"/>
<circle cx="162.99" cy="645.24" r="1.05" fill="#d0172c"/>
<circle cx="69.99" cy="620.82" r="1.05" fill="#d0172c"/>
<circle cx="150.67" cy="649.35" r="1.05" fill="#a0000f"/>
<circle cx="80.78" cy="629.37" r="1.05" fill="#d0172c"/>
<circle cx="90.17" cy="635.34" r="1.05" fill="#d0172c"/>
<circle cx="159.49" cy="652.01" r="1.05" fill="#d0172c"/>
<circle cx="53.63" cy="625.46" r="1.05" fill="#a0000f"/>
<circle cx="74.14" cy="641.59" r="1.05" fill="#a0000f"/>
<circle cx="71.79" cy="632.03" r="1.05" fill="#e8969b"/>
<circle cx="69.07" cy="633.51" r="1.05" fill="#a0000f"/>
<circle cx="59.40" cy="629.85" r="1.05" fill="#d0172c"/>
<circle cx="163.24" cy="646.91" r="1.05" fill="#a0000f"/>
<circle cx="82.87" cy="638.25" r="1.05" fill="#d0172c"/>
<circle cx="68.15" cy="630.30" r="1.05" fill="#e8969b"/>
<circle cx="61.93" cy="618.01" r="1.05" fill="#d0172c"/>
<circle cx="161.91" cy="638.14" r="1.05" fill="#a0000f"/>
<circle cx="67.69" cy="638.79" r="1.05" fill="#a0000f"/>
<circle cx="62.12" cy="640.04" r="1.05" fill="#a0000f"/>
<circle cx="117.42" cy="607.77" r="1.05" fill="#e8969b"/>
<circle cx="66.48" cy="615.15" r="1.05" fill="#a0000f"/>
<circle cx="155.78" cy="645.20" r="1.05" fill="#a0000f"/>
<circle cx="66.25" cy="625.03" r="1.05" fill="#d0172c"/>
<circle cx="145.22" cy="644.40" r="1.05" fill="#a0000f"/>
<circle cx="71.16" cy="614.14" r="1.05" fill="#d0172c"/>
<circle cx="141.48" cy="649.10" r="1.05" fill="#d0172c"/>
<circle cx="139.97" cy="645.44" r="1.05" fill="#d0172c"/>
<circle cx="161.27" cy="636.91" r="1.05" fill="#d0172c"/>
<circle cx="103.27" cy="604.93" r="1.05" fill="#a0000f"/>
<circle cx="68.09" cy="628.01" r="1.05" fill="#a0000f"/>
<circle cx="61.77" cy="631.07" r="1.05" fill="#a0000f"/>
<circle cx="88.57" cy="642.56" r="1.05" fill="#a0000f"/>
<circle cx="150.98" cy="651.81" r="1.05" fill="#a0000f"/>
<circle cx="153.93" cy="646.20" r="1.05" fill="#a0000f"/>
<circle cx="150.47" cy="646.70" r="1.05" fill="#e8969b"/>
<circle cx="65.62" cy="635.88" r="1.05" fill="#d0172c"/>
<circle cx="117.06" cy="605.73" r="1.05" fill="#d0172c"/>
<circle cx="143.39" cy="645.27" r="1.05" fill="#a0000f"/>
<circle cx="70.80" cy="633.68" r="1.05" fill="#d0172c"/>
<circle cx="88.33" cy="639.60" r="1.05" fill="#a0000f"/>
<circle cx="77.53" cy="642.78" r="1.05" fill="#a0000f"/>
<circle cx="71.01" cy="626.72" r="1.05" fill="#d0172c"/>
<circle cx="157.13" cy="650.43" r="1.05" fill="#a0000f"/>
<circle cx="59.15" cy="629.21" r="1.05" fill="#a0000f"/>
<circle cx="153.15" cy="646.88" r="1.05" fill="#a0000f"/>
<circle cx="59.85" cy="632.22" r="1.05" fill="#a0000f"/>
<circle cx="131.46" cy="642.41" r="1.05" fill="#a0000f"/>
<circle cx="166.44" cy="649.02" r="1.05" fill="#a0000f"/>
<circle cx="72.14" cy="641.31" r="1.05" fill="#a0000f"/>
<circle cx="63.44" cy="612.56" r="1.05" fill="#a0000f"/>
<circle cx="90.01" cy="634.04" r="1.05" fill="#a0000f"/>
<circle cx="169.22" cy="642.15" r="1.05" fill="#d0172c"/>
<circle cx="120.02" cy="608.75" r="1.05" fill="#d0172c"/>
<circle cx="134.85" cy="644.45" r="1.05" fill="#d0172c"/>
<circle cx="91.96" cy="637.47" r="1.05" fill="#d0172c"/>
<circle cx="146.31" cy="652.45" r="1.05" fill="#d0172c"/>
<circle cx="145.21" cy="641.56" r="1.05" fill="#d0172c"/>
<circle cx="146.51" cy="653.45" r="1.05" fill="#d0172c"/>
<circle cx="62.83" cy="627.94" r="1.05" fill="#d0172c"/>
<circle cx="152.51" cy="650.35" r="1.05" fill="#d0172c"/>
<circle cx="160.97" cy="635.71" r="1.05" fill="#a0000f"/>
<circle cx="69.79" cy="621.60" r="1.05" fill="#d0172c"/>
<circle cx="114.32" cy="605.61" r="1.05" fill="#d0172c"/>
<circle cx="145.80" cy="644.53" r="1.05" fill="#a0000f"/>
<circle cx="63.95" cy="625.53" r="1.05" fill="#d0172c"/>
<circle cx="151.00" cy="637.50" r="0.85" fill="#5d7fc0"/>
<circle cx="151.75" cy="636.25" r="0.85" fill="#5d7fc0"/>
<circle cx="152.50" cy="635.00" r="0.85" fill="#5d7fc0"/>
<circle cx="153.25" cy="634.00" r="0.85" fill="#5d7fc0"/>
<circle cx="154.00" cy="633.00" r="0.85" fill="#5d7fc0"/>
<circle cx="154.50" cy="633.00" r="0.85" fill="#5d7fc0"/>
<circle cx="155.50" cy="633.25" r="0.85" fill="#5d7fc0"/>
<circle cx="156.50" cy="633.50" r="0.85" fill="#5d7fc0"/>
<circle cx="156.80" cy="634.00" r="0.85" fill="#5d7fc0"/>
<circle cx="157.15" cy="635.00" r="0.85" fill="#5d7fc0"/>
<circle cx="157.50" cy="636.00" r="0.85" fill="#5d7fc0"/>
<circle cx="157.75" cy="637.00" r="0.85" fill="#5d7fc0"/>
<circle cx="158.00" cy="638.00" r="0.85" fill="#5d7fc0"/>
<circle cx="121.24" cy="561.64" r="1.00" fill="#5370ad"/>
<circle cx="122.95" cy="561.52" r="1.00" fill="#5370ad"/>
<circle cx="123.55" cy="561.76" r="1.00" fill="#5370ad"/>
<circle cx="125.57" cy="562.39" r="1.00" fill="#7d98d2"/>
<circle cx="126.13" cy="562.61" r="1.00" fill="#7d98d2"/>
<circle cx="127.52" cy="562.58" r="1.00" fill="#7d98d2"/>
<circle cx="127.99" cy="562.73" r="1.00" fill="#7d98d2"/>
<circle cx="129.77" cy="563.52" r="1.00" fill="#7d98d2"/>
<circle cx="131.41" cy="563.75" r="1.00" fill="#7d98d2"/>
<circle cx="132.42" cy="564.38" r="1.00" fill="#7d98d2"/>
<circle cx="133.16" cy="563.94" r="1.00" fill="#7d98d2"/>
<circle cx="134.30" cy="564.11" r="1.00" fill="#7d98d2"/>
<circle cx="135.81" cy="564.59" r="1.00" fill="#5370ad"/>
<circle cx="136.05" cy="565.55" r="1.00" fill="#7d98d2"/>
<circle cx="137.53" cy="565.80" r="1.00" fill="#7d98d2"/>
<circle cx="138.56" cy="566.11" r="1.00" fill="#7d98d2"/>
<circle cx="122.09" cy="565.04" r="1.00" fill="#7d98d2"/>
<circle cx="122.72" cy="566.11" r="1.00" fill="#7d98d2"/>
<circle cx="124.15" cy="565.72" r="1.00" fill="#7d98d2"/>
<circle cx="125.88" cy="566.80" r="1.00" fill="#7d98d2"/>
<circle cx="126.98" cy="566.70" r="1.00" fill="#7d98d2"/>
<circle cx="127.39" cy="567.48" r="1.00" fill="#7d98d2"/>
<circle cx="128.66" cy="567.70" r="1.00" fill="#5370ad"/>
<circle cx="130.40" cy="567.49" r="1.00" fill="#7d98d2"/>
<circle cx="130.74" cy="568.14" r="1.00" fill="#7d98d2"/>
<circle cx="132.85" cy="568.41" r="1.00" fill="#7d98d2"/>
<circle cx="134.25" cy="568.21" r="1.00" fill="#5370ad"/>
<circle cx="135.11" cy="568.69" r="1.00" fill="#7d98d2"/>
<circle cx="136.10" cy="568.76" r="1.00" fill="#7d98d2"/>
<circle cx="122.18" cy="569.56" r="1.00" fill="#5370ad"/>
<circle cx="123.80" cy="570.32" r="1.00" fill="#7d98d2"/>
<circle cx="124.96" cy="570.17" r="1.00" fill="#5370ad"/>
<circle cx="126.18" cy="570.65" r="1.00" fill="#7d98d2"/>
<circle cx="127.06" cy="570.55" r="1.00" fill="#7d98d2"/>
<circle cx="128.55" cy="571.03" r="1.00" fill="#7d98d2"/>
<circle cx="128.94" cy="571.10" r="1.00" fill="#7d98d2"/>
<circle cx="130.50" cy="572.06" r="1.00" fill="#7d98d2"/>
<circle cx="132.02" cy="572.15" r="1.00" fill="#5370ad"/>
<circle cx="133.38" cy="572.29" r="1.00" fill="#7d98d2"/>
<circle cx="133.99" cy="573.13" r="1.00" fill="#7d98d2"/>
<circle cx="135.55" cy="573.08" r="1.00" fill="#5370ad"/>
<circle cx="136.97" cy="572.93" r="1.00" fill="#7d98d2"/>
<circle cx="137.79" cy="574.43" r="1.00" fill="#7d98d2"/>
<circle cx="139.45" cy="574.13" r="1.00" fill="#5370ad"/>
<circle cx="116.87" cy="560.54" r="1.00" fill="#5370ad"/>
<circle cx="118.27" cy="559.94" r="1.00" fill="#7d98d2"/>
<circle cx="119.20" cy="559.97" r="1.00" fill="#5370ad"/>
<circle cx="120.84" cy="560.11" r="1.00" fill="#7d98d2"/>
<circle cx="121.37" cy="560.35" r="1.00" fill="#5370ad"/>
<circle cx="137.72" cy="565.98" r="1.00" fill="#7d98d2"/>
<circle cx="139.42" cy="566.23" r="1.00" fill="#5370ad"/>
<circle cx="140.13" cy="567.34" r="1.00" fill="#5370ad"/>
<circle cx="142.00" cy="567.71" r="1.00" fill="#7d98d2"/>
<circle cx="143.31" cy="567.69" r="1.00" fill="#7d98d2"/>
<circle cx="144.09" cy="569.83" r="1.00" fill="#5370ad"/>
<circle cx="144.63" cy="570.99" r="1.00" fill="#7d98d2"/>
<circle cx="145.46" cy="571.97" r="1.00" fill="#7d98d2"/>
<circle cx="144.72" cy="573.28" r="1.00" fill="#5370ad"/>
<circle cx="144.49" cy="574.11" r="1.00" fill="#5370ad"/>
<circle cx="142.66" cy="575.13" r="1.00" fill="#5370ad"/>
<circle cx="142.05" cy="575.36" r="1.00" fill="#7d98d2"/>
<circle cx="139.58" cy="575.14" r="1.00" fill="#5370ad"/>
<circle cx="138.91" cy="574.21" r="1.00" fill="#5370ad"/>
<circle cx="136.90" cy="573.85" r="1.00" fill="#5370ad"/>
<circle cx="117.90" cy="565.43" r="1.00" fill="#5370ad"/>
<circle cx="116.76" cy="566.14" r="1.00" fill="#7d98d2"/>
<circle cx="120.49" cy="563.52" r="1.00" fill="#7d98d2"/>
<circle cx="119.91" cy="565.79" r="1.00" fill="#5370ad"/>
<circle cx="121.19" cy="566.32" r="1.00" fill="#7d98d2"/>
<circle cx="120.26" cy="566.19" r="1.00" fill="#7d98d2"/>
<circle cx="121.84" cy="566.68" r="1.00" fill="#7d98d2"/>
<circle cx="121.61" cy="567.67" r="1.00" fill="#5370ad"/>
<circle cx="118.63" cy="561.33" r="1.00" fill="#5370ad"/>
<circle cx="121.04" cy="567.77" r="1.00" fill="#5370ad"/>
<circle cx="119.22" cy="563.02" r="1.00" fill="#7d98d2"/>
<circle cx="118.56" cy="570.21" r="1.00" fill="#7d98d2"/>
<circle cx="119.17" cy="562.37" r="1.00" fill="#5370ad"/>
<circle cx="117.40" cy="562.23" r="1.00" fill="#7d98d2"/>
<circle cx="120.82" cy="564.28" r="1.00" fill="#7d98d2"/>
<circle cx="119.24" cy="567.49" r="1.00" fill="#7d98d2"/>
<circle cx="117.99" cy="566.52" r="1.00" fill="#5370ad"/>
<circle cx="117.57" cy="562.49" r="1.00" fill="#5370ad"/>
<circle cx="119.68" cy="564.72" r="1.00" fill="#5370ad"/>
<circle cx="121.98" cy="562.93" r="1.00" fill="#7d98d2"/>
<circle cx="118.43" cy="561.25" r="1.00" fill="#7d98d2"/>
<circle cx="118.54" cy="569.13" r="1.00" fill="#7d98d2"/>
<circle cx="117.44" cy="564.76" r="1.00" fill="#7d98d2"/>
<circle cx="117.34" cy="562.80" r="1.00" fill="#7d98d2"/>
<circle cx="118.38" cy="561.89" r="1.00" fill="#7d98d2"/>
<circle cx="120.51" cy="565.75" r="1.00" fill="#5370ad"/>
<circle cx="118.10" cy="562.85" r="1.00" fill="#5370ad"/>
<circle cx="119.02" cy="560.91" r="1.00" fill="#7d98d2"/>
<circle cx="119.54" cy="562.86" r="1.00" fill="#5370ad"/>
<circle cx="121.09" cy="562.98" r="1.00" fill="#5370ad"/>
<circle cx="122.06" cy="565.20" r="1.00" fill="#7d98d2"/>
<circle cx="143.80" cy="570.99" r="1.00" fill="#5370ad"/>
<circle cx="141.12" cy="569.23" r="1.00" fill="#5370ad"/>
<circle cx="142.81" cy="570.16" r="1.00" fill="#7d98d2"/>
<circle cx="143.79" cy="573.08" r="1.00" fill="#7d98d2"/>
<circle cx="140.25" cy="567.27" r="1.00" fill="#7d98d2"/>
<circle cx="139.00" cy="570.59" r="1.00" fill="#7d98d2"/>
<circle cx="139.79" cy="572.01" r="1.00" fill="#7d98d2"/>
<circle cx="136.94" cy="571.02" r="1.00" fill="#5370ad"/>
<circle cx="142.27" cy="572.90" r="1.00" fill="#7d98d2"/>
<circle cx="143.06" cy="570.96" r="1.00" fill="#5370ad"/>
<circle cx="140.77" cy="575.08" r="1.00" fill="#7d98d2"/>
<circle cx="141.20" cy="572.15" r="1.00" fill="#5370ad"/>
<circle cx="139.30" cy="572.71" r="1.00" fill="#7d98d2"/>
<circle cx="140.71" cy="575.11" r="1.00" fill="#7d98d2"/>
<circle cx="137.47" cy="569.92" r="1.00" fill="#5370ad"/>
<circle cx="143.35" cy="571.80" r="1.00" fill="#7d98d2"/>
<circle cx="138.90" cy="567.87" r="1.00" fill="#7d98d2"/>
<circle cx="138.85" cy="568.09" r="1.00" fill="#5370ad"/>
<circle cx="138.02" cy="573.41" r="1.00" fill="#7d98d2"/>
<circle cx="138.41" cy="568.44" r="1.00" fill="#5370ad"/>
<circle cx="141.74" cy="568.12" r="1.00" fill="#5370ad"/>
<circle cx="143.40" cy="572.59" r="1.00" fill="#7d98d2"/>
<circle cx="143.75" cy="573.24" r="1.00" fill="#7d98d2"/>
<circle cx="132.73" cy="565.17" r="1.00" fill="#7d98d2"/>
<circle cx="128.42" cy="566.30" r="1.00" fill="#7d98d2"/>
<circle cx="127.99" cy="571.62" r="1.00" fill="#7d98d2"/>
<circle cx="128.60" cy="570.49" r="1.00" fill="#5370ad"/>
<circle cx="131.33" cy="563.33" r="1.00" fill="#5370ad"/>
<circle cx="125.45" cy="568.28" r="1.00" fill="#7d98d2"/>
<circle cx="133.55" cy="564.83" r="1.00" fill="#5370ad"/>
<circle cx="126.00" cy="566.27" r="1.00" fill="#7d98d2"/>
<circle cx="128.93" cy="566.70" r="1.00" fill="#7d98d2"/>
<circle cx="135.45" cy="568.58" r="1.00" fill="#5370ad"/>
<circle cx="126.39" cy="565.94" r="1.00" fill="#7d98d2"/>
<circle cx="129.61" cy="564.11" r="1.00" fill="#5370ad"/>
<circle cx="127.99" cy="563.15" r="1.00" fill="#7d98d2"/>
<circle cx="131.52" cy="574.80" r="1.00" fill="#b00a1a"/>
<circle cx="132.58" cy="575.78" r="1.00" fill="#b00a1a"/>
<circle cx="134.80" cy="577.22" r="1.00" fill="#b00a1a"/>
<circle cx="136.23" cy="578.40" r="1.00" fill="#b00a1a"/>
<circle cx="137.21" cy="578.80" r="1.00" fill="#b00a1a"/>
<circle cx="138.66" cy="578.35" r="1.00" fill="#b00a1a"/>
<circle cx="140.14" cy="578.20" r="1.00" fill="#b00a1a"/>
<circle cx="142.07" cy="579.71" r="1.00" fill="#b00a1a"/>
<circle cx="142.57" cy="580.66" r="1.00" fill="#b00a1a"/>
<circle cx="142.77" cy="581.87" r="1.00" fill="#b00a1a"/>
<circle cx="142.25" cy="583.70" r="1.00" fill="#b00a1a"/>
<circle cx="140.34" cy="585.45" r="1.00" fill="#b00a1a"/>
<circle cx="140.16" cy="587.64" r="1.00" fill="#b00a1a"/>
<circle cx="138.71" cy="590.34" r="1.00" fill="#b00a1a"/>
<circle cx="140.17" cy="590.80" r="1.00" fill="#b00a1a"/>
<circle cx="141.84" cy="589.83" r="1.00" fill="#b00a1a"/>
<circle cx="140.70" cy="589.26" r="1.00" fill="#a8081a"/>
<circle cx="139.73" cy="588.79" r="1.00" fill="#a8081a"/>
<circle cx="138.64" cy="591.19" r="1.00" fill="#a8081a"/>
<circle cx="140.99" cy="587.43" r="1.00" fill="#a8081a"/>
<circle cx="139.19" cy="590.45" r="1.00" fill="#a8081a"/>
<circle cx="140.23" cy="590.29" r="1.00" fill="#a8081a"/>
<circle cx="141.06" cy="587.64" r="1.00" fill="#a8081a"/>
<circle cx="141.30" cy="587.89" r="1.00" fill="#a8081a"/>
<circle cx="138.97" cy="590.29" r="1.00" fill="#a8081a"/>
<circle cx="141.27" cy="588.33" r="1.00" fill="#a8081a"/>
<circle cx="134.60" cy="578.90" r="1.00" fill="#5fa89a"/>
<circle cx="139.10" cy="582.70" r="1.00" fill="#5fa89a"/>
<circle cx="335.34" cy="615.39" r="0.95" fill="#d0172c"/>
<circle cx="344.31" cy="631.57" r="0.95" fill="#a0000f"/>
<circle cx="374.04" cy="608.27" r="0.95" fill="#d0172c"/>
<circle cx="326.11" cy="624.36" r="0.95" fill="#a0000f"/>
<circle cx="334.96" cy="644.25" r="0.95" fill="#d0172c"/>
<circle cx="338.54" cy="637.96" r="0.95" fill="#a0000f"/>
<circle cx="316.72" cy="626.88" r="0.95" fill="#a0000f"/>
<circle cx="406.89" cy="651.50" r="0.95" fill="#a0000f"/>
<circle cx="328.20" cy="625.30" r="0.95" fill="#d0172c"/>
<circle cx="375.34" cy="609.56" r="0.95" fill="#d0172c"/>
<circle cx="411.94" cy="646.79" r="0.95" fill="#a0000f"/>
<circle cx="403.28" cy="649.42" r="0.95" fill="#a0000f"/>
<circle cx="389.69" cy="644.68" r="0.95" fill="#a0000f"/>
<circle cx="420.14" cy="641.59" r="0.95" fill="#d0172c"/>
<circle cx="427.15" cy="640.45" r="0.95" fill="#a0000f"/>
<circle cx="393.68" cy="646.00" r="0.95" fill="#d0172c"/>
<circle cx="404.07" cy="651.41" r="0.95" fill="#d0172c"/>
<circle cx="343.09" cy="636.44" r="0.95" fill="#d0172c"/>
<circle cx="334.42" cy="643.80" r="0.95" fill="#a0000f"/>
<circle cx="395.82" cy="645.43" r="0.95" fill="#e8969b"/>
<circle cx="407.29" cy="643.92" r="0.95" fill="#a0000f"/>
<circle cx="319.05" cy="614.84" r="0.95" fill="#a0000f"/>
<circle cx="325.04" cy="634.69" r="0.95" fill="#a0000f"/>
<circle cx="424.05" cy="648.45" r="0.95" fill="#d0172c"/>
<circle cx="325.48" cy="633.55" r="0.95" fill="#a0000f"/>
<circle cx="324.68" cy="627.17" r="0.95" fill="#a0000f"/>
<circle cx="415.53" cy="646.23" r="0.95" fill="#d0172c"/>
<circle cx="418.85" cy="645.89" r="0.95" fill="#d0172c"/>
<circle cx="318.86" cy="617.35" r="0.95" fill="#a0000f"/>
<circle cx="320.97" cy="631.47" r="0.95" fill="#a0000f"/>
<circle cx="339.44" cy="640.31" r="0.95" fill="#d0172c"/>
<circle cx="401.57" cy="648.31" r="0.95" fill="#a0000f"/>
<circle cx="414.58" cy="648.90" r="0.95" fill="#a0000f"/>
<circle cx="335.90" cy="636.54" r="0.95" fill="#a0000f"/>
<circle cx="341.15" cy="627.95" r="0.95" fill="#a0000f"/>
<circle cx="345.28" cy="636.04" r="0.95" fill="#d0172c"/>
<circle cx="327.49" cy="620.20" r="0.95" fill="#a0000f"/>
<circle cx="340.96" cy="632.87" r="0.95" fill="#a0000f"/>
<circle cx="315.17" cy="617.55" r="0.95" fill="#a0000f"/>
<circle cx="329.18" cy="640.04" r="0.95" fill="#d0172c"/>
<circle cx="349.73" cy="635.27" r="0.95" fill="#a0000f"/>
<circle cx="407.80" cy="645.20" r="0.95" fill="#a0000f"/>
<circle cx="338.31" cy="645.37" r="0.95" fill="#a0000f"/>
<circle cx="328.96" cy="622.70" r="0.95" fill="#d0172c"/>
<circle cx="319.13" cy="632.68" r="0.95" fill="#a0000f"/>
<circle cx="315.75" cy="618.90" r="0.95" fill="#a0000f"/>
<circle cx="420.83" cy="634.08" r="0.95" fill="#e8969b"/>
<circle cx="315.07" cy="616.12" r="0.95" fill="#d0172c"/>
<circle cx="322.28" cy="631.61" r="0.95" fill="#d0172c"/>
<circle cx="423.16" cy="646.39" r="0.95" fill="#d0172c"/>
<circle cx="398.27" cy="645.32" r="0.95" fill="#d0172c"/>
<circle cx="398.18" cy="647.54" r="0.95" fill="#d0172c"/>
<circle cx="417.83" cy="647.26" r="0.95" fill="#a0000f"/>
<circle cx="414.87" cy="644.62" r="0.95" fill="#a0000f"/>
<circle cx="325.45" cy="629.29" r="0.95" fill="#d0172c"/>
<circle cx="323.04" cy="627.36" r="0.95" fill="#a0000f"/>
<circle cx="401.09" cy="643.56" r="0.95" fill="#d0172c"/>
<circle cx="314.12" cy="626.33" r="0.95" fill="#a0000f"/>
<circle cx="313.09" cy="622.06" r="0.95" fill="#a0000f"/>
<circle cx="421.52" cy="639.18" r="0.95" fill="#d0172c"/>
<circle cx="326.72" cy="631.62" r="0.95" fill="#a0000f"/>
<circle cx="321.90" cy="626.52" r="0.95" fill="#d0172c"/>
<circle cx="409.30" cy="646.19" r="0.95" fill="#a0000f"/>
<circle cx="396.46" cy="642.63" r="0.95" fill="#a0000f"/>
<circle cx="331.24" cy="634.63" r="0.95" fill="#a0000f"/>
<circle cx="374.33" cy="609.71" r="0.95" fill="#e8969b"/>
<circle cx="403.59" cy="646.72" r="0.95" fill="#d0172c"/>
<circle cx="394.13" cy="644.04" r="0.95" fill="#d0172c"/>
<circle cx="402.86" cy="649.13" r="0.95" fill="#e8969b"/>
<circle cx="333.07" cy="632.15" r="0.95" fill="#d0172c"/>
<circle cx="424.52" cy="647.25" r="0.95" fill="#d0172c"/>
<circle cx="373.63" cy="610.18" r="0.95" fill="#e8969b"/>
<circle cx="318.33" cy="636.96" r="0.95" fill="#d0172c"/>
<circle cx="327.19" cy="629.20" r="0.95" fill="#a0000f"/>
<circle cx="326.88" cy="626.78" r="0.95" fill="#a0000f"/>
<circle cx="325.34" cy="634.35" r="0.95" fill="#d0172c"/>
<circle cx="347.43" cy="640.68" r="0.95" fill="#e8969b"/>
<circle cx="417.61" cy="641.06" r="0.95" fill="#a0000f"/>
<circle cx="345.72" cy="642.33" r="0.95" fill="#a0000f"/>
<circle cx="379.42" cy="611.46" r="0.95" fill="#d0172c"/>
<circle cx="399.64" cy="645.11" r="0.95" fill="#a0000f"/>
<circle cx="340.88" cy="626.63" r="0.95" fill="#a0000f"/>
<circle cx="412.49" cy="646.93" r="0.95" fill="#d0172c"/>
<circle cx="340.76" cy="637.03" r="0.95" fill="#d0172c"/>
<circle cx="427.71" cy="644.48" r="0.95" fill="#a0000f"/>
<circle cx="319.33" cy="616.67" r="0.95" fill="#d0172c"/>
<circle cx="394.68" cy="645.84" r="0.95" fill="#a0000f"/>
<circle cx="410.10" cy="646.51" r="0.95" fill="#a0000f"/>
<circle cx="329.93" cy="631.99" r="0.95" fill="#d0172c"/>
<circle cx="392.31" cy="645.33" r="0.95" fill="#a0000f"/>
<circle cx="313.44" cy="619.64" r="0.95" fill="#d0172c"/>
<circle cx="409.83" cy="649.53" r="0.95" fill="#d0172c"/>
<circle cx="320.45" cy="628.82" r="0.95" fill="#a0000f"/>
<circle cx="343.59" cy="639.12" r="0.95" fill="#d0172c"/>
<circle cx="422.86" cy="647.54" r="0.95" fill="#d0172c"/>
<circle cx="334.72" cy="631.67" r="0.95" fill="#a0000f"/>
<circle cx="345.02" cy="632.51" r="0.95" fill="#d0172c"/>
<circle cx="324.76" cy="620.97" r="0.95" fill="#a0000f"/>
<circle cx="321.27" cy="636.15" r="0.95" fill="#e8969b"/>
<circle cx="416.18" cy="649.50" r="0.95" fill="#a0000f"/>
<circle cx="332.85" cy="640.61" r="0.95" fill="#a0000f"/>
<circle cx="409.00" cy="647.48" r="0.95" fill="#e8969b"/>
<circle cx="355.13" cy="608.55" r="0.95" fill="#a0000f"/>
<circle cx="349.86" cy="641.13" r="0.95" fill="#d0172c"/>
<circle cx="367.58" cy="607.57" r="0.95" fill="#a0000f"/>
<circle cx="409.09" cy="650.32" r="0.95" fill="#d0172c"/>
<circle cx="322.62" cy="628.68" r="0.95" fill="#a0000f"/>
<circle cx="322.01" cy="639.92" r="0.95" fill="#a0000f"/>
<circle cx="343.65" cy="640.46" r="0.95" fill="#e8969b"/>
<circle cx="326.75" cy="627.48" r="0.95" fill="#d0172c"/>
<circle cx="331.19" cy="640.63" r="0.95" fill="#a0000f"/>
<circle cx="348.53" cy="641.56" r="0.95" fill="#d0172c"/>
<circle cx="371.47" cy="607.74" r="0.95" fill="#a0000f"/>
<circle cx="390.16" cy="642.83" r="0.95" fill="#d0172c"/>
<circle cx="421.56" cy="644.94" r="0.95" fill="#d0172c"/>
<circle cx="321.63" cy="613.94" r="0.95" fill="#a0000f"/>
<circle cx="342.51" cy="644.70" r="0.95" fill="#a0000f"/>
<circle cx="317.57" cy="628.26" r="0.95" fill="#d0172c"/>
<circle cx="318.79" cy="635.02" r="0.95" fill="#e8969b"/>
<circle cx="314.54" cy="616.41" r="0.95" fill="#a0000f"/>
<circle cx="415.46" cy="642.99" r="0.95" fill="#d0172c"/>
<circle cx="332.82" cy="629.20" r="0.95" fill="#d0172c"/>
<circle cx="319.62" cy="639.01" r="0.95" fill="#a0000f"/>
<circle cx="332.84" cy="616.69" r="0.95" fill="#a0000f"/>
<circle cx="334.74" cy="632.97" r="0.95" fill="#e8969b"/>
<circle cx="324.36" cy="635.96" r="0.95" fill="#a0000f"/>
<circle cx="328.59" cy="625.02" r="0.95" fill="#a0000f"/>
<circle cx="320.59" cy="614.88" r="0.95" fill="#d0172c"/>
<circle cx="360.74" cy="609.06" r="0.95" fill="#a0000f"/>
<circle cx="337.51" cy="631.19" r="0.95" fill="#d0172c"/>
<circle cx="332.92" cy="628.27" r="0.95" fill="#a0000f"/>
<circle cx="334.46" cy="641.25" r="0.95" fill="#a0000f"/>
<circle cx="426.99" cy="645.39" r="0.95" fill="#d0172c"/>
<circle cx="312.55" cy="626.32" r="0.95" fill="#a0000f"/>
<circle cx="323.44" cy="633.29" r="0.95" fill="#d0172c"/>
<circle cx="350.30" cy="636.60" r="0.95" fill="#d0172c"/>
<circle cx="400.11" cy="645.42" r="0.95" fill="#a0000f"/>
<circle cx="340.94" cy="645.62" r="0.95" fill="#d0172c"/>
<circle cx="417.25" cy="643.16" r="0.95" fill="#d0172c"/>
<circle cx="414.75" cy="643.32" r="0.95" fill="#d0172c"/>
<circle cx="334.43" cy="630.49" r="0.95" fill="#d0172c"/>
<circle cx="419.79" cy="643.79" r="0.95" fill="#d0172c"/>
<circle cx="320.68" cy="634.50" r="0.95" fill="#d0172c"/>
<circle cx="391.19" cy="641.60" r="0.95" fill="#d0172c"/>
<circle cx="337.62" cy="642.61" r="0.95" fill="#a0000f"/>
<circle cx="341.53" cy="638.63" r="0.95" fill="#a0000f"/>
<circle cx="338.96" cy="642.20" r="0.95" fill="#a0000f"/>
<circle cx="404.94" cy="640.49" r="0.95" fill="#d0172c"/>
<circle cx="339.31" cy="632.64" r="0.95" fill="#d0172c"/>
<circle cx="325.69" cy="626.19" r="0.95" fill="#d0172c"/>
<circle cx="339.99" cy="634.54" r="0.95" fill="#a0000f"/>
<circle cx="351.30" cy="639.49" r="0.95" fill="#a0000f"/>
<circle cx="348.08" cy="639.00" r="0.95" fill="#e8969b"/>
<circle cx="325.17" cy="625.77" r="0.95" fill="#a0000f"/>
<circle cx="344.85" cy="631.85" r="0.95" fill="#a0000f"/>
<circle cx="375.20" cy="608.82" r="0.95" fill="#d0172c"/>
<circle cx="337.08" cy="636.74" r="0.95" fill="#a0000f"/>
<circle cx="323.08" cy="627.04" r="0.95" fill="#a0000f"/>
<circle cx="406.49" cy="647.44" r="0.95" fill="#a0000f"/>
<circle cx="327.16" cy="638.94" r="0.95" fill="#d0172c"/>
<circle cx="312.30" cy="624.76" r="0.95" fill="#a0000f"/>
<circle cx="329.01" cy="634.10" r="0.95" fill="#d0172c"/>
<circle cx="423.17" cy="643.10" r="0.95" fill="#d0172c"/>
<circle cx="417.59" cy="646.13" r="0.95" fill="#d0172c"/>
<circle cx="337.99" cy="625.29" r="0.95" fill="#d0172c"/>
<circle cx="335.04" cy="642.38" r="0.95" fill="#d0172c"/>
<circle cx="331.17" cy="617.71" r="0.95" fill="#a0000f"/>
<circle cx="337.69" cy="624.96" r="0.95" fill="#a0000f"/>
<circle cx="421.48" cy="649.32" r="0.95" fill="#a0000f"/>
<circle cx="371.91" cy="609.90" r="0.95" fill="#a0000f"/>
<circle cx="400.27" cy="648.01" r="0.95" fill="#d0172c"/>
<circle cx="325.15" cy="627.55" r="0.95" fill="#d0172c"/>
<circle cx="421.49" cy="642.72" r="0.95" fill="#a0000f"/>
<circle cx="323.85" cy="618.64" r="0.95" fill="#d0172c"/>
<circle cx="351.87" cy="639.15" r="0.95" fill="#a0000f"/>
<circle cx="357.96" cy="608.56" r="0.95" fill="#a0000f"/>
<circle cx="336.74" cy="631.25" r="0.95" fill="#a0000f"/>
<circle cx="315.84" cy="626.21" r="0.95" fill="#d0172c"/>
<circle cx="315.99" cy="627.72" r="0.95" fill="#d0172c"/>
<circle cx="323.62" cy="622.38" r="0.95" fill="#d0172c"/>
<circle cx="313.41" cy="626.74" r="0.95" fill="#d0172c"/>
<circle cx="317.94" cy="615.29" r="0.95" fill="#d0172c"/>
<circle cx="316.73" cy="618.65" r="0.95" fill="#a0000f"/>
<circle cx="332.44" cy="637.11" r="0.95" fill="#d0172c"/>
<circle cx="318.16" cy="630.38" r="0.95" fill="#a0000f"/>
<circle cx="363.22" cy="607.86" r="0.95" fill="#e8969b"/>
<circle cx="423.88" cy="636.51" r="0.95" fill="#a0000f"/>
<circle cx="365.60" cy="607.28" r="0.95" fill="#d0172c"/>
<circle cx="398.10" cy="646.95" r="0.95" fill="#d0172c"/>
<circle cx="320.49" cy="627.30" r="0.95" fill="#d0172c"/>
<circle cx="405.86" cy="644.71" r="0.95" fill="#d0172c"/>
<circle cx="326.30" cy="626.05" r="0.95" fill="#e8969b"/>
<circle cx="422.26" cy="640.05" r="0.95" fill="#d0172c"/>
<circle cx="333.53" cy="629.55" r="0.95" fill="#a0000f"/>
<circle cx="326.09" cy="622.60" r="0.95" fill="#d0172c"/>
<circle cx="331.91" cy="633.93" r="0.95" fill="#a0000f"/>
<circle cx="316.46" cy="615.61" r="0.95" fill="#d0172c"/>
<circle cx="329.49" cy="636.18" r="0.95" fill="#a0000f"/>
<circle cx="330.64" cy="618.53" r="0.95" fill="#a0000f"/>
<circle cx="322.86" cy="631.28" r="0.95" fill="#d0172c"/>
<circle cx="418.42" cy="643.16" r="0.95" fill="#d0172c"/>
<circle cx="419.53" cy="649.62" r="0.95" fill="#d0172c"/>
<circle cx="318.70" cy="638.38" r="0.95" fill="#a0000f"/>
<circle cx="422.03" cy="647.88" r="0.95" fill="#d0172c"/>
<circle cx="412.37" cy="648.78" r="0.95" fill="#a0000f"/>
<circle cx="323.73" cy="615.92" r="0.95" fill="#d0172c"/>
<circle cx="331.75" cy="638.46" r="0.95" fill="#d0172c"/>
<circle cx="411.03" cy="646.02" r="0.95" fill="#a0000f"/>
<circle cx="405.03" cy="650.31" r="0.95" fill="#a0000f"/>
<circle cx="318.17" cy="631.40" r="0.95" fill="#e8969b"/>
<circle cx="423.19" cy="635.64" r="0.95" fill="#a0000f"/>
<circle cx="402.39" cy="645.86" r="0.95" fill="#a0000f"/>
<circle cx="395.10" cy="643.78" r="0.95" fill="#a0000f"/>
<circle cx="322.90" cy="620.03" r="0.95" fill="#a0000f"/>
<circle cx="336.47" cy="644.71" r="0.95" fill="#a0000f"/>
<circle cx="405.72" cy="646.62" r="0.95" fill="#d0172c"/>
<circle cx="401.50" cy="650.89" r="0.95" fill="#d0172c"/>
<circle cx="424.78" cy="639.05" r="0.95" fill="#a0000f"/>
<circle cx="326.45" cy="628.81" r="0.95" fill="#a0000f"/>
<circle cx="335.38" cy="631.35" r="0.95" fill="#a0000f"/>
<circle cx="347.19" cy="634.77" r="0.95" fill="#d0172c"/>
<circle cx="327.09" cy="630.05" r="0.95" fill="#a0000f"/>
<circle cx="321.15" cy="622.68" r="0.95" fill="#d0172c"/>
<circle cx="316.15" cy="617.56" r="0.95" fill="#a0000f"/>
<circle cx="406.84" cy="647.65" r="0.95" fill="#d0172c"/>
<circle cx="329.23" cy="620.14" r="0.95" fill="#d0172c"/>
<circle cx="405.07" cy="644.02" r="0.95" fill="#d0172c"/>
<circle cx="419.35" cy="636.37" r="0.95" fill="#a0000f"/>
<circle cx="347.14" cy="633.98" r="0.95" fill="#a0000f"/>
<circle cx="392.25" cy="642.97" r="0.95" fill="#d0172c"/>
<circle cx="413.52" cy="644.75" r="0.95" fill="#a0000f"/>
<circle cx="338.15" cy="626.31" r="0.95" fill="#e8969b"/>
<circle cx="419.58" cy="632.69" r="0.95" fill="#a0000f"/>
<circle cx="326.89" cy="633.79" r="0.95" fill="#d0172c"/>
<circle cx="331.03" cy="637.78" r="0.95" fill="#a0000f"/>
<circle cx="342.28" cy="638.93" r="0.95" fill="#d0172c"/>
<circle cx="322.48" cy="626.97" r="0.95" fill="#e8969b"/>
<circle cx="425.45" cy="647.84" r="0.95" fill="#d0172c"/>
<circle cx="311.19" cy="623.41" r="0.95" fill="#d0172c"/>
<circle cx="421.38" cy="646.44" r="0.95" fill="#d0172c"/>
<circle cx="416.90" cy="633.73" r="0.95" fill="#a0000f"/>
<circle cx="370.81" cy="608.81" r="0.95" fill="#a0000f"/>
<circle cx="338.59" cy="637.91" r="0.95" fill="#e8969b"/>
<circle cx="347.24" cy="642.40" r="0.95" fill="#d0172c"/>
<circle cx="337.53" cy="640.75" r="0.95" fill="#d0172c"/>
<circle cx="426.43" cy="646.54" r="0.95" fill="#a0000f"/>
<circle cx="375.56" cy="611.22" r="0.95" fill="#a0000f"/>
<circle cx="418.55" cy="635.34" r="0.95" fill="#d0172c"/>
<circle cx="319.50" cy="622.44" r="0.95" fill="#e8969b"/>
<circle cx="327.44" cy="618.07" r="0.95" fill="#a0000f"/>
<circle cx="318.43" cy="619.52" r="0.95" fill="#d0172c"/>
<circle cx="419.02" cy="637.66" r="0.95" fill="#a0000f"/>
<circle cx="406.76" cy="641.78" r="0.95" fill="#d0172c"/>
<circle cx="402.45" cy="640.71" r="0.95" fill="#a0000f"/>
<circle cx="312.13" cy="621.79" r="0.95" fill="#a0000f"/>
<circle cx="336.01" cy="625.07" r="0.95" fill="#d0172c"/>
<circle cx="418.56" cy="633.12" r="0.95" fill="#d0172c"/>
<circle cx="372.26" cy="609.35" r="0.95" fill="#a0000f"/>
<circle cx="325.24" cy="616.95" r="0.95" fill="#d0172c"/>
<circle cx="329.53" cy="617.54" r="0.95" fill="#a0000f"/>
<circle cx="406.30" cy="651.45" r="0.95" fill="#e8969b"/>
<circle cx="321.28" cy="630.32" r="0.95" fill="#d0172c"/>
<circle cx="345.35" cy="644.18" r="0.95" fill="#d0172c"/>
<circle cx="336.20" cy="627.23" r="0.95" fill="#a0000f"/>
<circle cx="318.87" cy="631.11" r="0.95" fill="#d0172c"/>
<circle cx="333.97" cy="637.58" r="0.95" fill="#d0172c"/>
<circle cx="323.79" cy="616.63" r="0.95" fill="#a0000f"/>
<circle cx="345.23" cy="640.93" r="0.95" fill="#a0000f"/>
<circle cx="327.40" cy="629.59" r="0.95" fill="#d0172c"/>
<circle cx="420.54" cy="648.75" r="0.95" fill="#a0000f"/>
<circle cx="325.56" cy="619.22" r="0.95" fill="#d0172c"/>
<circle cx="402.83" cy="642.41" r="0.95" fill="#a0000f"/>
<circle cx="317.90" cy="628.34" r="0.95" fill="#d0172c"/>
<circle cx="342.75" cy="629.56" r="0.95" fill="#a0000f"/>
<circle cx="320.07" cy="620.07" r="0.95" fill="#a0000f"/>
<circle cx="396.74" cy="642.54" r="0.95" fill="#a0000f"/>
<circle cx="319.65" cy="636.48" r="0.95" fill="#d0172c"/>
<circle cx="328.11" cy="630.44" r="0.95" fill="#e8969b"/>
<circle cx="340.27" cy="625.64" r="0.95" fill="#a0000f"/>
<circle cx="347.01" cy="643.39" r="0.95" fill="#a0000f"/>
<circle cx="422.16" cy="648.96" r="0.95" fill="#d0172c"/>
<circle cx="342.11" cy="627.49" r="0.95" fill="#a0000f"/>
<circle cx="410.34" cy="647.75" r="0.95" fill="#a0000f"/>
<circle cx="425.07" cy="647.55" r="0.95" fill="#a0000f"/>
<circle cx="342.13" cy="627.47" r="0.95" fill="#a0000f"/>
<circle cx="414.50" cy="646.40" r="0.95" fill="#d0172c"/>
<circle cx="327.28" cy="629.70" r="0.95" fill="#d0172c"/>
<circle cx="378.17" cy="610.68" r="0.95" fill="#d0172c"/>
<circle cx="333.89" cy="635.33" r="0.95" fill="#d0172c"/>
<circle cx="422.29" cy="638.43" r="0.95" fill="#d0172c"/>
<circle cx="427.98" cy="641.40" r="0.95" fill="#d0172c"/>
<circle cx="318.64" cy="634.62" r="0.95" fill="#d0172c"/>
<circle cx="421.63" cy="649.01" r="0.95" fill="#d0172c"/>
<circle cx="335.78" cy="625.52" r="0.95" fill="#d0172c"/>
<circle cx="389.19" cy="642.84" r="0.95" fill="#d0172c"/>
<circle cx="411.25" cy="649.06" r="0.95" fill="#d0172c"/>
<circle cx="324.08" cy="618.36" r="0.95" fill="#a0000f"/>
<circle cx="427.85" cy="643.07" r="0.95" fill="#a0000f"/>
<circle cx="370.18" cy="607.02" r="0.95" fill="#e8969b"/>
<circle cx="420.17" cy="649.90" r="0.95" fill="#a0000f"/>
<circle cx="350.25" cy="636.98" r="0.95" fill="#a0000f"/>
<circle cx="389.50" cy="640.50" r="0.95" fill="#7f93bd"/>
<circle cx="390.50" cy="641.50" r="0.95" fill="#7f93bd"/>
<circle cx="391.50" cy="642.50" r="0.95" fill="#7f93bd"/>
<circle cx="392.50" cy="641.00" r="0.95" fill="#7f93bd"/>
<circle cx="410.00" cy="635.00" r="0.95" fill="#7f93bd"/>
<circle cx="411.50" cy="634.50" r="0.95" fill="#7f93bd"/>
<circle cx="413.00" cy="636.00" r="0.95" fill="#7f93bd"/>
<circle cx="379.59" cy="569.93" r="1.00" fill="#5370ad"/>
<circle cx="382.01" cy="570.13" r="1.00" fill="#7d98d2"/>
<circle cx="383.16" cy="570.43" r="1.00" fill="#7d98d2"/>
<circle cx="385.26" cy="570.29" r="1.00" fill="#5370ad"/>
<circle cx="386.98" cy="571.25" r="1.00" fill="#7d98d2"/>
<circle cx="388.31" cy="571.22" r="1.00" fill="#5370ad"/>
<circle cx="390.90" cy="571.48" r="1.00" fill="#7d98d2"/>
<circle cx="392.35" cy="571.45" r="1.00" fill="#7d98d2"/>
<circle cx="394.19" cy="571.95" r="1.00" fill="#7d98d2"/>
<circle cx="395.74" cy="573.11" r="1.00" fill="#7d98d2"/>
<circle cx="397.21" cy="573.29" r="1.00" fill="#7d98d2"/>
<circle cx="380.93" cy="573.12" r="1.00" fill="#7d98d2"/>
<circle cx="382.62" cy="573.49" r="1.00" fill="#7d98d2"/>
<circle cx="384.48" cy="574.18" r="1.00" fill="#7d98d2"/>
<circle cx="386.06" cy="574.89" r="1.00" fill="#5370ad"/>
<circle cx="388.02" cy="574.91" r="1.00" fill="#7d98d2"/>
<circle cx="389.20" cy="575.35" r="1.00" fill="#7d98d2"/>
<circle cx="390.66" cy="575.86" r="1.00" fill="#7d98d2"/>
<circle cx="392.33" cy="575.82" r="1.00" fill="#7d98d2"/>
<circle cx="394.80" cy="576.22" r="1.00" fill="#7d98d2"/>
<circle cx="381.24" cy="577.15" r="1.00" fill="#7d98d2"/>
<circle cx="382.99" cy="577.01" r="1.00" fill="#7d98d2"/>
<circle cx="384.19" cy="577.67" r="1.00" fill="#5370ad"/>
<circle cx="386.37" cy="577.59" r="1.00" fill="#7d98d2"/>
<circle cx="388.01" cy="578.93" r="1.00" fill="#7d98d2"/>
<circle cx="389.79" cy="579.06" r="1.00" fill="#7d98d2"/>
<circle cx="391.10" cy="578.89" r="1.00" fill="#7d98d2"/>
<circle cx="393.57" cy="579.57" r="1.00" fill="#5370ad"/>
<circle cx="394.81" cy="579.77" r="1.00" fill="#5370ad"/>
<circle cx="396.37" cy="581.01" r="1.00" fill="#7d98d2"/>
<circle cx="397.90" cy="580.63" r="1.00" fill="#5370ad"/>
<circle cx="374.94" cy="568.16" r="1.00" fill="#7d98d2"/>
<circle cx="376.91" cy="568.04" r="1.00" fill="#5370ad"/>
<circle cx="377.80" cy="568.55" r="1.00" fill="#5370ad"/>
<circle cx="379.11" cy="568.95" r="1.00" fill="#5370ad"/>
<circle cx="379.86" cy="568.69" r="1.00" fill="#5370ad"/>
<circle cx="396.44" cy="573.53" r="1.00" fill="#5370ad"/>
<circle cx="397.95" cy="574.63" r="1.00" fill="#5370ad"/>
<circle cx="399.08" cy="574.54" r="1.00" fill="#7d98d2"/>
<circle cx="400.27" cy="575.19" r="1.00" fill="#5370ad"/>
<circle cx="402.11" cy="575.12" r="1.00" fill="#5370ad"/>
<circle cx="403.24" cy="576.95" r="1.00" fill="#7d98d2"/>
<circle cx="403.78" cy="578.12" r="1.00" fill="#5370ad"/>
<circle cx="403.64" cy="578.70" r="1.00" fill="#5370ad"/>
<circle cx="403.77" cy="579.83" r="1.00" fill="#7d98d2"/>
<circle cx="401.95" cy="580.30" r="1.00" fill="#7d98d2"/>
<circle cx="401.91" cy="581.45" r="1.00" fill="#7d98d2"/>
<circle cx="400.27" cy="581.64" r="1.00" fill="#7d98d2"/>
<circle cx="398.16" cy="582.27" r="1.00" fill="#7d98d2"/>
<circle cx="397.39" cy="581.36" r="1.00" fill="#7d98d2"/>
<circle cx="395.99" cy="580.43" r="1.00" fill="#5370ad"/>
<circle cx="378.26" cy="575.74" r="1.00" fill="#7d98d2"/>
<circle cx="379.30" cy="569.96" r="1.00" fill="#7d98d2"/>
<circle cx="379.77" cy="572.84" r="1.00" fill="#7d98d2"/>
<circle cx="378.39" cy="574.11" r="1.00" fill="#5370ad"/>
<circle cx="377.03" cy="576.50" r="1.00" fill="#5370ad"/>
<circle cx="379.49" cy="575.66" r="1.00" fill="#7d98d2"/>
<circle cx="378.36" cy="573.28" r="1.00" fill="#7d98d2"/>
<circle cx="376.12" cy="576.84" r="1.00" fill="#7d98d2"/>
<circle cx="376.49" cy="573.93" r="1.00" fill="#7d98d2"/>
<circle cx="380.16" cy="569.97" r="1.00" fill="#5370ad"/>
<circle cx="376.49" cy="575.45" r="1.00" fill="#5370ad"/>
<circle cx="375.58" cy="571.90" r="1.00" fill="#5370ad"/>
<circle cx="378.94" cy="575.58" r="1.00" fill="#7d98d2"/>
<circle cx="378.51" cy="575.03" r="1.00" fill="#7d98d2"/>
<circle cx="380.11" cy="569.99" r="1.00" fill="#7d98d2"/>
<circle cx="381.02" cy="572.76" r="1.00" fill="#7d98d2"/>
<circle cx="379.69" cy="576.32" r="1.00" fill="#7d98d2"/>
<circle cx="381.08" cy="572.35" r="1.00" fill="#5370ad"/>
<circle cx="377.29" cy="571.64" r="1.00" fill="#7d98d2"/>
<circle cx="376.35" cy="575.55" r="1.00" fill="#5370ad"/>
<circle cx="377.42" cy="575.65" r="1.00" fill="#5370ad"/>
<circle cx="377.20" cy="574.82" r="1.00" fill="#5370ad"/>
<circle cx="395.53" cy="577.94" r="1.00" fill="#5370ad"/>
<circle cx="397.53" cy="575.64" r="1.00" fill="#7d98d2"/>
<circle cx="400.51" cy="581.65" r="1.00" fill="#5370ad"/>
<circle cx="396.39" cy="580.35" r="1.00" fill="#7d98d2"/>
<circle cx="396.12" cy="579.28" r="1.00" fill="#5370ad"/>
<circle cx="396.95" cy="577.00" r="1.00" fill="#5370ad"/>
<circle cx="396.96" cy="580.25" r="1.00" fill="#7d98d2"/>
<circle cx="396.21" cy="580.15" r="1.00" fill="#7d98d2"/>
<circle cx="396.34" cy="577.35" r="1.00" fill="#5370ad"/>
<circle cx="401.50" cy="575.14" r="1.00" fill="#7d98d2"/>
<circle cx="397.94" cy="581.62" r="1.00" fill="#7d98d2"/>
<circle cx="402.21" cy="575.81" r="1.00" fill="#7d98d2"/>
<circle cx="396.23" cy="576.17" r="1.00" fill="#7d98d2"/>
<circle cx="398.16" cy="579.40" r="1.00" fill="#5370ad"/>
<circle cx="399.95" cy="576.61" r="1.00" fill="#7d98d2"/>
<circle cx="401.31" cy="576.70" r="1.00" fill="#7d98d2"/>
<circle cx="389.39" cy="571.67" r="1.00" fill="#7d98d2"/>
<circle cx="390.01" cy="575.00" r="1.00" fill="#5370ad"/>
<circle cx="386.04" cy="574.07" r="1.00" fill="#5370ad"/>
<circle cx="383.23" cy="577.72" r="1.00" fill="#5370ad"/>
<circle cx="385.92" cy="575.92" r="1.00" fill="#5370ad"/>
<circle cx="389.01" cy="575.65" r="1.00" fill="#5370ad"/>
<circle cx="393.15" cy="572.82" r="1.00" fill="#7d98d2"/>
<circle cx="392.64" cy="575.09" r="1.00" fill="#7d98d2"/>
<circle cx="390.33" cy="575.69" r="1.00" fill="#7d98d2"/>
<circle cx="390.09" cy="581.29" r="1.00" fill="#8a9cc0"/>
<circle cx="391.55" cy="582.21" r="1.00" fill="#8a9cc0"/>
<circle cx="392.46" cy="583.29" r="1.00" fill="#8a9cc0"/>
<circle cx="394.44" cy="584.53" r="1.00" fill="#8a9cc0"/>
<circle cx="395.45" cy="585.02" r="1.00" fill="#8a9cc0"/>
<circle cx="397.82" cy="584.36" r="1.00" fill="#8a9cc0"/>
<circle cx="399.09" cy="584.42" r="1.00" fill="#8a9cc0"/>
<circle cx="400.47" cy="585.26" r="1.00" fill="#8a9cc0"/>
<circle cx="401.16" cy="586.20" r="1.00" fill="#8a9cc0"/>
<circle cx="400.44" cy="587.72" r="1.00" fill="#8a9cc0"/>
<circle cx="400.85" cy="589.08" r="1.00" fill="#8a9cc0"/>
<circle cx="399.50" cy="590.98" r="1.00" fill="#8a9cc0"/>
<circle cx="398.55" cy="593.60" r="1.00" fill="#b00a1a"/>
<circle cx="397.80" cy="595.72" r="1.00" fill="#b00a1a"/>
<circle cx="398.74" cy="596.20" r="1.00" fill="#b00a1a"/>
<circle cx="400.60" cy="594.61" r="1.00" fill="#b00a1a"/>
<circle cx="397.14" cy="593.98" r="1.00" fill="#a8081a"/>
<circle cx="399.55" cy="595.65" r="1.00" fill="#a8081a"/>
<circle cx="400.04" cy="595.92" r="1.00" fill="#a8081a"/>
<circle cx="397.77" cy="593.01" r="1.00" fill="#a8081a"/>
<circle cx="398.95" cy="596.24" r="1.00" fill="#a8081a"/>
<circle cx="398.04" cy="593.73" r="1.00" fill="#a8081a"/>
<circle cx="398.90" cy="595.56" r="1.00" fill="#a8081a"/>
<circle cx="400.34" cy="592.55" r="1.00" fill="#a8081a"/>
<circle cx="398.51" cy="594.85" r="1.00" fill="#a8081a"/>
<circle cx="399.94" cy="595.48" r="1.00" fill="#a8081a"/>
<circle cx="399.73" cy="594.70" r="1.00" fill="#a8081a"/>
<circle cx="398.60" cy="593.17" r="1.00" fill="#a8081a"/>
<circle cx="400.37" cy="594.40" r="1.00" fill="#a8081a"/>
<circle cx="399.47" cy="593.58" r="1.00" fill="#a8081a"/></svg>
</body></html>
